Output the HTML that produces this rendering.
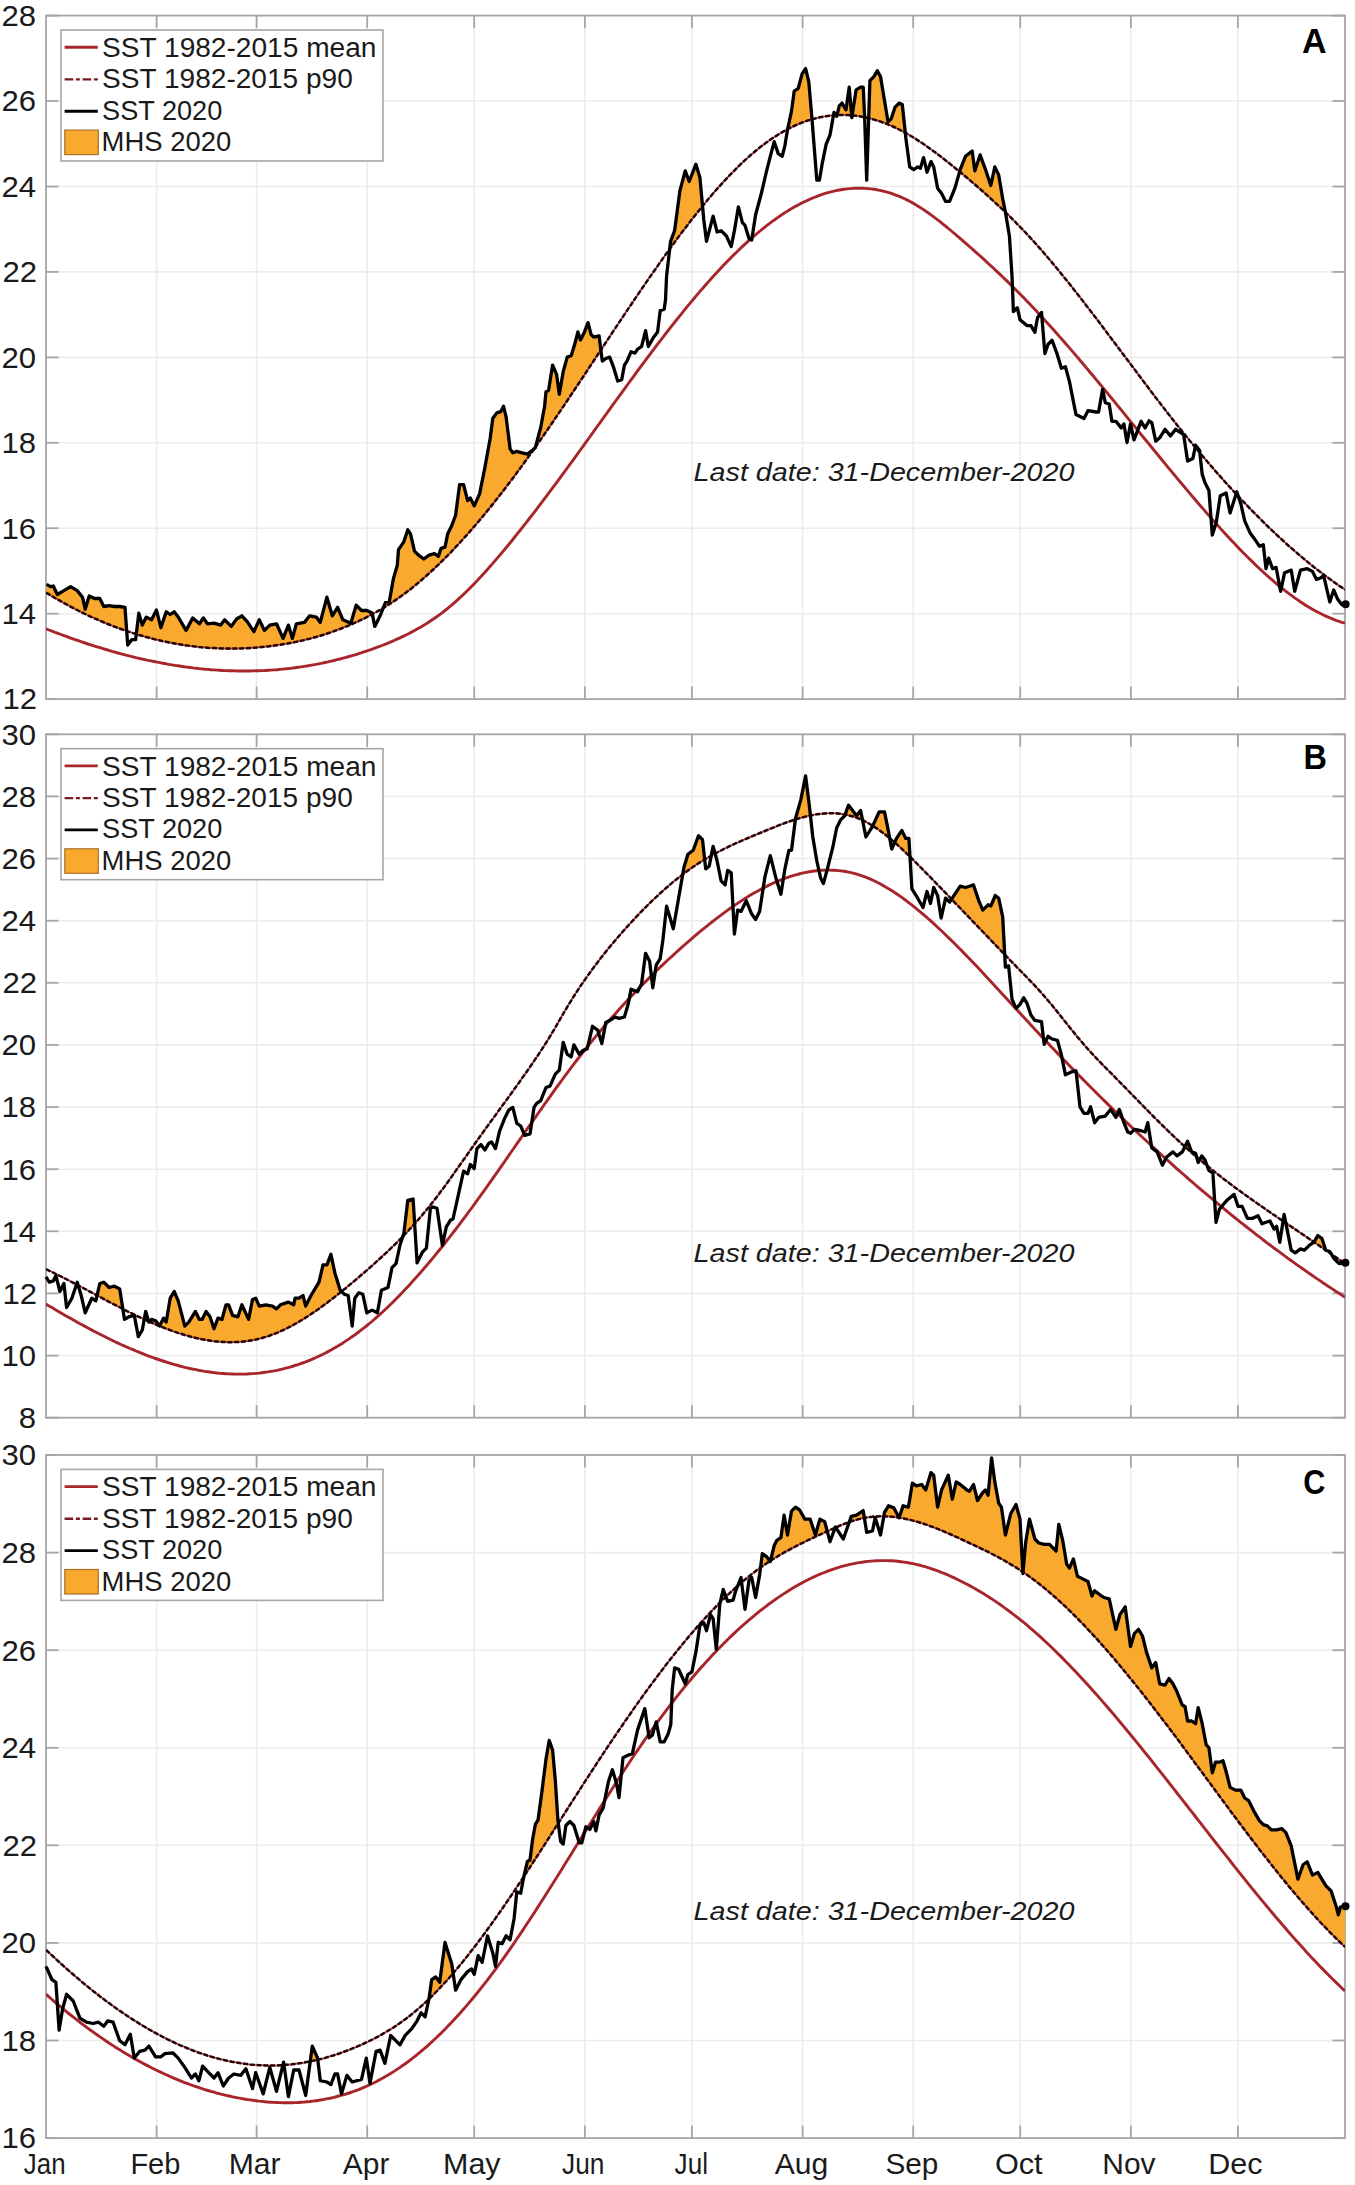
<!DOCTYPE html>
<html><head><meta charset="utf-8"><style>
html,body{margin:0;padding:0;background:#fff;}
svg{display:block;}
.grid{stroke:#ececec;stroke-width:1.6;}
.axis{fill:none;stroke:#a6a6a6;stroke-width:1.8;}
.tick{stroke:#a6a6a6;stroke-width:1.8;}
.mean{fill:none;stroke:#a8252c;stroke-width:2.9;stroke-linejoin:round;}
.p90u{fill:none;stroke:#b83038;stroke-width:1.6;}
.p90{fill:none;stroke:#200505;stroke-width:2.5;stroke-dasharray:5 1.8;}
.p90l{fill:none;stroke:#7a1a24;stroke-width:2.4;stroke-dasharray:8.6 2.7 4 2.7;}
.sst{fill:none;stroke:#000;stroke-width:3.3;stroke-linejoin:round;}
.mhs{fill:#f8a92e;stroke:none;}
.mhsbox{fill:#f8a92e;stroke:#a8702a;stroke-width:1.2;}
.leg{fill:#fff;stroke:#a6a6a6;stroke-width:1.6;}
text{font-family:"Liberation Sans",sans-serif;fill:#1a1a1a;}
.yt{font-size:29.6px;}
.mt{font-size:29.2px;}
.lt{font-size:27px;}
.pl{font-size:35px;font-weight:bold;fill:#000;}
.ld{font-size:26.3px;font-style:italic;}
</style></head>
<body><svg width="1355" height="2185" viewBox="0 0 1355 2185">
<rect width="1355" height="2185" fill="#fff"/>
<line x1="156.6" y1="15.6" x2="156.6" y2="699.1" class="grid"/>
<line x1="256.6" y1="15.6" x2="256.6" y2="699.1" class="grid"/>
<line x1="367.2" y1="15.6" x2="367.2" y2="699.1" class="grid"/>
<line x1="474.2" y1="15.6" x2="474.2" y2="699.1" class="grid"/>
<line x1="584.9" y1="15.6" x2="584.9" y2="699.1" class="grid"/>
<line x1="691.9" y1="15.6" x2="691.9" y2="699.1" class="grid"/>
<line x1="802.6" y1="15.6" x2="802.6" y2="699.1" class="grid"/>
<line x1="913.2" y1="15.6" x2="913.2" y2="699.1" class="grid"/>
<line x1="1020.2" y1="15.6" x2="1020.2" y2="699.1" class="grid"/>
<line x1="1130.9" y1="15.6" x2="1130.9" y2="699.1" class="grid"/>
<line x1="1237.9" y1="15.6" x2="1237.9" y2="699.1" class="grid"/>
<line x1="46.0" y1="613.7" x2="1345.0" y2="613.7" class="grid"/>
<line x1="46.0" y1="528.2" x2="1345.0" y2="528.2" class="grid"/>
<line x1="46.0" y1="442.8" x2="1345.0" y2="442.8" class="grid"/>
<line x1="46.0" y1="357.4" x2="1345.0" y2="357.4" class="grid"/>
<line x1="46.0" y1="271.9" x2="1345.0" y2="271.9" class="grid"/>
<line x1="46.0" y1="186.5" x2="1345.0" y2="186.5" class="grid"/>
<line x1="46.0" y1="101.0" x2="1345.0" y2="101.0" class="grid"/>
<rect x="46.0" y="15.6" width="1299.0" height="683.5" class="axis"/>
<line x1="156.6" y1="699.1" x2="156.6" y2="686.6" class="tick"/>
<line x1="156.6" y1="15.6" x2="156.6" y2="28.1" class="tick"/>
<line x1="256.6" y1="699.1" x2="256.6" y2="686.6" class="tick"/>
<line x1="256.6" y1="15.6" x2="256.6" y2="28.1" class="tick"/>
<line x1="367.2" y1="699.1" x2="367.2" y2="686.6" class="tick"/>
<line x1="367.2" y1="15.6" x2="367.2" y2="28.1" class="tick"/>
<line x1="474.2" y1="699.1" x2="474.2" y2="686.6" class="tick"/>
<line x1="474.2" y1="15.6" x2="474.2" y2="28.1" class="tick"/>
<line x1="584.9" y1="699.1" x2="584.9" y2="686.6" class="tick"/>
<line x1="584.9" y1="15.6" x2="584.9" y2="28.1" class="tick"/>
<line x1="691.9" y1="699.1" x2="691.9" y2="686.6" class="tick"/>
<line x1="691.9" y1="15.6" x2="691.9" y2="28.1" class="tick"/>
<line x1="802.6" y1="699.1" x2="802.6" y2="686.6" class="tick"/>
<line x1="802.6" y1="15.6" x2="802.6" y2="28.1" class="tick"/>
<line x1="913.2" y1="699.1" x2="913.2" y2="686.6" class="tick"/>
<line x1="913.2" y1="15.6" x2="913.2" y2="28.1" class="tick"/>
<line x1="1020.2" y1="699.1" x2="1020.2" y2="686.6" class="tick"/>
<line x1="1020.2" y1="15.6" x2="1020.2" y2="28.1" class="tick"/>
<line x1="1130.9" y1="699.1" x2="1130.9" y2="686.6" class="tick"/>
<line x1="1130.9" y1="15.6" x2="1130.9" y2="28.1" class="tick"/>
<line x1="1237.9" y1="699.1" x2="1237.9" y2="686.6" class="tick"/>
<line x1="1237.9" y1="15.6" x2="1237.9" y2="28.1" class="tick"/>
<line x1="46.0" y1="699.1" x2="58.5" y2="699.1" class="tick"/>
<line x1="1345.0" y1="699.1" x2="1332.5" y2="699.1" class="tick"/>
<text x="2.5" y="709.4" class="yt" textLength="34.6" lengthAdjust="spacingAndGlyphs">12</text>
<line x1="46.0" y1="613.7" x2="58.5" y2="613.7" class="tick"/>
<line x1="1345.0" y1="613.7" x2="1332.5" y2="613.7" class="tick"/>
<text x="1.4" y="624.0" class="yt" textLength="34.6" lengthAdjust="spacingAndGlyphs">14</text>
<line x1="46.0" y1="528.2" x2="58.5" y2="528.2" class="tick"/>
<line x1="1345.0" y1="528.2" x2="1332.5" y2="528.2" class="tick"/>
<text x="1.4" y="538.5" class="yt" textLength="34.6" lengthAdjust="spacingAndGlyphs">16</text>
<line x1="46.0" y1="442.8" x2="58.5" y2="442.8" class="tick"/>
<line x1="1345.0" y1="442.8" x2="1332.5" y2="442.8" class="tick"/>
<text x="1.4" y="453.1" class="yt" textLength="34.6" lengthAdjust="spacingAndGlyphs">18</text>
<line x1="46.0" y1="357.4" x2="58.5" y2="357.4" class="tick"/>
<line x1="1345.0" y1="357.4" x2="1332.5" y2="357.4" class="tick"/>
<text x="1.4" y="367.7" class="yt" textLength="34.6" lengthAdjust="spacingAndGlyphs">20</text>
<line x1="46.0" y1="271.9" x2="58.5" y2="271.9" class="tick"/>
<line x1="1345.0" y1="271.9" x2="1332.5" y2="271.9" class="tick"/>
<text x="2.5" y="282.2" class="yt" textLength="34.6" lengthAdjust="spacingAndGlyphs">22</text>
<line x1="46.0" y1="186.5" x2="58.5" y2="186.5" class="tick"/>
<line x1="1345.0" y1="186.5" x2="1332.5" y2="186.5" class="tick"/>
<text x="1.4" y="196.8" class="yt" textLength="34.6" lengthAdjust="spacingAndGlyphs">24</text>
<line x1="46.0" y1="101.0" x2="58.5" y2="101.0" class="tick"/>
<line x1="1345.0" y1="101.0" x2="1332.5" y2="101.0" class="tick"/>
<text x="1.4" y="111.3" class="yt" textLength="34.6" lengthAdjust="spacingAndGlyphs">26</text>
<line x1="46.0" y1="15.6" x2="58.5" y2="15.6" class="tick"/>
<line x1="1345.0" y1="15.6" x2="1332.5" y2="15.6" class="tick"/>
<text x="1.4" y="25.9" class="yt" textLength="34.6" lengthAdjust="spacingAndGlyphs">28</text>
<clipPath id="clipA"><path d="M46.0 592.6 L49.0 594.4 L52.0 596.2 L55.0 598.0 L58.0 599.7 L61.0 601.4 L64.0 603.1 L67.0 604.7 L70.0 606.3 L73.0 607.9 L76.0 609.5 L79.0 611.0 L82.0 612.5 L85.0 613.9 L88.0 615.4 L91.0 616.8 L94.0 618.1 L97.0 619.4 L100.0 620.8 L103.0 622.0 L106.0 623.3 L109.0 624.5 L112.0 625.7 L115.0 626.8 L118.0 627.9 L121.0 629.0 L124.0 630.1 L127.0 631.1 L130.0 632.1 L133.0 633.1 L136.0 634.0 L139.0 635.0 L142.0 635.8 L145.0 636.7 L148.0 637.5 L151.0 638.3 L154.0 639.1 L157.0 639.8 L160.0 640.5 L163.0 641.2 L166.0 641.8 L169.0 642.4 L172.0 643.0 L175.0 643.6 L178.0 644.1 L181.0 644.6 L184.0 645.1 L187.0 645.5 L190.0 645.9 L193.0 646.3 L196.0 646.6 L199.0 647.0 L202.0 647.3 L205.0 647.5 L208.0 647.8 L211.0 648.0 L214.0 648.1 L217.0 648.3 L220.0 648.4 L223.0 648.5 L226.0 648.6 L229.0 648.6 L232.0 648.6 L235.0 648.6 L238.0 648.5 L241.0 648.4 L244.0 648.3 L247.0 648.2 L250.0 648.0 L253.0 647.8 L256.0 647.6 L259.0 647.3 L262.0 647.0 L265.0 646.7 L268.0 646.4 L271.0 646.0 L274.0 645.6 L277.0 645.2 L280.0 644.8 L283.0 644.3 L286.0 643.8 L289.0 643.2 L292.0 642.7 L295.0 642.1 L298.0 641.4 L301.0 640.8 L304.0 640.1 L307.0 639.3 L310.0 638.6 L313.0 637.8 L316.0 637.0 L319.0 636.1 L322.0 635.2 L325.0 634.3 L328.0 633.3 L331.0 632.3 L334.0 631.2 L337.0 630.1 L340.0 629.0 L343.0 627.8 L346.0 626.6 L349.0 625.4 L352.0 624.1 L355.0 622.7 L358.0 621.4 L361.0 619.9 L364.0 618.5 L367.0 617.0 L370.0 615.4 L373.0 613.8 L376.0 612.1 L379.0 610.4 L382.0 608.7 L385.0 606.9 L388.0 605.0 L391.0 603.1 L394.0 601.1 L397.0 599.1 L400.0 597.0 L403.0 594.8 L406.0 592.6 L409.0 590.3 L412.0 587.9 L415.0 585.5 L418.0 583.0 L421.0 580.5 L424.0 577.9 L427.0 575.2 L430.0 572.5 L433.0 569.8 L436.0 566.9 L439.0 564.1 L442.0 561.1 L445.0 558.2 L448.0 555.1 L451.0 552.1 L454.0 548.9 L457.0 545.7 L460.0 542.5 L463.0 539.2 L466.0 535.9 L469.0 532.5 L472.0 529.1 L475.0 525.6 L478.0 522.1 L481.0 518.6 L484.0 515.0 L487.0 511.3 L490.0 507.6 L493.0 503.9 L496.0 500.1 L499.0 496.3 L502.0 492.5 L505.0 488.6 L508.0 484.6 L511.0 480.7 L514.0 476.7 L517.0 472.6 L520.0 468.6 L523.0 464.4 L526.0 460.3 L529.0 456.1 L532.0 451.9 L535.0 447.7 L538.0 443.4 L541.0 439.1 L544.0 434.8 L547.0 430.5 L550.0 426.1 L553.0 421.7 L556.0 417.3 L559.0 412.9 L562.0 408.4 L565.0 404.0 L568.0 399.5 L571.0 395.0 L574.0 390.5 L577.0 386.0 L580.0 381.5 L583.0 377.0 L586.0 372.5 L589.0 367.9 L592.0 363.4 L595.0 358.8 L598.0 354.3 L601.0 349.8 L604.0 345.2 L607.0 340.7 L610.0 336.2 L613.0 331.6 L616.0 327.1 L619.0 322.6 L622.0 318.1 L625.0 313.6 L628.0 309.1 L631.0 304.7 L634.0 300.2 L637.0 295.8 L640.0 291.4 L643.0 287.0 L646.0 282.6 L649.0 278.3 L652.0 274.0 L655.0 269.7 L658.0 265.4 L661.0 261.1 L664.0 256.9 L667.0 252.7 L670.0 248.6 L673.0 244.5 L676.0 240.4 L679.0 236.3 L682.0 232.3 L685.0 228.4 L688.0 224.4 L691.0 220.6 L694.0 216.7 L697.0 213.0 L700.0 209.2 L703.0 205.5 L706.0 201.9 L709.0 198.3 L712.0 194.8 L715.0 191.3 L718.0 187.9 L721.0 184.6 L724.0 181.3 L727.0 178.1 L730.0 174.9 L733.0 171.9 L736.0 168.8 L739.0 165.9 L742.0 163.0 L745.0 160.2 L748.0 157.5 L751.0 154.8 L754.0 152.3 L757.0 149.8 L760.0 147.3 L763.0 145.0 L766.0 142.8 L769.0 140.6 L772.0 138.5 L775.0 136.6 L778.0 134.7 L781.0 132.9 L784.0 131.1 L787.0 129.5 L790.0 128.0 L793.0 126.5 L796.0 125.1 L799.0 123.8 L802.0 122.6 L805.0 121.5 L808.0 120.5 L811.0 119.6 L814.0 118.7 L817.0 118.0 L820.0 117.3 L823.0 116.7 L826.0 116.2 L829.0 115.8 L832.0 115.4 L835.0 115.2 L838.0 115.0 L841.0 114.9 L844.0 114.9 L847.0 115.0 L850.0 115.2 L853.0 115.5 L856.0 115.8 L859.0 116.2 L862.0 116.7 L865.0 117.3 L868.0 118.0 L871.0 118.7 L874.0 119.6 L877.0 120.5 L880.0 121.4 L883.0 122.5 L886.0 123.6 L889.0 124.9 L892.0 126.1 L895.0 127.5 L898.0 129.0 L901.0 130.5 L904.0 132.1 L907.0 133.7 L910.0 135.5 L913.0 137.3 L916.0 139.1 L919.0 141.1 L922.0 143.0 L925.0 145.1 L928.0 147.2 L931.0 149.3 L934.0 151.5 L937.0 153.7 L940.0 156.0 L943.0 158.3 L946.0 160.7 L949.0 163.1 L952.0 165.5 L955.0 167.9 L958.0 170.4 L961.0 172.8 L964.0 175.3 L967.0 177.8 L970.0 180.4 L973.0 182.9 L976.0 185.5 L979.0 188.1 L982.0 190.7 L985.0 193.4 L988.0 196.0 L991.0 198.8 L994.0 201.5 L997.0 204.3 L1000.0 207.1 L1003.0 209.9 L1006.0 212.8 L1009.0 215.7 L1012.0 218.7 L1015.0 221.7 L1018.0 224.8 L1021.0 227.8 L1024.0 231.0 L1027.0 234.2 L1030.0 237.4 L1033.0 240.7 L1036.0 244.0 L1039.0 247.4 L1042.0 250.8 L1045.0 254.3 L1048.0 257.8 L1051.0 261.3 L1054.0 264.9 L1057.0 268.5 L1060.0 272.2 L1063.0 275.9 L1066.0 279.6 L1069.0 283.3 L1072.0 287.1 L1075.0 290.9 L1078.0 294.7 L1081.0 298.6 L1084.0 302.5 L1087.0 306.4 L1090.0 310.3 L1093.0 314.2 L1096.0 318.1 L1099.0 322.1 L1102.0 326.1 L1105.0 330.1 L1108.0 334.1 L1111.0 338.1 L1114.0 342.1 L1117.0 346.1 L1120.0 350.1 L1123.0 354.1 L1126.0 358.1 L1129.0 362.1 L1132.0 366.1 L1135.0 370.1 L1138.0 374.1 L1141.0 378.1 L1144.0 382.1 L1147.0 386.1 L1150.0 390.1 L1153.0 394.0 L1156.0 397.9 L1159.0 401.8 L1162.0 405.7 L1165.0 409.6 L1168.0 413.5 L1171.0 417.3 L1174.0 421.1 L1177.0 424.9 L1180.0 428.6 L1183.0 432.4 L1186.0 436.1 L1189.0 439.7 L1192.0 443.4 L1195.0 447.0 L1198.0 450.6 L1201.0 454.2 L1204.0 457.7 L1207.0 461.3 L1210.0 464.8 L1213.0 468.2 L1216.0 471.7 L1219.0 475.1 L1222.0 478.4 L1225.0 481.8 L1228.0 485.1 L1231.0 488.4 L1234.0 491.7 L1237.0 494.9 L1240.0 498.1 L1243.0 501.3 L1246.0 504.4 L1249.0 507.6 L1252.0 510.6 L1255.0 513.7 L1258.0 516.7 L1261.0 519.7 L1264.0 522.7 L1267.0 525.6 L1270.0 528.5 L1273.0 531.3 L1276.0 534.2 L1279.0 537.0 L1282.0 539.7 L1285.0 542.5 L1288.0 545.2 L1291.0 547.8 L1294.0 550.4 L1297.0 553.0 L1300.0 555.6 L1303.0 558.1 L1306.0 560.6 L1309.0 563.1 L1312.0 565.5 L1315.0 567.9 L1318.0 570.2 L1321.0 572.5 L1324.0 574.8 L1327.0 577.0 L1330.0 579.2 L1333.0 581.4 L1336.0 583.5 L1339.0 585.6 L1342.0 587.6 L1345.0 589.7 L1345.0 -34.4 L46.0 -34.4 Z"/></clipPath>
<clipPath id="axA"><rect x="46.0" y="15.6" width="1299.0" height="683.5"/></clipPath>
<g clip-path="url(#axA)">
<path d="M46.6 584.4 L50.6 586.6 L53.3 586.0 L57.3 594.5 L63.9 590.6 L70.6 586.6 L77.2 590.6 L82.5 597.2 L85.2 609.2 L89.2 595.9 L94.5 598.5 L99.8 598.5 L103.8 606.5 L109.1 605.7 L114.4 606.5 L119.7 606.5 L125.0 607.3 L127.7 645.0 L131.7 639.7 L135.6 639.7 L138.8 613.1 L142.3 625.1 L146.3 617.1 L151.6 619.8 L156.4 609.9 L160.9 627.7 L166.2 611.8 L170.2 614.5 L174.2 611.8 L178.2 617.1 L186.1 630.4 L192.8 617.9 L199.4 623.8 L203.4 617.9 L207.4 623.8 L214.0 623.2 L220.7 625.1 L224.6 619.8 L231.3 626.4 L236.6 619.0 L241.9 615.8 L247.2 621.6 L253.9 631.7 L259.2 619.8 L264.5 630.4 L269.8 625.1 L276.5 623.8 L283.1 638.4 L288.4 625.1 L292.4 638.4 L296.4 623.8 L304.4 622.4 L309.7 615.8 L316.3 617.1 L320.3 622.4 L326.9 597.2 L332.3 615.8 L337.6 607.3 L342.9 619.8 L350.8 623.2 L356.2 605.2 L361.5 610.5 L366.8 610.5 L372.1 613.1 L374.8 626.4 L380.1 615.8 L385.4 602.5 L389.4 601.2 L393.4 578.6 L397.3 565.3 L398.5 549.7 L403.8 541.8 L407.8 529.8 L410.5 533.8 L414.5 551.1 L418.5 555.1 L423.8 559.0 L429.1 555.1 L434.4 553.7 L438.4 556.4 L441.0 548.4 L445.0 547.1 L447.7 533.8 L451.7 525.8 L455.6 515.2 L459.6 484.6 L463.6 484.6 L467.6 500.6 L470.3 497.9 L474.2 505.9 L479.6 493.9 L484.9 467.4 L490.2 438.2 L492.8 418.2 L496.8 412.9 L500.8 411.6 L503.5 406.3 L506.1 416.9 L510.1 448.8 L512.8 452.8 L516.8 451.4 L522.1 452.8 L527.4 454.1 L532.7 450.1 L535.4 447.5 L540.7 427.5 L544.6 406.3 L546.0 391.7 L548.6 390.3 L552.6 365.1 L556.6 374.4 L559.3 394.3 L563.2 371.7 L567.2 357.1 L571.2 355.8 L575.2 342.5 L577.9 331.9 L580.5 339.9 L584.5 331.9 L588.0 322.6 L591.1 334.5 L593.8 337.2 L599.1 335.9 L600.4 346.5 L602.3 361.1 L605.8 358.5 L609.7 357.1 L613.7 367.7 L617.7 381.0 L621.7 379.7 L624.4 365.1 L627.0 361.1 L631.0 351.8 L635.0 353.1 L637.6 349.2 L641.6 346.5 L645.6 330.6 L648.3 346.5 L653.6 337.2 L657.6 331.9 L660.2 310.6 L664.2 309.3 L665.5 300.0 L666.6 275.8 L670.6 241.3 L674.6 230.7 L679.9 190.8 L685.2 170.9 L689.2 181.5 L695.9 164.2 L699.9 177.5 L703.8 220.0 L706.5 241.3 L713.1 216.1 L717.1 232.0 L721.1 230.7 L726.4 236.0 L731.2 246.6 L734.4 230.7 L738.4 206.8 L742.4 222.7 L745.0 225.4 L749.0 238.6 L751.7 240.0 L755.6 214.7 L761.0 194.8 L766.3 172.2 L770.3 156.3 L774.2 141.7 L778.2 153.6 L782.2 156.3 L784.9 145.6 L787.5 129.7 L791.5 111.1 L794.2 91.2 L798.2 88.5 L802.1 73.9 L805.6 68.6 L808.8 81.9 L812.0 119.1 L814.1 145.6 L816.8 180.2 L819.4 180.2 L822.1 164.2 L826.1 144.3 L830.0 135.0 L834.0 112.4 L836.7 116.4 L839.3 105.8 L842.0 103.1 L846.0 109.8 L849.2 87.2 L851.8 117.7 L856.1 89.9 L860.6 87.2 L863.2 87.2 L864.6 116.4 L866.7 180.2 L869.9 80.6 L873.9 76.6 L877.3 70.7 L880.5 76.6 L884.5 100.5 L888.0 121.7 L891.1 119.1 L895.1 107.1 L899.1 103.1 L902.3 104.5 L905.8 137.7 L909.7 166.9 L913.7 169.6 L917.7 166.9 L920.4 168.2 L923.6 157.6 L927.0 172.2 L931.0 161.6 L933.7 166.9 L937.6 188.2 L941.6 193.5 L945.6 201.4 L949.6 201.4 L954.9 188.2 L960.2 169.6 L965.5 156.3 L972.2 151.0 L974.8 170.9 L980.1 154.9 L985.5 169.6 L990.8 185.5 L994.8 166.9 L998.7 174.9 L1002.7 198.8 L1005.4 212.1 L1009.4 236.0 L1012.0 275.8 L1013.4 311.7 L1017.3 307.7 L1020.0 319.7 L1026.9 325.6 L1030.9 325.6 L1034.9 332.3 L1037.5 317.7 L1041.5 312.4 L1044.9 353.5 L1048.1 344.2 L1052.1 340.3 L1057.4 354.9 L1061.4 368.2 L1065.4 366.8 L1069.4 381.4 L1076.0 414.6 L1084.0 418.6 L1088.0 410.7 L1096.0 412.0 L1098.6 412.0 L1102.6 389.4 L1105.3 402.7 L1109.2 404.0 L1111.9 421.3 L1115.9 421.3 L1121.2 427.9 L1123.9 423.9 L1127.0 442.5 L1130.5 423.9 L1134.0 439.9 L1141.1 421.3 L1145.1 427.9 L1149.1 420.8 L1151.8 422.6 L1155.7 441.2 L1159.7 437.8 L1165.0 429.3 L1170.4 435.9 L1175.7 429.3 L1183.6 434.6 L1187.6 461.1 L1192.9 458.5 L1195.6 445.2 L1199.6 450.5 L1202.2 474.4 L1204.9 482.4 L1208.9 490.4 L1212.3 535.0 L1216.3 522.3 L1220.3 495.7 L1226.1 493.0 L1230.1 513.0 L1236.8 491.7 L1240.8 503.7 L1244.7 520.9 L1250.1 532.9 L1254.0 538.2 L1259.4 546.2 L1263.3 544.8 L1266.0 568.7 L1268.7 558.1 L1272.6 568.7 L1276.1 567.4 L1280.6 591.3 L1284.6 572.7 L1291.2 570.1 L1294.7 591.3 L1300.5 570.1 L1307.2 568.7 L1312.5 571.4 L1316.5 579.4 L1320.5 578.0 L1323.6 575.4 L1329.8 602.0 L1333.7 590.0 L1337.7 599.3 L1341.7 604.6 L1345.7 604.1 L1345.6 604.2 L1345.6 749.1 L46.6 749.1 Z" class="mhs" clip-path="url(#clipA)"/>
<path d="M46.0 628.8 L49.0 630.0 L52.0 631.1 L55.0 632.3 L58.0 633.4 L61.0 634.5 L64.0 635.6 L67.0 636.7 L70.0 637.8 L73.0 638.9 L76.0 639.9 L79.0 640.9 L82.0 642.0 L85.0 643.0 L88.0 644.0 L91.0 644.9 L94.0 645.9 L97.0 646.8 L100.0 647.7 L103.0 648.7 L106.0 649.5 L109.0 650.4 L112.0 651.3 L115.0 652.1 L118.0 653.0 L121.0 653.8 L124.0 654.6 L127.0 655.3 L130.0 656.1 L133.0 656.8 L136.0 657.6 L139.0 658.3 L142.0 659.0 L145.0 659.6 L148.0 660.3 L151.0 660.9 L154.0 661.5 L157.0 662.1 L160.0 662.7 L163.0 663.3 L166.0 663.8 L169.0 664.4 L172.0 664.9 L175.0 665.4 L178.0 665.8 L181.0 666.3 L184.0 666.7 L187.0 667.1 L190.0 667.5 L193.0 667.9 L196.0 668.2 L199.0 668.6 L202.0 668.9 L205.0 669.2 L208.0 669.4 L211.0 669.7 L214.0 669.9 L217.0 670.1 L220.0 670.3 L223.0 670.5 L226.0 670.6 L229.0 670.7 L232.0 670.8 L235.0 670.9 L238.0 671.0 L241.0 671.0 L244.0 671.0 L247.0 671.0 L250.0 671.0 L253.0 670.9 L256.0 670.8 L259.0 670.7 L262.0 670.6 L265.0 670.5 L268.0 670.3 L271.0 670.1 L274.0 669.9 L277.0 669.7 L280.0 669.4 L283.0 669.1 L286.0 668.8 L289.0 668.5 L292.0 668.1 L295.0 667.7 L298.0 667.3 L301.0 666.9 L304.0 666.4 L307.0 666.0 L310.0 665.4 L313.0 664.9 L316.0 664.4 L319.0 663.8 L322.0 663.2 L325.0 662.5 L328.0 661.9 L331.0 661.2 L334.0 660.5 L337.0 659.7 L340.0 659.0 L343.0 658.2 L346.0 657.4 L349.0 656.5 L352.0 655.7 L355.0 654.8 L358.0 653.8 L361.0 652.9 L364.0 651.9 L367.0 650.9 L370.0 649.9 L373.0 648.8 L376.0 647.7 L379.0 646.6 L382.0 645.5 L385.0 644.3 L388.0 643.1 L391.0 641.8 L394.0 640.5 L397.0 639.2 L400.0 637.9 L403.0 636.4 L406.0 635.0 L409.0 633.5 L412.0 631.9 L415.0 630.3 L418.0 628.6 L421.0 626.9 L424.0 625.1 L427.0 623.2 L430.0 621.3 L433.0 619.3 L436.0 617.2 L439.0 615.1 L442.0 612.9 L445.0 610.5 L448.0 608.1 L451.0 605.7 L454.0 603.1 L457.0 600.4 L460.0 597.7 L463.0 594.9 L466.0 592.0 L469.0 589.0 L472.0 586.0 L475.0 582.9 L478.0 579.8 L481.0 576.5 L484.0 573.2 L487.0 569.9 L490.0 566.5 L493.0 563.1 L496.0 559.6 L499.0 556.1 L502.0 552.6 L505.0 549.0 L508.0 545.3 L511.0 541.7 L514.0 538.0 L517.0 534.2 L520.0 530.5 L523.0 526.7 L526.0 522.9 L529.0 519.0 L532.0 515.2 L535.0 511.3 L538.0 507.3 L541.0 503.4 L544.0 499.4 L547.0 495.4 L550.0 491.4 L553.0 487.4 L556.0 483.3 L559.0 479.3 L562.0 475.2 L565.0 471.1 L568.0 467.0 L571.0 462.9 L574.0 458.8 L577.0 454.6 L580.0 450.5 L583.0 446.3 L586.0 442.2 L589.0 438.0 L592.0 433.8 L595.0 429.7 L598.0 425.5 L601.0 421.3 L604.0 417.2 L607.0 413.0 L610.0 408.8 L613.0 404.7 L616.0 400.5 L619.0 396.4 L622.0 392.3 L625.0 388.1 L628.0 384.0 L631.0 379.9 L634.0 375.8 L637.0 371.7 L640.0 367.7 L643.0 363.6 L646.0 359.6 L649.0 355.6 L652.0 351.6 L655.0 347.6 L658.0 343.7 L661.0 339.8 L664.0 335.9 L667.0 332.0 L670.0 328.2 L673.0 324.3 L676.0 320.5 L679.0 316.8 L682.0 313.1 L685.0 309.4 L688.0 305.7 L691.0 302.1 L694.0 298.5 L697.0 294.9 L700.0 291.4 L703.0 288.0 L706.0 284.5 L709.0 281.1 L712.0 277.8 L715.0 274.5 L718.0 271.2 L721.0 268.0 L724.0 264.8 L727.0 261.7 L730.0 258.7 L733.0 255.6 L736.0 252.7 L739.0 249.8 L742.0 246.9 L745.0 244.1 L748.0 241.4 L751.0 238.7 L754.0 236.1 L757.0 233.5 L760.0 231.0 L763.0 228.6 L766.0 226.2 L769.0 223.9 L772.0 221.6 L775.0 219.5 L778.0 217.4 L781.0 215.3 L784.0 213.3 L787.0 211.4 L790.0 209.6 L793.0 207.8 L796.0 206.1 L799.0 204.5 L802.0 202.9 L805.0 201.5 L808.0 200.1 L811.0 198.7 L814.0 197.5 L817.0 196.3 L820.0 195.2 L823.0 194.2 L826.0 193.2 L829.0 192.4 L832.0 191.6 L835.0 190.9 L838.0 190.2 L841.0 189.7 L844.0 189.2 L847.0 188.9 L850.0 188.6 L853.0 188.4 L856.0 188.2 L859.0 188.2 L862.0 188.2 L865.0 188.4 L868.0 188.6 L871.0 188.9 L874.0 189.3 L877.0 189.8 L880.0 190.4 L883.0 191.1 L886.0 191.9 L889.0 192.7 L892.0 193.7 L895.0 194.8 L898.0 195.9 L901.0 197.2 L904.0 198.5 L907.0 199.9 L910.0 201.5 L913.0 203.1 L916.0 204.9 L919.0 206.7 L922.0 208.6 L925.0 210.6 L928.0 212.7 L931.0 214.9 L934.0 217.1 L937.0 219.4 L940.0 221.7 L943.0 224.1 L946.0 226.5 L949.0 229.0 L952.0 231.5 L955.0 234.0 L958.0 236.6 L961.0 239.2 L964.0 241.8 L967.0 244.4 L970.0 247.0 L973.0 249.7 L976.0 252.3 L979.0 255.0 L982.0 257.7 L985.0 260.4 L988.0 263.2 L991.0 266.0 L994.0 268.7 L997.0 271.6 L1000.0 274.4 L1003.0 277.2 L1006.0 280.1 L1009.0 283.0 L1012.0 286.0 L1015.0 289.0 L1018.0 292.0 L1021.0 295.0 L1024.0 298.1 L1027.0 301.2 L1030.0 304.3 L1033.0 307.4 L1036.0 310.6 L1039.0 313.9 L1042.0 317.1 L1045.0 320.4 L1048.0 323.7 L1051.0 327.0 L1054.0 330.3 L1057.0 333.7 L1060.0 337.1 L1063.0 340.5 L1066.0 344.0 L1069.0 347.4 L1072.0 350.9 L1075.0 354.4 L1078.0 357.9 L1081.0 361.5 L1084.0 365.0 L1087.0 368.6 L1090.0 372.2 L1093.0 375.8 L1096.0 379.4 L1099.0 383.0 L1102.0 386.6 L1105.0 390.2 L1108.0 393.9 L1111.0 397.5 L1114.0 401.2 L1117.0 404.9 L1120.0 408.5 L1123.0 412.2 L1126.0 415.9 L1129.0 419.6 L1132.0 423.3 L1135.0 426.9 L1138.0 430.6 L1141.0 434.3 L1144.0 438.0 L1147.0 441.7 L1150.0 445.3 L1153.0 449.0 L1156.0 452.7 L1159.0 456.3 L1162.0 460.0 L1165.0 463.6 L1168.0 467.3 L1171.0 470.9 L1174.0 474.5 L1177.0 478.1 L1180.0 481.7 L1183.0 485.3 L1186.0 488.9 L1189.0 492.4 L1192.0 496.0 L1195.0 499.5 L1198.0 503.0 L1201.0 506.5 L1204.0 509.9 L1207.0 513.4 L1210.0 516.8 L1213.0 520.2 L1216.0 523.5 L1219.0 526.9 L1222.0 530.2 L1225.0 533.5 L1228.0 536.7 L1231.0 540.0 L1234.0 543.1 L1237.0 546.3 L1240.0 549.4 L1243.0 552.5 L1246.0 555.5 L1249.0 558.5 L1252.0 561.4 L1255.0 564.4 L1258.0 567.2 L1261.0 570.0 L1264.0 572.8 L1267.0 575.5 L1270.0 578.1 L1273.0 580.7 L1276.0 583.3 L1279.0 585.8 L1282.0 588.2 L1285.0 590.6 L1288.0 592.9 L1291.0 595.1 L1294.0 597.3 L1297.0 599.4 L1300.0 601.5 L1303.0 603.5 L1306.0 605.4 L1309.0 607.2 L1312.0 609.0 L1315.0 610.7 L1318.0 612.3 L1321.0 613.8 L1324.0 615.3 L1327.0 616.6 L1330.0 617.9 L1333.0 619.1 L1336.0 620.3 L1339.0 621.3 L1342.0 622.3 L1345.0 623.1" class="mean"/>
<path d="M46.0 592.6 L49.0 594.4 L52.0 596.2 L55.0 598.0 L58.0 599.7 L61.0 601.4 L64.0 603.1 L67.0 604.7 L70.0 606.3 L73.0 607.9 L76.0 609.5 L79.0 611.0 L82.0 612.5 L85.0 613.9 L88.0 615.4 L91.0 616.8 L94.0 618.1 L97.0 619.4 L100.0 620.8 L103.0 622.0 L106.0 623.3 L109.0 624.5 L112.0 625.7 L115.0 626.8 L118.0 627.9 L121.0 629.0 L124.0 630.1 L127.0 631.1 L130.0 632.1 L133.0 633.1 L136.0 634.0 L139.0 635.0 L142.0 635.8 L145.0 636.7 L148.0 637.5 L151.0 638.3 L154.0 639.1 L157.0 639.8 L160.0 640.5 L163.0 641.2 L166.0 641.8 L169.0 642.4 L172.0 643.0 L175.0 643.6 L178.0 644.1 L181.0 644.6 L184.0 645.1 L187.0 645.5 L190.0 645.9 L193.0 646.3 L196.0 646.6 L199.0 647.0 L202.0 647.3 L205.0 647.5 L208.0 647.8 L211.0 648.0 L214.0 648.1 L217.0 648.3 L220.0 648.4 L223.0 648.5 L226.0 648.6 L229.0 648.6 L232.0 648.6 L235.0 648.6 L238.0 648.5 L241.0 648.4 L244.0 648.3 L247.0 648.2 L250.0 648.0 L253.0 647.8 L256.0 647.6 L259.0 647.3 L262.0 647.0 L265.0 646.7 L268.0 646.4 L271.0 646.0 L274.0 645.6 L277.0 645.2 L280.0 644.8 L283.0 644.3 L286.0 643.8 L289.0 643.2 L292.0 642.7 L295.0 642.1 L298.0 641.4 L301.0 640.8 L304.0 640.1 L307.0 639.3 L310.0 638.6 L313.0 637.8 L316.0 637.0 L319.0 636.1 L322.0 635.2 L325.0 634.3 L328.0 633.3 L331.0 632.3 L334.0 631.2 L337.0 630.1 L340.0 629.0 L343.0 627.8 L346.0 626.6 L349.0 625.4 L352.0 624.1 L355.0 622.7 L358.0 621.4 L361.0 619.9 L364.0 618.5 L367.0 617.0 L370.0 615.4 L373.0 613.8 L376.0 612.1 L379.0 610.4 L382.0 608.7 L385.0 606.9 L388.0 605.0 L391.0 603.1 L394.0 601.1 L397.0 599.1 L400.0 597.0 L403.0 594.8 L406.0 592.6 L409.0 590.3 L412.0 587.9 L415.0 585.5 L418.0 583.0 L421.0 580.5 L424.0 577.9 L427.0 575.2 L430.0 572.5 L433.0 569.8 L436.0 566.9 L439.0 564.1 L442.0 561.1 L445.0 558.2 L448.0 555.1 L451.0 552.1 L454.0 548.9 L457.0 545.7 L460.0 542.5 L463.0 539.2 L466.0 535.9 L469.0 532.5 L472.0 529.1 L475.0 525.6 L478.0 522.1 L481.0 518.6 L484.0 515.0 L487.0 511.3 L490.0 507.6 L493.0 503.9 L496.0 500.1 L499.0 496.3 L502.0 492.5 L505.0 488.6 L508.0 484.6 L511.0 480.7 L514.0 476.7 L517.0 472.6 L520.0 468.6 L523.0 464.4 L526.0 460.3 L529.0 456.1 L532.0 451.9 L535.0 447.7 L538.0 443.4 L541.0 439.1 L544.0 434.8 L547.0 430.5 L550.0 426.1 L553.0 421.7 L556.0 417.3 L559.0 412.9 L562.0 408.4 L565.0 404.0 L568.0 399.5 L571.0 395.0 L574.0 390.5 L577.0 386.0 L580.0 381.5 L583.0 377.0 L586.0 372.5 L589.0 367.9 L592.0 363.4 L595.0 358.8 L598.0 354.3 L601.0 349.8 L604.0 345.2 L607.0 340.7 L610.0 336.2 L613.0 331.6 L616.0 327.1 L619.0 322.6 L622.0 318.1 L625.0 313.6 L628.0 309.1 L631.0 304.7 L634.0 300.2 L637.0 295.8 L640.0 291.4 L643.0 287.0 L646.0 282.6 L649.0 278.3 L652.0 274.0 L655.0 269.7 L658.0 265.4 L661.0 261.1 L664.0 256.9 L667.0 252.7 L670.0 248.6 L673.0 244.5 L676.0 240.4 L679.0 236.3 L682.0 232.3 L685.0 228.4 L688.0 224.4 L691.0 220.6 L694.0 216.7 L697.0 213.0 L700.0 209.2 L703.0 205.5 L706.0 201.9 L709.0 198.3 L712.0 194.8 L715.0 191.3 L718.0 187.9 L721.0 184.6 L724.0 181.3 L727.0 178.1 L730.0 174.9 L733.0 171.9 L736.0 168.8 L739.0 165.9 L742.0 163.0 L745.0 160.2 L748.0 157.5 L751.0 154.8 L754.0 152.3 L757.0 149.8 L760.0 147.3 L763.0 145.0 L766.0 142.8 L769.0 140.6 L772.0 138.5 L775.0 136.6 L778.0 134.7 L781.0 132.9 L784.0 131.1 L787.0 129.5 L790.0 128.0 L793.0 126.5 L796.0 125.1 L799.0 123.8 L802.0 122.6 L805.0 121.5 L808.0 120.5 L811.0 119.6 L814.0 118.7 L817.0 118.0 L820.0 117.3 L823.0 116.7 L826.0 116.2 L829.0 115.8 L832.0 115.4 L835.0 115.2 L838.0 115.0 L841.0 114.9 L844.0 114.9 L847.0 115.0 L850.0 115.2 L853.0 115.5 L856.0 115.8 L859.0 116.2 L862.0 116.7 L865.0 117.3 L868.0 118.0 L871.0 118.7 L874.0 119.6 L877.0 120.5 L880.0 121.4 L883.0 122.5 L886.0 123.6 L889.0 124.9 L892.0 126.1 L895.0 127.5 L898.0 129.0 L901.0 130.5 L904.0 132.1 L907.0 133.7 L910.0 135.5 L913.0 137.3 L916.0 139.1 L919.0 141.1 L922.0 143.0 L925.0 145.1 L928.0 147.2 L931.0 149.3 L934.0 151.5 L937.0 153.7 L940.0 156.0 L943.0 158.3 L946.0 160.7 L949.0 163.1 L952.0 165.5 L955.0 167.9 L958.0 170.4 L961.0 172.8 L964.0 175.3 L967.0 177.8 L970.0 180.4 L973.0 182.9 L976.0 185.5 L979.0 188.1 L982.0 190.7 L985.0 193.4 L988.0 196.0 L991.0 198.8 L994.0 201.5 L997.0 204.3 L1000.0 207.1 L1003.0 209.9 L1006.0 212.8 L1009.0 215.7 L1012.0 218.7 L1015.0 221.7 L1018.0 224.8 L1021.0 227.8 L1024.0 231.0 L1027.0 234.2 L1030.0 237.4 L1033.0 240.7 L1036.0 244.0 L1039.0 247.4 L1042.0 250.8 L1045.0 254.3 L1048.0 257.8 L1051.0 261.3 L1054.0 264.9 L1057.0 268.5 L1060.0 272.2 L1063.0 275.9 L1066.0 279.6 L1069.0 283.3 L1072.0 287.1 L1075.0 290.9 L1078.0 294.7 L1081.0 298.6 L1084.0 302.5 L1087.0 306.4 L1090.0 310.3 L1093.0 314.2 L1096.0 318.1 L1099.0 322.1 L1102.0 326.1 L1105.0 330.1 L1108.0 334.1 L1111.0 338.1 L1114.0 342.1 L1117.0 346.1 L1120.0 350.1 L1123.0 354.1 L1126.0 358.1 L1129.0 362.1 L1132.0 366.1 L1135.0 370.1 L1138.0 374.1 L1141.0 378.1 L1144.0 382.1 L1147.0 386.1 L1150.0 390.1 L1153.0 394.0 L1156.0 397.9 L1159.0 401.8 L1162.0 405.7 L1165.0 409.6 L1168.0 413.5 L1171.0 417.3 L1174.0 421.1 L1177.0 424.9 L1180.0 428.6 L1183.0 432.4 L1186.0 436.1 L1189.0 439.7 L1192.0 443.4 L1195.0 447.0 L1198.0 450.6 L1201.0 454.2 L1204.0 457.7 L1207.0 461.3 L1210.0 464.8 L1213.0 468.2 L1216.0 471.7 L1219.0 475.1 L1222.0 478.4 L1225.0 481.8 L1228.0 485.1 L1231.0 488.4 L1234.0 491.7 L1237.0 494.9 L1240.0 498.1 L1243.0 501.3 L1246.0 504.4 L1249.0 507.6 L1252.0 510.6 L1255.0 513.7 L1258.0 516.7 L1261.0 519.7 L1264.0 522.7 L1267.0 525.6 L1270.0 528.5 L1273.0 531.3 L1276.0 534.2 L1279.0 537.0 L1282.0 539.7 L1285.0 542.5 L1288.0 545.2 L1291.0 547.8 L1294.0 550.4 L1297.0 553.0 L1300.0 555.6 L1303.0 558.1 L1306.0 560.6 L1309.0 563.1 L1312.0 565.5 L1315.0 567.9 L1318.0 570.2 L1321.0 572.5 L1324.0 574.8 L1327.0 577.0 L1330.0 579.2 L1333.0 581.4 L1336.0 583.5 L1339.0 585.6 L1342.0 587.6 L1345.0 589.7" class="p90u"/>
<path d="M46.0 592.6 L49.0 594.4 L52.0 596.2 L55.0 598.0 L58.0 599.7 L61.0 601.4 L64.0 603.1 L67.0 604.7 L70.0 606.3 L73.0 607.9 L76.0 609.5 L79.0 611.0 L82.0 612.5 L85.0 613.9 L88.0 615.4 L91.0 616.8 L94.0 618.1 L97.0 619.4 L100.0 620.8 L103.0 622.0 L106.0 623.3 L109.0 624.5 L112.0 625.7 L115.0 626.8 L118.0 627.9 L121.0 629.0 L124.0 630.1 L127.0 631.1 L130.0 632.1 L133.0 633.1 L136.0 634.0 L139.0 635.0 L142.0 635.8 L145.0 636.7 L148.0 637.5 L151.0 638.3 L154.0 639.1 L157.0 639.8 L160.0 640.5 L163.0 641.2 L166.0 641.8 L169.0 642.4 L172.0 643.0 L175.0 643.6 L178.0 644.1 L181.0 644.6 L184.0 645.1 L187.0 645.5 L190.0 645.9 L193.0 646.3 L196.0 646.6 L199.0 647.0 L202.0 647.3 L205.0 647.5 L208.0 647.8 L211.0 648.0 L214.0 648.1 L217.0 648.3 L220.0 648.4 L223.0 648.5 L226.0 648.6 L229.0 648.6 L232.0 648.6 L235.0 648.6 L238.0 648.5 L241.0 648.4 L244.0 648.3 L247.0 648.2 L250.0 648.0 L253.0 647.8 L256.0 647.6 L259.0 647.3 L262.0 647.0 L265.0 646.7 L268.0 646.4 L271.0 646.0 L274.0 645.6 L277.0 645.2 L280.0 644.8 L283.0 644.3 L286.0 643.8 L289.0 643.2 L292.0 642.7 L295.0 642.1 L298.0 641.4 L301.0 640.8 L304.0 640.1 L307.0 639.3 L310.0 638.6 L313.0 637.8 L316.0 637.0 L319.0 636.1 L322.0 635.2 L325.0 634.3 L328.0 633.3 L331.0 632.3 L334.0 631.2 L337.0 630.1 L340.0 629.0 L343.0 627.8 L346.0 626.6 L349.0 625.4 L352.0 624.1 L355.0 622.7 L358.0 621.4 L361.0 619.9 L364.0 618.5 L367.0 617.0 L370.0 615.4 L373.0 613.8 L376.0 612.1 L379.0 610.4 L382.0 608.7 L385.0 606.9 L388.0 605.0 L391.0 603.1 L394.0 601.1 L397.0 599.1 L400.0 597.0 L403.0 594.8 L406.0 592.6 L409.0 590.3 L412.0 587.9 L415.0 585.5 L418.0 583.0 L421.0 580.5 L424.0 577.9 L427.0 575.2 L430.0 572.5 L433.0 569.8 L436.0 566.9 L439.0 564.1 L442.0 561.1 L445.0 558.2 L448.0 555.1 L451.0 552.1 L454.0 548.9 L457.0 545.7 L460.0 542.5 L463.0 539.2 L466.0 535.9 L469.0 532.5 L472.0 529.1 L475.0 525.6 L478.0 522.1 L481.0 518.6 L484.0 515.0 L487.0 511.3 L490.0 507.6 L493.0 503.9 L496.0 500.1 L499.0 496.3 L502.0 492.5 L505.0 488.6 L508.0 484.6 L511.0 480.7 L514.0 476.7 L517.0 472.6 L520.0 468.6 L523.0 464.4 L526.0 460.3 L529.0 456.1 L532.0 451.9 L535.0 447.7 L538.0 443.4 L541.0 439.1 L544.0 434.8 L547.0 430.5 L550.0 426.1 L553.0 421.7 L556.0 417.3 L559.0 412.9 L562.0 408.4 L565.0 404.0 L568.0 399.5 L571.0 395.0 L574.0 390.5 L577.0 386.0 L580.0 381.5 L583.0 377.0 L586.0 372.5 L589.0 367.9 L592.0 363.4 L595.0 358.8 L598.0 354.3 L601.0 349.8 L604.0 345.2 L607.0 340.7 L610.0 336.2 L613.0 331.6 L616.0 327.1 L619.0 322.6 L622.0 318.1 L625.0 313.6 L628.0 309.1 L631.0 304.7 L634.0 300.2 L637.0 295.8 L640.0 291.4 L643.0 287.0 L646.0 282.6 L649.0 278.3 L652.0 274.0 L655.0 269.7 L658.0 265.4 L661.0 261.1 L664.0 256.9 L667.0 252.7 L670.0 248.6 L673.0 244.5 L676.0 240.4 L679.0 236.3 L682.0 232.3 L685.0 228.4 L688.0 224.4 L691.0 220.6 L694.0 216.7 L697.0 213.0 L700.0 209.2 L703.0 205.5 L706.0 201.9 L709.0 198.3 L712.0 194.8 L715.0 191.3 L718.0 187.9 L721.0 184.6 L724.0 181.3 L727.0 178.1 L730.0 174.9 L733.0 171.9 L736.0 168.8 L739.0 165.9 L742.0 163.0 L745.0 160.2 L748.0 157.5 L751.0 154.8 L754.0 152.3 L757.0 149.8 L760.0 147.3 L763.0 145.0 L766.0 142.8 L769.0 140.6 L772.0 138.5 L775.0 136.6 L778.0 134.7 L781.0 132.9 L784.0 131.1 L787.0 129.5 L790.0 128.0 L793.0 126.5 L796.0 125.1 L799.0 123.8 L802.0 122.6 L805.0 121.5 L808.0 120.5 L811.0 119.6 L814.0 118.7 L817.0 118.0 L820.0 117.3 L823.0 116.7 L826.0 116.2 L829.0 115.8 L832.0 115.4 L835.0 115.2 L838.0 115.0 L841.0 114.9 L844.0 114.9 L847.0 115.0 L850.0 115.2 L853.0 115.5 L856.0 115.8 L859.0 116.2 L862.0 116.7 L865.0 117.3 L868.0 118.0 L871.0 118.7 L874.0 119.6 L877.0 120.5 L880.0 121.4 L883.0 122.5 L886.0 123.6 L889.0 124.9 L892.0 126.1 L895.0 127.5 L898.0 129.0 L901.0 130.5 L904.0 132.1 L907.0 133.7 L910.0 135.5 L913.0 137.3 L916.0 139.1 L919.0 141.1 L922.0 143.0 L925.0 145.1 L928.0 147.2 L931.0 149.3 L934.0 151.5 L937.0 153.7 L940.0 156.0 L943.0 158.3 L946.0 160.7 L949.0 163.1 L952.0 165.5 L955.0 167.9 L958.0 170.4 L961.0 172.8 L964.0 175.3 L967.0 177.8 L970.0 180.4 L973.0 182.9 L976.0 185.5 L979.0 188.1 L982.0 190.7 L985.0 193.4 L988.0 196.0 L991.0 198.8 L994.0 201.5 L997.0 204.3 L1000.0 207.1 L1003.0 209.9 L1006.0 212.8 L1009.0 215.7 L1012.0 218.7 L1015.0 221.7 L1018.0 224.8 L1021.0 227.8 L1024.0 231.0 L1027.0 234.2 L1030.0 237.4 L1033.0 240.7 L1036.0 244.0 L1039.0 247.4 L1042.0 250.8 L1045.0 254.3 L1048.0 257.8 L1051.0 261.3 L1054.0 264.9 L1057.0 268.5 L1060.0 272.2 L1063.0 275.9 L1066.0 279.6 L1069.0 283.3 L1072.0 287.1 L1075.0 290.9 L1078.0 294.7 L1081.0 298.6 L1084.0 302.5 L1087.0 306.4 L1090.0 310.3 L1093.0 314.2 L1096.0 318.1 L1099.0 322.1 L1102.0 326.1 L1105.0 330.1 L1108.0 334.1 L1111.0 338.1 L1114.0 342.1 L1117.0 346.1 L1120.0 350.1 L1123.0 354.1 L1126.0 358.1 L1129.0 362.1 L1132.0 366.1 L1135.0 370.1 L1138.0 374.1 L1141.0 378.1 L1144.0 382.1 L1147.0 386.1 L1150.0 390.1 L1153.0 394.0 L1156.0 397.9 L1159.0 401.8 L1162.0 405.7 L1165.0 409.6 L1168.0 413.5 L1171.0 417.3 L1174.0 421.1 L1177.0 424.9 L1180.0 428.6 L1183.0 432.4 L1186.0 436.1 L1189.0 439.7 L1192.0 443.4 L1195.0 447.0 L1198.0 450.6 L1201.0 454.2 L1204.0 457.7 L1207.0 461.3 L1210.0 464.8 L1213.0 468.2 L1216.0 471.7 L1219.0 475.1 L1222.0 478.4 L1225.0 481.8 L1228.0 485.1 L1231.0 488.4 L1234.0 491.7 L1237.0 494.9 L1240.0 498.1 L1243.0 501.3 L1246.0 504.4 L1249.0 507.6 L1252.0 510.6 L1255.0 513.7 L1258.0 516.7 L1261.0 519.7 L1264.0 522.7 L1267.0 525.6 L1270.0 528.5 L1273.0 531.3 L1276.0 534.2 L1279.0 537.0 L1282.0 539.7 L1285.0 542.5 L1288.0 545.2 L1291.0 547.8 L1294.0 550.4 L1297.0 553.0 L1300.0 555.6 L1303.0 558.1 L1306.0 560.6 L1309.0 563.1 L1312.0 565.5 L1315.0 567.9 L1318.0 570.2 L1321.0 572.5 L1324.0 574.8 L1327.0 577.0 L1330.0 579.2 L1333.0 581.4 L1336.0 583.5 L1339.0 585.6 L1342.0 587.6 L1345.0 589.7" class="p90"/>
</g>
<path d="M46.6 584.4 L50.6 586.6 L53.3 586.0 L57.3 594.5 L63.9 590.6 L70.6 586.6 L77.2 590.6 L82.5 597.2 L85.2 609.2 L89.2 595.9 L94.5 598.5 L99.8 598.5 L103.8 606.5 L109.1 605.7 L114.4 606.5 L119.7 606.5 L125.0 607.3 L127.7 645.0 L131.7 639.7 L135.6 639.7 L138.8 613.1 L142.3 625.1 L146.3 617.1 L151.6 619.8 L156.4 609.9 L160.9 627.7 L166.2 611.8 L170.2 614.5 L174.2 611.8 L178.2 617.1 L186.1 630.4 L192.8 617.9 L199.4 623.8 L203.4 617.9 L207.4 623.8 L214.0 623.2 L220.7 625.1 L224.6 619.8 L231.3 626.4 L236.6 619.0 L241.9 615.8 L247.2 621.6 L253.9 631.7 L259.2 619.8 L264.5 630.4 L269.8 625.1 L276.5 623.8 L283.1 638.4 L288.4 625.1 L292.4 638.4 L296.4 623.8 L304.4 622.4 L309.7 615.8 L316.3 617.1 L320.3 622.4 L326.9 597.2 L332.3 615.8 L337.6 607.3 L342.9 619.8 L350.8 623.2 L356.2 605.2 L361.5 610.5 L366.8 610.5 L372.1 613.1 L374.8 626.4 L380.1 615.8 L385.4 602.5 L389.4 601.2 L393.4 578.6 L397.3 565.3 L398.5 549.7 L403.8 541.8 L407.8 529.8 L410.5 533.8 L414.5 551.1 L418.5 555.1 L423.8 559.0 L429.1 555.1 L434.4 553.7 L438.4 556.4 L441.0 548.4 L445.0 547.1 L447.7 533.8 L451.7 525.8 L455.6 515.2 L459.6 484.6 L463.6 484.6 L467.6 500.6 L470.3 497.9 L474.2 505.9 L479.6 493.9 L484.9 467.4 L490.2 438.2 L492.8 418.2 L496.8 412.9 L500.8 411.6 L503.5 406.3 L506.1 416.9 L510.1 448.8 L512.8 452.8 L516.8 451.4 L522.1 452.8 L527.4 454.1 L532.7 450.1 L535.4 447.5 L540.7 427.5 L544.6 406.3 L546.0 391.7 L548.6 390.3 L552.6 365.1 L556.6 374.4 L559.3 394.3 L563.2 371.7 L567.2 357.1 L571.2 355.8 L575.2 342.5 L577.9 331.9 L580.5 339.9 L584.5 331.9 L588.0 322.6 L591.1 334.5 L593.8 337.2 L599.1 335.9 L600.4 346.5 L602.3 361.1 L605.8 358.5 L609.7 357.1 L613.7 367.7 L617.7 381.0 L621.7 379.7 L624.4 365.1 L627.0 361.1 L631.0 351.8 L635.0 353.1 L637.6 349.2 L641.6 346.5 L645.6 330.6 L648.3 346.5 L653.6 337.2 L657.6 331.9 L660.2 310.6 L664.2 309.3 L665.5 300.0 L666.6 275.8 L670.6 241.3 L674.6 230.7 L679.9 190.8 L685.2 170.9 L689.2 181.5 L695.9 164.2 L699.9 177.5 L703.8 220.0 L706.5 241.3 L713.1 216.1 L717.1 232.0 L721.1 230.7 L726.4 236.0 L731.2 246.6 L734.4 230.7 L738.4 206.8 L742.4 222.7 L745.0 225.4 L749.0 238.6 L751.7 240.0 L755.6 214.7 L761.0 194.8 L766.3 172.2 L770.3 156.3 L774.2 141.7 L778.2 153.6 L782.2 156.3 L784.9 145.6 L787.5 129.7 L791.5 111.1 L794.2 91.2 L798.2 88.5 L802.1 73.9 L805.6 68.6 L808.8 81.9 L812.0 119.1 L814.1 145.6 L816.8 180.2 L819.4 180.2 L822.1 164.2 L826.1 144.3 L830.0 135.0 L834.0 112.4 L836.7 116.4 L839.3 105.8 L842.0 103.1 L846.0 109.8 L849.2 87.2 L851.8 117.7 L856.1 89.9 L860.6 87.2 L863.2 87.2 L864.6 116.4 L866.7 180.2 L869.9 80.6 L873.9 76.6 L877.3 70.7 L880.5 76.6 L884.5 100.5 L888.0 121.7 L891.1 119.1 L895.1 107.1 L899.1 103.1 L902.3 104.5 L905.8 137.7 L909.7 166.9 L913.7 169.6 L917.7 166.9 L920.4 168.2 L923.6 157.6 L927.0 172.2 L931.0 161.6 L933.7 166.9 L937.6 188.2 L941.6 193.5 L945.6 201.4 L949.6 201.4 L954.9 188.2 L960.2 169.6 L965.5 156.3 L972.2 151.0 L974.8 170.9 L980.1 154.9 L985.5 169.6 L990.8 185.5 L994.8 166.9 L998.7 174.9 L1002.7 198.8 L1005.4 212.1 L1009.4 236.0 L1012.0 275.8 L1013.4 311.7 L1017.3 307.7 L1020.0 319.7 L1026.9 325.6 L1030.9 325.6 L1034.9 332.3 L1037.5 317.7 L1041.5 312.4 L1044.9 353.5 L1048.1 344.2 L1052.1 340.3 L1057.4 354.9 L1061.4 368.2 L1065.4 366.8 L1069.4 381.4 L1076.0 414.6 L1084.0 418.6 L1088.0 410.7 L1096.0 412.0 L1098.6 412.0 L1102.6 389.4 L1105.3 402.7 L1109.2 404.0 L1111.9 421.3 L1115.9 421.3 L1121.2 427.9 L1123.9 423.9 L1127.0 442.5 L1130.5 423.9 L1134.0 439.9 L1141.1 421.3 L1145.1 427.9 L1149.1 420.8 L1151.8 422.6 L1155.7 441.2 L1159.7 437.8 L1165.0 429.3 L1170.4 435.9 L1175.7 429.3 L1183.6 434.6 L1187.6 461.1 L1192.9 458.5 L1195.6 445.2 L1199.6 450.5 L1202.2 474.4 L1204.9 482.4 L1208.9 490.4 L1212.3 535.0 L1216.3 522.3 L1220.3 495.7 L1226.1 493.0 L1230.1 513.0 L1236.8 491.7 L1240.8 503.7 L1244.7 520.9 L1250.1 532.9 L1254.0 538.2 L1259.4 546.2 L1263.3 544.8 L1266.0 568.7 L1268.7 558.1 L1272.6 568.7 L1276.1 567.4 L1280.6 591.3 L1284.6 572.7 L1291.2 570.1 L1294.7 591.3 L1300.5 570.1 L1307.2 568.7 L1312.5 571.4 L1316.5 579.4 L1320.5 578.0 L1323.6 575.4 L1329.8 602.0 L1333.7 590.0 L1337.7 599.3 L1341.7 604.6 L1345.7 604.1 L1345.6 604.2" class="sst"/>
<circle cx="1345.6" cy="604.2" r="4" fill="#000"/>
<rect x="61" y="30.0" width="322" height="131" class="leg"/>
<line x1="64.6" y1="47.2" x2="97.8" y2="47.2" class="mean" style="stroke-width:2.9"/>
<line x1="64.6" y1="79.4" x2="97.8" y2="79.4" class="p90l"/>
<line x1="64.6" y1="111.2" x2="97.8" y2="111.2" class="sst" style="stroke-width:2.9"/>
<rect x="64.8" y="130.1" width="33.5" height="24.5" class="mhsbox"/>
<text x="102.1" y="56.8" class="lt" textLength="274.3" lengthAdjust="spacingAndGlyphs">SST 1982-2015 mean</text>
<text x="102.1" y="88.2" class="lt" textLength="250.7" lengthAdjust="spacingAndGlyphs">SST 1982-2015 p90</text>
<text x="102.1" y="119.7" class="lt" textLength="120.2" lengthAdjust="spacingAndGlyphs">SST 2020</text>
<text x="101.6" y="151.3" class="lt" textLength="129.6" lengthAdjust="spacingAndGlyphs">MHS 2020</text>
<text x="1301.9" y="52.8" class="pl" textLength="24.6" lengthAdjust="spacingAndGlyphs">A</text>
<text x="693.6" y="480.7" class="ld" textLength="380.9" lengthAdjust="spacingAndGlyphs">Last date: 31-December-2020</text>
<line x1="156.6" y1="734.3" x2="156.6" y2="1417.7" class="grid"/>
<line x1="256.6" y1="734.3" x2="256.6" y2="1417.7" class="grid"/>
<line x1="367.2" y1="734.3" x2="367.2" y2="1417.7" class="grid"/>
<line x1="474.2" y1="734.3" x2="474.2" y2="1417.7" class="grid"/>
<line x1="584.9" y1="734.3" x2="584.9" y2="1417.7" class="grid"/>
<line x1="691.9" y1="734.3" x2="691.9" y2="1417.7" class="grid"/>
<line x1="802.6" y1="734.3" x2="802.6" y2="1417.7" class="grid"/>
<line x1="913.2" y1="734.3" x2="913.2" y2="1417.7" class="grid"/>
<line x1="1020.2" y1="734.3" x2="1020.2" y2="1417.7" class="grid"/>
<line x1="1130.9" y1="734.3" x2="1130.9" y2="1417.7" class="grid"/>
<line x1="1237.9" y1="734.3" x2="1237.9" y2="1417.7" class="grid"/>
<line x1="46.0" y1="1355.6" x2="1345.0" y2="1355.6" class="grid"/>
<line x1="46.0" y1="1293.4" x2="1345.0" y2="1293.4" class="grid"/>
<line x1="46.0" y1="1231.3" x2="1345.0" y2="1231.3" class="grid"/>
<line x1="46.0" y1="1169.2" x2="1345.0" y2="1169.2" class="grid"/>
<line x1="46.0" y1="1107.1" x2="1345.0" y2="1107.1" class="grid"/>
<line x1="46.0" y1="1044.9" x2="1345.0" y2="1044.9" class="grid"/>
<line x1="46.0" y1="982.8" x2="1345.0" y2="982.8" class="grid"/>
<line x1="46.0" y1="920.7" x2="1345.0" y2="920.7" class="grid"/>
<line x1="46.0" y1="858.6" x2="1345.0" y2="858.6" class="grid"/>
<line x1="46.0" y1="796.4" x2="1345.0" y2="796.4" class="grid"/>
<rect x="46.0" y="734.3" width="1299.0" height="683.4" class="axis"/>
<line x1="156.6" y1="1417.7" x2="156.6" y2="1405.2" class="tick"/>
<line x1="156.6" y1="734.3" x2="156.6" y2="746.8" class="tick"/>
<line x1="256.6" y1="1417.7" x2="256.6" y2="1405.2" class="tick"/>
<line x1="256.6" y1="734.3" x2="256.6" y2="746.8" class="tick"/>
<line x1="367.2" y1="1417.7" x2="367.2" y2="1405.2" class="tick"/>
<line x1="367.2" y1="734.3" x2="367.2" y2="746.8" class="tick"/>
<line x1="474.2" y1="1417.7" x2="474.2" y2="1405.2" class="tick"/>
<line x1="474.2" y1="734.3" x2="474.2" y2="746.8" class="tick"/>
<line x1="584.9" y1="1417.7" x2="584.9" y2="1405.2" class="tick"/>
<line x1="584.9" y1="734.3" x2="584.9" y2="746.8" class="tick"/>
<line x1="691.9" y1="1417.7" x2="691.9" y2="1405.2" class="tick"/>
<line x1="691.9" y1="734.3" x2="691.9" y2="746.8" class="tick"/>
<line x1="802.6" y1="1417.7" x2="802.6" y2="1405.2" class="tick"/>
<line x1="802.6" y1="734.3" x2="802.6" y2="746.8" class="tick"/>
<line x1="913.2" y1="1417.7" x2="913.2" y2="1405.2" class="tick"/>
<line x1="913.2" y1="734.3" x2="913.2" y2="746.8" class="tick"/>
<line x1="1020.2" y1="1417.7" x2="1020.2" y2="1405.2" class="tick"/>
<line x1="1020.2" y1="734.3" x2="1020.2" y2="746.8" class="tick"/>
<line x1="1130.9" y1="1417.7" x2="1130.9" y2="1405.2" class="tick"/>
<line x1="1130.9" y1="734.3" x2="1130.9" y2="746.8" class="tick"/>
<line x1="1237.9" y1="1417.7" x2="1237.9" y2="1405.2" class="tick"/>
<line x1="1237.9" y1="734.3" x2="1237.9" y2="746.8" class="tick"/>
<line x1="46.0" y1="1417.7" x2="58.5" y2="1417.7" class="tick"/>
<line x1="1345.0" y1="1417.7" x2="1332.5" y2="1417.7" class="tick"/>
<text x="18.7" y="1428.0" class="yt" textLength="17.3" lengthAdjust="spacingAndGlyphs">8</text>
<line x1="46.0" y1="1355.6" x2="58.5" y2="1355.6" class="tick"/>
<line x1="1345.0" y1="1355.6" x2="1332.5" y2="1355.6" class="tick"/>
<text x="1.4" y="1365.9" class="yt" textLength="34.6" lengthAdjust="spacingAndGlyphs">10</text>
<line x1="46.0" y1="1293.4" x2="58.5" y2="1293.4" class="tick"/>
<line x1="1345.0" y1="1293.4" x2="1332.5" y2="1293.4" class="tick"/>
<text x="2.5" y="1303.7" class="yt" textLength="34.6" lengthAdjust="spacingAndGlyphs">12</text>
<line x1="46.0" y1="1231.3" x2="58.5" y2="1231.3" class="tick"/>
<line x1="1345.0" y1="1231.3" x2="1332.5" y2="1231.3" class="tick"/>
<text x="1.4" y="1241.6" class="yt" textLength="34.6" lengthAdjust="spacingAndGlyphs">14</text>
<line x1="46.0" y1="1169.2" x2="58.5" y2="1169.2" class="tick"/>
<line x1="1345.0" y1="1169.2" x2="1332.5" y2="1169.2" class="tick"/>
<text x="1.4" y="1179.5" class="yt" textLength="34.6" lengthAdjust="spacingAndGlyphs">16</text>
<line x1="46.0" y1="1107.1" x2="58.5" y2="1107.1" class="tick"/>
<line x1="1345.0" y1="1107.1" x2="1332.5" y2="1107.1" class="tick"/>
<text x="1.4" y="1117.4" class="yt" textLength="34.6" lengthAdjust="spacingAndGlyphs">18</text>
<line x1="46.0" y1="1044.9" x2="58.5" y2="1044.9" class="tick"/>
<line x1="1345.0" y1="1044.9" x2="1332.5" y2="1044.9" class="tick"/>
<text x="1.4" y="1055.2" class="yt" textLength="34.6" lengthAdjust="spacingAndGlyphs">20</text>
<line x1="46.0" y1="982.8" x2="58.5" y2="982.8" class="tick"/>
<line x1="1345.0" y1="982.8" x2="1332.5" y2="982.8" class="tick"/>
<text x="2.5" y="993.1" class="yt" textLength="34.6" lengthAdjust="spacingAndGlyphs">22</text>
<line x1="46.0" y1="920.7" x2="58.5" y2="920.7" class="tick"/>
<line x1="1345.0" y1="920.7" x2="1332.5" y2="920.7" class="tick"/>
<text x="1.4" y="931.0" class="yt" textLength="34.6" lengthAdjust="spacingAndGlyphs">24</text>
<line x1="46.0" y1="858.6" x2="58.5" y2="858.6" class="tick"/>
<line x1="1345.0" y1="858.6" x2="1332.5" y2="858.6" class="tick"/>
<text x="1.4" y="868.9" class="yt" textLength="34.6" lengthAdjust="spacingAndGlyphs">26</text>
<line x1="46.0" y1="796.4" x2="58.5" y2="796.4" class="tick"/>
<line x1="1345.0" y1="796.4" x2="1332.5" y2="796.4" class="tick"/>
<text x="1.4" y="806.7" class="yt" textLength="34.6" lengthAdjust="spacingAndGlyphs">28</text>
<line x1="46.0" y1="734.3" x2="58.5" y2="734.3" class="tick"/>
<line x1="1345.0" y1="734.3" x2="1332.5" y2="734.3" class="tick"/>
<text x="1.4" y="744.6" class="yt" textLength="34.6" lengthAdjust="spacingAndGlyphs">30</text>
<clipPath id="clipB"><path d="M46.0 1269.1 L49.0 1270.6 L52.0 1272.0 L55.0 1273.5 L58.0 1275.0 L61.0 1276.5 L64.0 1278.0 L67.0 1279.5 L70.0 1281.1 L73.0 1282.7 L76.0 1284.2 L79.0 1285.8 L82.0 1287.4 L85.0 1289.0 L88.0 1290.6 L91.0 1292.2 L94.0 1293.8 L97.0 1295.4 L100.0 1297.0 L103.0 1298.6 L106.0 1300.2 L109.0 1301.8 L112.0 1303.4 L115.0 1304.9 L118.0 1306.5 L121.0 1308.0 L124.0 1309.6 L127.0 1311.1 L130.0 1312.6 L133.0 1314.0 L136.0 1315.5 L139.0 1316.9 L142.0 1318.3 L145.0 1319.7 L148.0 1321.1 L151.0 1322.4 L154.0 1323.7 L157.0 1325.0 L160.0 1326.2 L163.0 1327.4 L166.0 1328.6 L169.0 1329.7 L172.0 1330.8 L175.0 1331.9 L178.0 1332.9 L181.0 1333.8 L184.0 1334.8 L187.0 1335.6 L190.0 1336.5 L193.0 1337.2 L196.0 1338.0 L199.0 1338.6 L202.0 1339.3 L205.0 1339.8 L208.0 1340.3 L211.0 1340.8 L214.0 1341.2 L217.0 1341.5 L220.0 1341.8 L223.0 1342.0 L226.0 1342.1 L229.0 1342.2 L232.0 1342.2 L235.0 1342.1 L238.0 1342.0 L241.0 1341.7 L244.0 1341.4 L247.0 1341.1 L250.0 1340.6 L253.0 1340.1 L256.0 1339.5 L259.0 1338.8 L262.0 1338.0 L265.0 1337.1 L268.0 1336.2 L271.0 1335.1 L274.0 1334.0 L277.0 1332.8 L280.0 1331.5 L283.0 1330.2 L286.0 1328.7 L289.0 1327.2 L292.0 1325.7 L295.0 1324.0 L298.0 1322.3 L301.0 1320.5 L304.0 1318.7 L307.0 1316.8 L310.0 1314.8 L313.0 1312.8 L316.0 1310.8 L319.0 1308.7 L322.0 1306.5 L325.0 1304.3 L328.0 1302.1 L331.0 1299.8 L334.0 1297.5 L337.0 1295.1 L340.0 1292.7 L343.0 1290.3 L346.0 1287.9 L349.0 1285.4 L352.0 1282.9 L355.0 1280.4 L358.0 1277.8 L361.0 1275.3 L364.0 1272.7 L367.0 1270.1 L370.0 1267.5 L373.0 1264.8 L376.0 1262.1 L379.0 1259.4 L382.0 1256.7 L385.0 1253.9 L388.0 1251.1 L391.0 1248.2 L394.0 1245.3 L397.0 1242.3 L400.0 1239.3 L403.0 1236.3 L406.0 1233.1 L409.0 1229.9 L412.0 1226.7 L415.0 1223.4 L418.0 1220.0 L421.0 1216.5 L424.0 1212.9 L427.0 1209.3 L430.0 1205.6 L433.0 1201.8 L436.0 1197.9 L439.0 1194.0 L442.0 1189.9 L445.0 1185.9 L448.0 1181.7 L451.0 1177.6 L454.0 1173.3 L457.0 1169.1 L460.0 1164.8 L463.0 1160.6 L466.0 1156.3 L469.0 1152.0 L472.0 1147.7 L475.0 1143.5 L478.0 1139.3 L481.0 1135.1 L484.0 1130.9 L487.0 1126.7 L490.0 1122.6 L493.0 1118.5 L496.0 1114.4 L499.0 1110.2 L502.0 1106.1 L505.0 1102.0 L508.0 1097.9 L511.0 1093.7 L514.0 1089.6 L517.0 1085.4 L520.0 1081.2 L523.0 1076.9 L526.0 1072.7 L529.0 1068.4 L532.0 1064.0 L535.0 1059.6 L538.0 1055.2 L541.0 1050.6 L544.0 1046.0 L547.0 1041.3 L550.0 1036.4 L553.0 1031.4 L556.0 1026.3 L559.0 1021.1 L562.0 1015.9 L565.0 1010.7 L568.0 1005.7 L571.0 1000.8 L574.0 996.0 L577.0 991.4 L580.0 986.8 L583.0 982.4 L586.0 978.1 L589.0 973.9 L592.0 969.7 L595.0 965.7 L598.0 961.7 L601.0 957.8 L604.0 954.0 L607.0 950.3 L610.0 946.6 L613.0 943.0 L616.0 939.5 L619.0 936.0 L622.0 932.5 L625.0 929.1 L628.0 925.8 L631.0 922.5 L634.0 919.3 L637.0 916.1 L640.0 912.9 L643.0 909.9 L646.0 906.8 L649.0 903.9 L652.0 900.9 L655.0 898.1 L658.0 895.3 L661.0 892.5 L664.0 889.8 L667.0 887.2 L670.0 884.6 L673.0 882.1 L676.0 879.7 L679.0 877.3 L682.0 875.0 L685.0 872.7 L688.0 870.5 L691.0 868.4 L694.0 866.3 L697.0 864.3 L700.0 862.4 L703.0 860.5 L706.0 858.7 L709.0 857.0 L712.0 855.3 L715.0 853.6 L718.0 852.0 L721.0 850.5 L724.0 848.9 L727.0 847.5 L730.0 846.0 L733.0 844.6 L736.0 843.2 L739.0 841.9 L742.0 840.6 L745.0 839.3 L748.0 838.0 L751.0 836.7 L754.0 835.5 L757.0 834.2 L760.0 833.0 L763.0 831.8 L766.0 830.5 L769.0 829.3 L772.0 828.1 L775.0 826.9 L778.0 825.7 L781.0 824.5 L784.0 823.4 L787.0 822.3 L790.0 821.3 L793.0 820.3 L796.0 819.3 L799.0 818.4 L802.0 817.5 L805.0 816.8 L808.0 816.0 L811.0 815.4 L814.0 814.8 L817.0 814.3 L820.0 813.9 L823.0 813.6 L826.0 813.4 L829.0 813.3 L832.0 813.2 L835.0 813.3 L838.0 813.6 L841.0 813.9 L844.0 814.4 L847.0 814.9 L850.0 815.7 L853.0 816.5 L856.0 817.5 L859.0 818.7 L862.0 820.0 L865.0 821.4 L868.0 823.0 L871.0 824.8 L874.0 826.6 L877.0 828.6 L880.0 830.7 L883.0 832.9 L886.0 835.2 L889.0 837.7 L892.0 840.2 L895.0 842.8 L898.0 845.4 L901.0 848.2 L904.0 851.0 L907.0 853.8 L910.0 856.7 L913.0 859.7 L916.0 862.7 L919.0 865.7 L922.0 868.7 L925.0 871.8 L928.0 874.8 L931.0 877.9 L934.0 881.0 L937.0 884.1 L940.0 887.2 L943.0 890.3 L946.0 893.4 L949.0 896.5 L952.0 899.7 L955.0 902.8 L958.0 905.9 L961.0 909.0 L964.0 912.2 L967.0 915.3 L970.0 918.4 L973.0 921.6 L976.0 924.7 L979.0 927.8 L982.0 930.9 L985.0 934.1 L988.0 937.2 L991.0 940.3 L994.0 943.4 L997.0 946.6 L1000.0 949.7 L1003.0 952.8 L1006.0 955.9 L1009.0 959.0 L1012.0 962.1 L1015.0 965.2 L1018.0 968.3 L1021.0 971.3 L1024.0 974.4 L1027.0 977.5 L1030.0 980.6 L1033.0 983.7 L1036.0 986.9 L1039.0 990.2 L1042.0 993.5 L1045.0 997.0 L1048.0 1000.5 L1051.0 1004.1 L1054.0 1007.7 L1057.0 1011.4 L1060.0 1015.2 L1063.0 1018.9 L1066.0 1022.7 L1069.0 1026.5 L1072.0 1030.2 L1075.0 1033.9 L1078.0 1037.6 L1081.0 1041.1 L1084.0 1044.6 L1087.0 1048.1 L1090.0 1051.4 L1093.0 1054.6 L1096.0 1057.8 L1099.0 1061.0 L1102.0 1064.1 L1105.0 1067.1 L1108.0 1070.2 L1111.0 1073.2 L1114.0 1076.2 L1117.0 1079.3 L1120.0 1082.3 L1123.0 1085.4 L1126.0 1088.4 L1129.0 1091.5 L1132.0 1094.6 L1135.0 1097.7 L1138.0 1100.7 L1141.0 1103.8 L1144.0 1106.9 L1147.0 1109.9 L1150.0 1113.0 L1153.0 1116.0 L1156.0 1119.0 L1159.0 1122.0 L1162.0 1125.0 L1165.0 1127.9 L1168.0 1130.8 L1171.0 1133.7 L1174.0 1136.6 L1177.0 1139.4 L1180.0 1142.2 L1183.0 1145.0 L1186.0 1147.7 L1189.0 1150.3 L1192.0 1153.0 L1195.0 1155.6 L1198.0 1158.2 L1201.0 1160.7 L1204.0 1163.2 L1207.0 1165.7 L1210.0 1168.1 L1213.0 1170.5 L1216.0 1172.9 L1219.0 1175.3 L1222.0 1177.6 L1225.0 1179.9 L1228.0 1182.2 L1231.0 1184.4 L1234.0 1186.7 L1237.0 1188.9 L1240.0 1191.1 L1243.0 1193.3 L1246.0 1195.4 L1249.0 1197.6 L1252.0 1199.7 L1255.0 1201.8 L1258.0 1203.9 L1261.0 1206.0 L1264.0 1208.1 L1267.0 1210.2 L1270.0 1212.2 L1273.0 1214.3 L1276.0 1216.3 L1279.0 1218.4 L1282.0 1220.4 L1285.0 1222.4 L1288.0 1224.5 L1291.0 1226.5 L1294.0 1228.5 L1297.0 1230.5 L1300.0 1232.6 L1303.0 1234.6 L1306.0 1236.6 L1309.0 1238.7 L1312.0 1240.7 L1315.0 1242.7 L1318.0 1244.8 L1321.0 1246.9 L1324.0 1248.9 L1327.0 1251.0 L1330.0 1253.1 L1333.0 1255.2 L1336.0 1257.3 L1339.0 1259.5 L1342.0 1261.6 L1345.0 1263.8 L1345.0 684.3 L46.0 684.3 Z"/></clipPath>
<clipPath id="axB"><rect x="46.0" y="734.3" width="1299.0" height="683.4"/></clipPath>
<g clip-path="url(#axB)">
<path d="M46.0 1276.9 L49.3 1282.2 L53.3 1280.9 L55.9 1275.6 L59.9 1291.5 L63.9 1283.5 L66.6 1307.5 L71.9 1298.2 L77.2 1282.2 L81.2 1295.5 L85.2 1312.8 L91.8 1298.2 L95.8 1300.8 L99.8 1283.5 L103.8 1282.2 L109.1 1287.5 L114.4 1286.2 L119.7 1288.9 L124.5 1319.4 L129.0 1316.8 L134.3 1315.4 L138.3 1336.7 L142.3 1330.0 L145.7 1311.4 L148.9 1322.1 L151.6 1319.4 L155.6 1320.7 L159.6 1326.1 L163.5 1318.1 L166.2 1322.1 L170.2 1298.2 L174.2 1291.5 L178.2 1300.8 L184.8 1326.1 L188.8 1322.1 L195.4 1311.4 L199.4 1319.4 L202.1 1319.4 L206.1 1311.4 L210.0 1316.8 L214.0 1328.7 L218.0 1318.1 L222.0 1319.4 L226.0 1304.8 L228.6 1304.8 L232.6 1315.4 L237.9 1316.8 L241.9 1304.8 L248.6 1319.4 L252.5 1299.5 L255.7 1298.2 L259.2 1306.1 L265.8 1304.8 L272.5 1306.1 L276.5 1308.8 L280.4 1304.8 L288.4 1302.1 L293.7 1304.8 L295.1 1298.2 L299.0 1298.2 L303.0 1295.5 L305.7 1306.1 L311.0 1295.5 L319.0 1282.2 L323.0 1264.9 L326.9 1264.9 L330.9 1254.3 L334.9 1272.9 L340.2 1290.2 L344.2 1294.2 L348.2 1295.5 L352.2 1326.1 L354.8 1298.2 L358.8 1292.8 L362.8 1294.2 L366.8 1312.8 L372.1 1310.1 L377.4 1312.8 L381.4 1290.2 L388.0 1287.5 L392.0 1267.6 L396.0 1263.6 L400.0 1245.0 L403.8 1233.6 L407.8 1200.4 L413.1 1199.0 L417.1 1262.8 L422.4 1252.2 L426.4 1248.2 L430.4 1208.3 L433.1 1207.0 L437.0 1208.3 L442.4 1245.5 L446.3 1226.9 L450.3 1220.3 L453.0 1219.0 L458.3 1195.1 L463.6 1171.1 L467.6 1173.8 L470.3 1164.5 L474.2 1168.5 L476.9 1148.6 L480.9 1144.6 L484.9 1149.9 L488.9 1143.2 L491.5 1141.9 L495.5 1148.6 L499.5 1131.3 L504.8 1118.0 L508.8 1110.0 L512.8 1107.4 L516.8 1123.3 L520.7 1126.0 L524.7 1135.3 L530.0 1133.9 L534.0 1107.4 L536.7 1103.4 L540.7 1100.7 L546.0 1087.5 L550.0 1086.1 L555.3 1074.2 L559.3 1070.2 L563.2 1042.3 L567.2 1054.2 L571.2 1056.9 L573.9 1044.9 L579.2 1054.2 L583.2 1050.3 L587.2 1048.9 L592.5 1026.3 L597.8 1030.3 L601.8 1043.6 L605.8 1022.4 L611.1 1019.7 L615.1 1017.0 L619.0 1018.4 L624.4 1017.0 L628.3 1003.8 L631.0 989.2 L637.6 991.8 L641.6 983.8 L645.6 953.3 L649.6 961.3 L652.8 987.8 L656.2 965.2 L660.2 958.6 L662.9 940.0 L666.6 906.1 L673.3 928.7 L678.6 898.2 L683.9 867.6 L687.9 854.3 L693.2 850.3 L698.5 835.7 L702.5 839.7 L705.7 868.9 L709.2 866.3 L713.1 846.3 L717.1 861.0 L721.1 880.9 L725.1 884.9 L727.7 870.3 L731.2 872.9 L734.4 934.0 L737.6 910.1 L741.0 911.4 L746.3 900.8 L751.7 914.1 L755.6 919.4 L759.6 911.4 L764.9 876.9 L770.3 855.6 L775.6 876.9 L780.9 894.2 L784.9 868.9 L788.9 850.3 L791.5 850.3 L795.5 818.5 L800.8 799.9 L805.6 775.9 L809.3 805.2 L812.8 837.0 L816.8 861.0 L820.7 878.2 L823.4 883.5 L827.4 868.9 L832.7 847.7 L836.7 827.7 L840.7 819.8 L844.6 815.8 L848.6 805.2 L852.6 810.5 L856.6 815.8 L860.6 810.5 L865.9 837.0 L872.5 826.4 L879.2 811.8 L884.5 811.8 L888.0 829.1 L891.7 849.0 L896.5 838.4 L901.8 830.4 L905.8 838.4 L908.9 838.4 L911.9 888.9 L917.7 898.2 L923.0 907.5 L927.0 891.5 L930.5 903.5 L933.7 887.5 L937.6 895.5 L941.1 918.1 L945.6 898.2 L949.6 902.1 L954.9 894.2 L960.2 886.2 L965.5 887.5 L969.5 886.2 L973.5 884.9 L978.8 900.8 L982.8 910.1 L988.1 904.8 L990.8 906.1 L995.3 895.5 L998.7 898.2 L1002.7 916.8 L1005.4 967.2 L1008.6 965.9 L1012.0 999.1 L1016.0 1008.4 L1020.0 1004.4 L1023.7 997.8 L1026.9 1003.1 L1030.9 1015.1 L1034.9 1020.4 L1041.5 1021.7 L1044.2 1044.3 L1048.1 1036.3 L1052.1 1039.0 L1057.4 1040.3 L1061.4 1054.9 L1065.4 1074.9 L1070.7 1072.2 L1076.0 1070.9 L1080.0 1106.8 L1084.0 1113.4 L1088.0 1113.4 L1090.6 1106.8 L1094.6 1122.7 L1098.6 1117.4 L1105.3 1116.1 L1110.6 1109.4 L1115.9 1117.4 L1119.3 1109.4 L1123.9 1122.7 L1127.8 1132.0 L1130.5 1133.3 L1134.5 1129.3 L1141.1 1130.7 L1145.1 1132.0 L1147.8 1122.7 L1151.8 1147.9 L1157.1 1151.9 L1162.4 1165.2 L1166.4 1157.2 L1173.0 1151.9 L1177.0 1155.9 L1182.3 1151.9 L1187.6 1141.3 L1191.6 1151.9 L1195.6 1153.2 L1198.2 1162.5 L1201.7 1155.9 L1204.9 1159.9 L1208.9 1170.5 L1212.9 1173.2 L1216.0 1222.3 L1219.5 1209.0 L1227.5 1199.7 L1234.1 1194.4 L1238.1 1206.4 L1242.1 1206.4 L1247.4 1218.3 L1252.7 1218.3 L1258.0 1215.7 L1262.0 1223.7 L1266.0 1222.3 L1270.0 1221.0 L1274.0 1229.0 L1276.6 1226.3 L1279.8 1242.3 L1284.1 1214.4 L1287.3 1230.3 L1291.2 1250.2 L1295.2 1252.9 L1300.5 1248.9 L1304.5 1250.2 L1309.8 1244.9 L1313.8 1242.3 L1317.8 1235.6 L1321.8 1238.3 L1325.8 1250.2 L1329.8 1251.5 L1333.7 1258.2 L1339.1 1263.5 L1343.0 1263.0 L1345.7 1263.0 L1345.4 1262.8 L1345.4 1467.7 L46.0 1467.7 Z" class="mhs" clip-path="url(#clipB)"/>
<path d="M46.0 1304.1 L49.0 1305.9 L52.0 1307.6 L55.0 1309.4 L58.0 1311.2 L61.0 1312.9 L64.0 1314.7 L67.0 1316.4 L70.0 1318.1 L73.0 1319.8 L76.0 1321.5 L79.0 1323.2 L82.0 1324.8 L85.0 1326.4 L88.0 1328.0 L91.0 1329.6 L94.0 1331.2 L97.0 1332.8 L100.0 1334.3 L103.0 1335.8 L106.0 1337.3 L109.0 1338.8 L112.0 1340.2 L115.0 1341.7 L118.0 1343.1 L121.0 1344.5 L124.0 1345.8 L127.0 1347.2 L130.0 1348.5 L133.0 1349.7 L136.0 1351.0 L139.0 1352.2 L142.0 1353.4 L145.0 1354.6 L148.0 1355.8 L151.0 1356.9 L154.0 1358.0 L157.0 1359.0 L160.0 1360.0 L163.0 1361.0 L166.0 1362.0 L169.0 1362.9 L172.0 1363.8 L175.0 1364.7 L178.0 1365.5 L181.0 1366.3 L184.0 1367.1 L187.0 1367.8 L190.0 1368.5 L193.0 1369.1 L196.0 1369.7 L199.0 1370.3 L202.0 1370.9 L205.0 1371.4 L208.0 1371.8 L211.0 1372.2 L214.0 1372.6 L217.0 1373.0 L220.0 1373.3 L223.0 1373.5 L226.0 1373.7 L229.0 1373.9 L232.0 1374.0 L235.0 1374.1 L238.0 1374.1 L241.0 1374.1 L244.0 1374.1 L247.0 1374.0 L250.0 1373.8 L253.0 1373.6 L256.0 1373.4 L259.0 1373.1 L262.0 1372.7 L265.0 1372.3 L268.0 1371.9 L271.0 1371.4 L274.0 1370.9 L277.0 1370.3 L280.0 1369.6 L283.0 1368.9 L286.0 1368.1 L289.0 1367.3 L292.0 1366.5 L295.0 1365.5 L298.0 1364.6 L301.0 1363.5 L304.0 1362.5 L307.0 1361.3 L310.0 1360.1 L313.0 1358.8 L316.0 1357.5 L319.0 1356.1 L322.0 1354.7 L325.0 1353.2 L328.0 1351.6 L331.0 1350.0 L334.0 1348.3 L337.0 1346.6 L340.0 1344.7 L343.0 1342.9 L346.0 1340.9 L349.0 1338.9 L352.0 1336.8 L355.0 1334.7 L358.0 1332.5 L361.0 1330.2 L364.0 1327.9 L367.0 1325.5 L370.0 1323.0 L373.0 1320.5 L376.0 1317.9 L379.0 1315.2 L382.0 1312.5 L385.0 1309.7 L388.0 1306.9 L391.0 1304.0 L394.0 1301.0 L397.0 1298.0 L400.0 1294.9 L403.0 1291.8 L406.0 1288.6 L409.0 1285.4 L412.0 1282.1 L415.0 1278.8 L418.0 1275.4 L421.0 1272.0 L424.0 1268.5 L427.0 1265.0 L430.0 1261.5 L433.0 1257.9 L436.0 1254.2 L439.0 1250.5 L442.0 1246.8 L445.0 1243.0 L448.0 1239.2 L451.0 1235.4 L454.0 1231.5 L457.0 1227.6 L460.0 1223.6 L463.0 1219.6 L466.0 1215.6 L469.0 1211.5 L472.0 1207.5 L475.0 1203.3 L478.0 1199.2 L481.0 1195.0 L484.0 1190.8 L487.0 1186.6 L490.0 1182.4 L493.0 1178.1 L496.0 1173.9 L499.0 1169.6 L502.0 1165.3 L505.0 1161.0 L508.0 1156.7 L511.0 1152.3 L514.0 1148.0 L517.0 1143.7 L520.0 1139.4 L523.0 1135.0 L526.0 1130.7 L529.0 1126.4 L532.0 1122.1 L535.0 1117.8 L538.0 1113.5 L541.0 1109.3 L544.0 1105.0 L547.0 1100.8 L550.0 1096.6 L553.0 1092.4 L556.0 1088.2 L559.0 1084.1 L562.0 1080.0 L565.0 1075.9 L568.0 1071.9 L571.0 1067.9 L574.0 1063.9 L577.0 1060.0 L580.0 1056.1 L583.0 1052.3 L586.0 1048.5 L589.0 1044.7 L592.0 1041.0 L595.0 1037.4 L598.0 1033.7 L601.0 1030.2 L604.0 1026.6 L607.0 1023.1 L610.0 1019.7 L613.0 1016.2 L616.0 1012.9 L619.0 1009.5 L622.0 1006.2 L625.0 1003.0 L628.0 999.7 L631.0 996.5 L634.0 993.4 L637.0 990.2 L640.0 987.1 L643.0 984.1 L646.0 981.1 L649.0 978.1 L652.0 975.1 L655.0 972.2 L658.0 969.3 L661.0 966.4 L664.0 963.6 L667.0 960.8 L670.0 958.0 L673.0 955.3 L676.0 952.5 L679.0 949.8 L682.0 947.2 L685.0 944.5 L688.0 941.9 L691.0 939.3 L694.0 936.7 L697.0 934.2 L700.0 931.7 L703.0 929.2 L706.0 926.8 L709.0 924.4 L712.0 922.0 L715.0 919.6 L718.0 917.3 L721.0 915.1 L724.0 912.9 L727.0 910.7 L730.0 908.5 L733.0 906.4 L736.0 904.4 L739.0 902.4 L742.0 900.4 L745.0 898.5 L748.0 896.6 L751.0 894.8 L754.0 893.1 L757.0 891.4 L760.0 889.7 L763.0 888.1 L766.0 886.6 L769.0 885.1 L772.0 883.7 L775.0 882.4 L778.0 881.1 L781.0 879.9 L784.0 878.7 L787.0 877.6 L790.0 876.6 L793.0 875.6 L796.0 874.8 L799.0 874.0 L802.0 873.2 L805.0 872.6 L808.0 872.0 L811.0 871.5 L814.0 871.0 L817.0 870.7 L820.0 870.4 L823.0 870.2 L826.0 870.1 L829.0 870.1 L832.0 870.2 L835.0 870.3 L838.0 870.6 L841.0 870.9 L844.0 871.3 L847.0 871.8 L850.0 872.4 L853.0 873.1 L856.0 873.9 L859.0 874.8 L862.0 875.8 L865.0 876.9 L868.0 878.1 L871.0 879.4 L874.0 880.8 L877.0 882.3 L880.0 883.8 L883.0 885.4 L886.0 887.2 L889.0 888.9 L892.0 890.8 L895.0 892.8 L898.0 894.8 L901.0 896.9 L904.0 899.0 L907.0 901.3 L910.0 903.6 L913.0 905.9 L916.0 908.3 L919.0 910.8 L922.0 913.3 L925.0 915.9 L928.0 918.5 L931.0 921.2 L934.0 923.9 L937.0 926.7 L940.0 929.5 L943.0 932.3 L946.0 935.2 L949.0 938.1 L952.0 941.0 L955.0 944.0 L958.0 947.0 L961.0 950.1 L964.0 953.1 L967.0 956.2 L970.0 959.3 L973.0 962.5 L976.0 965.6 L979.0 968.8 L982.0 972.0 L985.0 975.2 L988.0 978.4 L991.0 981.7 L994.0 984.9 L997.0 988.2 L1000.0 991.4 L1003.0 994.7 L1006.0 998.0 L1009.0 1001.2 L1012.0 1004.5 L1015.0 1007.8 L1018.0 1011.0 L1021.0 1014.3 L1024.0 1017.6 L1027.0 1020.8 L1030.0 1024.1 L1033.0 1027.3 L1036.0 1030.5 L1039.0 1033.7 L1042.0 1036.9 L1045.0 1040.1 L1048.0 1043.3 L1051.0 1046.4 L1054.0 1049.6 L1057.0 1052.7 L1060.0 1055.9 L1063.0 1059.0 L1066.0 1062.1 L1069.0 1065.2 L1072.0 1068.3 L1075.0 1071.3 L1078.0 1074.4 L1081.0 1077.4 L1084.0 1080.5 L1087.0 1083.5 L1090.0 1086.5 L1093.0 1089.5 L1096.0 1092.5 L1099.0 1095.5 L1102.0 1098.5 L1105.0 1101.4 L1108.0 1104.4 L1111.0 1107.3 L1114.0 1110.2 L1117.0 1113.1 L1120.0 1116.0 L1123.0 1118.9 L1126.0 1121.8 L1129.0 1124.6 L1132.0 1127.5 L1135.0 1130.3 L1138.0 1133.1 L1141.0 1136.0 L1144.0 1138.8 L1147.0 1141.5 L1150.0 1144.3 L1153.0 1147.1 L1156.0 1149.8 L1159.0 1152.6 L1162.0 1155.3 L1165.0 1158.0 L1168.0 1160.7 L1171.0 1163.4 L1174.0 1166.1 L1177.0 1168.8 L1180.0 1171.4 L1183.0 1174.0 L1186.0 1176.7 L1189.0 1179.3 L1192.0 1181.9 L1195.0 1184.5 L1198.0 1187.1 L1201.0 1189.6 L1204.0 1192.2 L1207.0 1194.7 L1210.0 1197.2 L1213.0 1199.7 L1216.0 1202.2 L1219.0 1204.7 L1222.0 1207.2 L1225.0 1209.7 L1228.0 1212.1 L1231.0 1214.6 L1234.0 1217.0 L1237.0 1219.4 L1240.0 1221.8 L1243.0 1224.2 L1246.0 1226.5 L1249.0 1228.9 L1252.0 1231.2 L1255.0 1233.6 L1258.0 1235.9 L1261.0 1238.2 L1264.0 1240.5 L1267.0 1242.8 L1270.0 1245.0 L1273.0 1247.3 L1276.0 1249.5 L1279.0 1251.7 L1282.0 1253.9 L1285.0 1256.1 L1288.0 1258.3 L1291.0 1260.5 L1294.0 1262.6 L1297.0 1264.8 L1300.0 1266.9 L1303.0 1269.0 L1306.0 1271.1 L1309.0 1273.2 L1312.0 1275.3 L1315.0 1277.4 L1318.0 1279.4 L1321.0 1281.4 L1324.0 1283.5 L1327.0 1285.5 L1330.0 1287.4 L1333.0 1289.4 L1336.0 1291.4 L1339.0 1293.3 L1342.0 1295.3 L1345.0 1297.2" class="mean"/>
<path d="M46.0 1269.1 L49.0 1270.6 L52.0 1272.0 L55.0 1273.5 L58.0 1275.0 L61.0 1276.5 L64.0 1278.0 L67.0 1279.5 L70.0 1281.1 L73.0 1282.7 L76.0 1284.2 L79.0 1285.8 L82.0 1287.4 L85.0 1289.0 L88.0 1290.6 L91.0 1292.2 L94.0 1293.8 L97.0 1295.4 L100.0 1297.0 L103.0 1298.6 L106.0 1300.2 L109.0 1301.8 L112.0 1303.4 L115.0 1304.9 L118.0 1306.5 L121.0 1308.0 L124.0 1309.6 L127.0 1311.1 L130.0 1312.6 L133.0 1314.0 L136.0 1315.5 L139.0 1316.9 L142.0 1318.3 L145.0 1319.7 L148.0 1321.1 L151.0 1322.4 L154.0 1323.7 L157.0 1325.0 L160.0 1326.2 L163.0 1327.4 L166.0 1328.6 L169.0 1329.7 L172.0 1330.8 L175.0 1331.9 L178.0 1332.9 L181.0 1333.8 L184.0 1334.8 L187.0 1335.6 L190.0 1336.5 L193.0 1337.2 L196.0 1338.0 L199.0 1338.6 L202.0 1339.3 L205.0 1339.8 L208.0 1340.3 L211.0 1340.8 L214.0 1341.2 L217.0 1341.5 L220.0 1341.8 L223.0 1342.0 L226.0 1342.1 L229.0 1342.2 L232.0 1342.2 L235.0 1342.1 L238.0 1342.0 L241.0 1341.7 L244.0 1341.4 L247.0 1341.1 L250.0 1340.6 L253.0 1340.1 L256.0 1339.5 L259.0 1338.8 L262.0 1338.0 L265.0 1337.1 L268.0 1336.2 L271.0 1335.1 L274.0 1334.0 L277.0 1332.8 L280.0 1331.5 L283.0 1330.2 L286.0 1328.7 L289.0 1327.2 L292.0 1325.7 L295.0 1324.0 L298.0 1322.3 L301.0 1320.5 L304.0 1318.7 L307.0 1316.8 L310.0 1314.8 L313.0 1312.8 L316.0 1310.8 L319.0 1308.7 L322.0 1306.5 L325.0 1304.3 L328.0 1302.1 L331.0 1299.8 L334.0 1297.5 L337.0 1295.1 L340.0 1292.7 L343.0 1290.3 L346.0 1287.9 L349.0 1285.4 L352.0 1282.9 L355.0 1280.4 L358.0 1277.8 L361.0 1275.3 L364.0 1272.7 L367.0 1270.1 L370.0 1267.5 L373.0 1264.8 L376.0 1262.1 L379.0 1259.4 L382.0 1256.7 L385.0 1253.9 L388.0 1251.1 L391.0 1248.2 L394.0 1245.3 L397.0 1242.3 L400.0 1239.3 L403.0 1236.3 L406.0 1233.1 L409.0 1229.9 L412.0 1226.7 L415.0 1223.4 L418.0 1220.0 L421.0 1216.5 L424.0 1212.9 L427.0 1209.3 L430.0 1205.6 L433.0 1201.8 L436.0 1197.9 L439.0 1194.0 L442.0 1189.9 L445.0 1185.9 L448.0 1181.7 L451.0 1177.6 L454.0 1173.3 L457.0 1169.1 L460.0 1164.8 L463.0 1160.6 L466.0 1156.3 L469.0 1152.0 L472.0 1147.7 L475.0 1143.5 L478.0 1139.3 L481.0 1135.1 L484.0 1130.9 L487.0 1126.7 L490.0 1122.6 L493.0 1118.5 L496.0 1114.4 L499.0 1110.2 L502.0 1106.1 L505.0 1102.0 L508.0 1097.9 L511.0 1093.7 L514.0 1089.6 L517.0 1085.4 L520.0 1081.2 L523.0 1076.9 L526.0 1072.7 L529.0 1068.4 L532.0 1064.0 L535.0 1059.6 L538.0 1055.2 L541.0 1050.6 L544.0 1046.0 L547.0 1041.3 L550.0 1036.4 L553.0 1031.4 L556.0 1026.3 L559.0 1021.1 L562.0 1015.9 L565.0 1010.7 L568.0 1005.7 L571.0 1000.8 L574.0 996.0 L577.0 991.4 L580.0 986.8 L583.0 982.4 L586.0 978.1 L589.0 973.9 L592.0 969.7 L595.0 965.7 L598.0 961.7 L601.0 957.8 L604.0 954.0 L607.0 950.3 L610.0 946.6 L613.0 943.0 L616.0 939.5 L619.0 936.0 L622.0 932.5 L625.0 929.1 L628.0 925.8 L631.0 922.5 L634.0 919.3 L637.0 916.1 L640.0 912.9 L643.0 909.9 L646.0 906.8 L649.0 903.9 L652.0 900.9 L655.0 898.1 L658.0 895.3 L661.0 892.5 L664.0 889.8 L667.0 887.2 L670.0 884.6 L673.0 882.1 L676.0 879.7 L679.0 877.3 L682.0 875.0 L685.0 872.7 L688.0 870.5 L691.0 868.4 L694.0 866.3 L697.0 864.3 L700.0 862.4 L703.0 860.5 L706.0 858.7 L709.0 857.0 L712.0 855.3 L715.0 853.6 L718.0 852.0 L721.0 850.5 L724.0 848.9 L727.0 847.5 L730.0 846.0 L733.0 844.6 L736.0 843.2 L739.0 841.9 L742.0 840.6 L745.0 839.3 L748.0 838.0 L751.0 836.7 L754.0 835.5 L757.0 834.2 L760.0 833.0 L763.0 831.8 L766.0 830.5 L769.0 829.3 L772.0 828.1 L775.0 826.9 L778.0 825.7 L781.0 824.5 L784.0 823.4 L787.0 822.3 L790.0 821.3 L793.0 820.3 L796.0 819.3 L799.0 818.4 L802.0 817.5 L805.0 816.8 L808.0 816.0 L811.0 815.4 L814.0 814.8 L817.0 814.3 L820.0 813.9 L823.0 813.6 L826.0 813.4 L829.0 813.3 L832.0 813.2 L835.0 813.3 L838.0 813.6 L841.0 813.9 L844.0 814.4 L847.0 814.9 L850.0 815.7 L853.0 816.5 L856.0 817.5 L859.0 818.7 L862.0 820.0 L865.0 821.4 L868.0 823.0 L871.0 824.8 L874.0 826.6 L877.0 828.6 L880.0 830.7 L883.0 832.9 L886.0 835.2 L889.0 837.7 L892.0 840.2 L895.0 842.8 L898.0 845.4 L901.0 848.2 L904.0 851.0 L907.0 853.8 L910.0 856.7 L913.0 859.7 L916.0 862.7 L919.0 865.7 L922.0 868.7 L925.0 871.8 L928.0 874.8 L931.0 877.9 L934.0 881.0 L937.0 884.1 L940.0 887.2 L943.0 890.3 L946.0 893.4 L949.0 896.5 L952.0 899.7 L955.0 902.8 L958.0 905.9 L961.0 909.0 L964.0 912.2 L967.0 915.3 L970.0 918.4 L973.0 921.6 L976.0 924.7 L979.0 927.8 L982.0 930.9 L985.0 934.1 L988.0 937.2 L991.0 940.3 L994.0 943.4 L997.0 946.6 L1000.0 949.7 L1003.0 952.8 L1006.0 955.9 L1009.0 959.0 L1012.0 962.1 L1015.0 965.2 L1018.0 968.3 L1021.0 971.3 L1024.0 974.4 L1027.0 977.5 L1030.0 980.6 L1033.0 983.7 L1036.0 986.9 L1039.0 990.2 L1042.0 993.5 L1045.0 997.0 L1048.0 1000.5 L1051.0 1004.1 L1054.0 1007.7 L1057.0 1011.4 L1060.0 1015.2 L1063.0 1018.9 L1066.0 1022.7 L1069.0 1026.5 L1072.0 1030.2 L1075.0 1033.9 L1078.0 1037.6 L1081.0 1041.1 L1084.0 1044.6 L1087.0 1048.1 L1090.0 1051.4 L1093.0 1054.6 L1096.0 1057.8 L1099.0 1061.0 L1102.0 1064.1 L1105.0 1067.1 L1108.0 1070.2 L1111.0 1073.2 L1114.0 1076.2 L1117.0 1079.3 L1120.0 1082.3 L1123.0 1085.4 L1126.0 1088.4 L1129.0 1091.5 L1132.0 1094.6 L1135.0 1097.7 L1138.0 1100.7 L1141.0 1103.8 L1144.0 1106.9 L1147.0 1109.9 L1150.0 1113.0 L1153.0 1116.0 L1156.0 1119.0 L1159.0 1122.0 L1162.0 1125.0 L1165.0 1127.9 L1168.0 1130.8 L1171.0 1133.7 L1174.0 1136.6 L1177.0 1139.4 L1180.0 1142.2 L1183.0 1145.0 L1186.0 1147.7 L1189.0 1150.3 L1192.0 1153.0 L1195.0 1155.6 L1198.0 1158.2 L1201.0 1160.7 L1204.0 1163.2 L1207.0 1165.7 L1210.0 1168.1 L1213.0 1170.5 L1216.0 1172.9 L1219.0 1175.3 L1222.0 1177.6 L1225.0 1179.9 L1228.0 1182.2 L1231.0 1184.4 L1234.0 1186.7 L1237.0 1188.9 L1240.0 1191.1 L1243.0 1193.3 L1246.0 1195.4 L1249.0 1197.6 L1252.0 1199.7 L1255.0 1201.8 L1258.0 1203.9 L1261.0 1206.0 L1264.0 1208.1 L1267.0 1210.2 L1270.0 1212.2 L1273.0 1214.3 L1276.0 1216.3 L1279.0 1218.4 L1282.0 1220.4 L1285.0 1222.4 L1288.0 1224.5 L1291.0 1226.5 L1294.0 1228.5 L1297.0 1230.5 L1300.0 1232.6 L1303.0 1234.6 L1306.0 1236.6 L1309.0 1238.7 L1312.0 1240.7 L1315.0 1242.7 L1318.0 1244.8 L1321.0 1246.9 L1324.0 1248.9 L1327.0 1251.0 L1330.0 1253.1 L1333.0 1255.2 L1336.0 1257.3 L1339.0 1259.5 L1342.0 1261.6 L1345.0 1263.8" class="p90u"/>
<path d="M46.0 1269.1 L49.0 1270.6 L52.0 1272.0 L55.0 1273.5 L58.0 1275.0 L61.0 1276.5 L64.0 1278.0 L67.0 1279.5 L70.0 1281.1 L73.0 1282.7 L76.0 1284.2 L79.0 1285.8 L82.0 1287.4 L85.0 1289.0 L88.0 1290.6 L91.0 1292.2 L94.0 1293.8 L97.0 1295.4 L100.0 1297.0 L103.0 1298.6 L106.0 1300.2 L109.0 1301.8 L112.0 1303.4 L115.0 1304.9 L118.0 1306.5 L121.0 1308.0 L124.0 1309.6 L127.0 1311.1 L130.0 1312.6 L133.0 1314.0 L136.0 1315.5 L139.0 1316.9 L142.0 1318.3 L145.0 1319.7 L148.0 1321.1 L151.0 1322.4 L154.0 1323.7 L157.0 1325.0 L160.0 1326.2 L163.0 1327.4 L166.0 1328.6 L169.0 1329.7 L172.0 1330.8 L175.0 1331.9 L178.0 1332.9 L181.0 1333.8 L184.0 1334.8 L187.0 1335.6 L190.0 1336.5 L193.0 1337.2 L196.0 1338.0 L199.0 1338.6 L202.0 1339.3 L205.0 1339.8 L208.0 1340.3 L211.0 1340.8 L214.0 1341.2 L217.0 1341.5 L220.0 1341.8 L223.0 1342.0 L226.0 1342.1 L229.0 1342.2 L232.0 1342.2 L235.0 1342.1 L238.0 1342.0 L241.0 1341.7 L244.0 1341.4 L247.0 1341.1 L250.0 1340.6 L253.0 1340.1 L256.0 1339.5 L259.0 1338.8 L262.0 1338.0 L265.0 1337.1 L268.0 1336.2 L271.0 1335.1 L274.0 1334.0 L277.0 1332.8 L280.0 1331.5 L283.0 1330.2 L286.0 1328.7 L289.0 1327.2 L292.0 1325.7 L295.0 1324.0 L298.0 1322.3 L301.0 1320.5 L304.0 1318.7 L307.0 1316.8 L310.0 1314.8 L313.0 1312.8 L316.0 1310.8 L319.0 1308.7 L322.0 1306.5 L325.0 1304.3 L328.0 1302.1 L331.0 1299.8 L334.0 1297.5 L337.0 1295.1 L340.0 1292.7 L343.0 1290.3 L346.0 1287.9 L349.0 1285.4 L352.0 1282.9 L355.0 1280.4 L358.0 1277.8 L361.0 1275.3 L364.0 1272.7 L367.0 1270.1 L370.0 1267.5 L373.0 1264.8 L376.0 1262.1 L379.0 1259.4 L382.0 1256.7 L385.0 1253.9 L388.0 1251.1 L391.0 1248.2 L394.0 1245.3 L397.0 1242.3 L400.0 1239.3 L403.0 1236.3 L406.0 1233.1 L409.0 1229.9 L412.0 1226.7 L415.0 1223.4 L418.0 1220.0 L421.0 1216.5 L424.0 1212.9 L427.0 1209.3 L430.0 1205.6 L433.0 1201.8 L436.0 1197.9 L439.0 1194.0 L442.0 1189.9 L445.0 1185.9 L448.0 1181.7 L451.0 1177.6 L454.0 1173.3 L457.0 1169.1 L460.0 1164.8 L463.0 1160.6 L466.0 1156.3 L469.0 1152.0 L472.0 1147.7 L475.0 1143.5 L478.0 1139.3 L481.0 1135.1 L484.0 1130.9 L487.0 1126.7 L490.0 1122.6 L493.0 1118.5 L496.0 1114.4 L499.0 1110.2 L502.0 1106.1 L505.0 1102.0 L508.0 1097.9 L511.0 1093.7 L514.0 1089.6 L517.0 1085.4 L520.0 1081.2 L523.0 1076.9 L526.0 1072.7 L529.0 1068.4 L532.0 1064.0 L535.0 1059.6 L538.0 1055.2 L541.0 1050.6 L544.0 1046.0 L547.0 1041.3 L550.0 1036.4 L553.0 1031.4 L556.0 1026.3 L559.0 1021.1 L562.0 1015.9 L565.0 1010.7 L568.0 1005.7 L571.0 1000.8 L574.0 996.0 L577.0 991.4 L580.0 986.8 L583.0 982.4 L586.0 978.1 L589.0 973.9 L592.0 969.7 L595.0 965.7 L598.0 961.7 L601.0 957.8 L604.0 954.0 L607.0 950.3 L610.0 946.6 L613.0 943.0 L616.0 939.5 L619.0 936.0 L622.0 932.5 L625.0 929.1 L628.0 925.8 L631.0 922.5 L634.0 919.3 L637.0 916.1 L640.0 912.9 L643.0 909.9 L646.0 906.8 L649.0 903.9 L652.0 900.9 L655.0 898.1 L658.0 895.3 L661.0 892.5 L664.0 889.8 L667.0 887.2 L670.0 884.6 L673.0 882.1 L676.0 879.7 L679.0 877.3 L682.0 875.0 L685.0 872.7 L688.0 870.5 L691.0 868.4 L694.0 866.3 L697.0 864.3 L700.0 862.4 L703.0 860.5 L706.0 858.7 L709.0 857.0 L712.0 855.3 L715.0 853.6 L718.0 852.0 L721.0 850.5 L724.0 848.9 L727.0 847.5 L730.0 846.0 L733.0 844.6 L736.0 843.2 L739.0 841.9 L742.0 840.6 L745.0 839.3 L748.0 838.0 L751.0 836.7 L754.0 835.5 L757.0 834.2 L760.0 833.0 L763.0 831.8 L766.0 830.5 L769.0 829.3 L772.0 828.1 L775.0 826.9 L778.0 825.7 L781.0 824.5 L784.0 823.4 L787.0 822.3 L790.0 821.3 L793.0 820.3 L796.0 819.3 L799.0 818.4 L802.0 817.5 L805.0 816.8 L808.0 816.0 L811.0 815.4 L814.0 814.8 L817.0 814.3 L820.0 813.9 L823.0 813.6 L826.0 813.4 L829.0 813.3 L832.0 813.2 L835.0 813.3 L838.0 813.6 L841.0 813.9 L844.0 814.4 L847.0 814.9 L850.0 815.7 L853.0 816.5 L856.0 817.5 L859.0 818.7 L862.0 820.0 L865.0 821.4 L868.0 823.0 L871.0 824.8 L874.0 826.6 L877.0 828.6 L880.0 830.7 L883.0 832.9 L886.0 835.2 L889.0 837.7 L892.0 840.2 L895.0 842.8 L898.0 845.4 L901.0 848.2 L904.0 851.0 L907.0 853.8 L910.0 856.7 L913.0 859.7 L916.0 862.7 L919.0 865.7 L922.0 868.7 L925.0 871.8 L928.0 874.8 L931.0 877.9 L934.0 881.0 L937.0 884.1 L940.0 887.2 L943.0 890.3 L946.0 893.4 L949.0 896.5 L952.0 899.7 L955.0 902.8 L958.0 905.9 L961.0 909.0 L964.0 912.2 L967.0 915.3 L970.0 918.4 L973.0 921.6 L976.0 924.7 L979.0 927.8 L982.0 930.9 L985.0 934.1 L988.0 937.2 L991.0 940.3 L994.0 943.4 L997.0 946.6 L1000.0 949.7 L1003.0 952.8 L1006.0 955.9 L1009.0 959.0 L1012.0 962.1 L1015.0 965.2 L1018.0 968.3 L1021.0 971.3 L1024.0 974.4 L1027.0 977.5 L1030.0 980.6 L1033.0 983.7 L1036.0 986.9 L1039.0 990.2 L1042.0 993.5 L1045.0 997.0 L1048.0 1000.5 L1051.0 1004.1 L1054.0 1007.7 L1057.0 1011.4 L1060.0 1015.2 L1063.0 1018.9 L1066.0 1022.7 L1069.0 1026.5 L1072.0 1030.2 L1075.0 1033.9 L1078.0 1037.6 L1081.0 1041.1 L1084.0 1044.6 L1087.0 1048.1 L1090.0 1051.4 L1093.0 1054.6 L1096.0 1057.8 L1099.0 1061.0 L1102.0 1064.1 L1105.0 1067.1 L1108.0 1070.2 L1111.0 1073.2 L1114.0 1076.2 L1117.0 1079.3 L1120.0 1082.3 L1123.0 1085.4 L1126.0 1088.4 L1129.0 1091.5 L1132.0 1094.6 L1135.0 1097.7 L1138.0 1100.7 L1141.0 1103.8 L1144.0 1106.9 L1147.0 1109.9 L1150.0 1113.0 L1153.0 1116.0 L1156.0 1119.0 L1159.0 1122.0 L1162.0 1125.0 L1165.0 1127.9 L1168.0 1130.8 L1171.0 1133.7 L1174.0 1136.6 L1177.0 1139.4 L1180.0 1142.2 L1183.0 1145.0 L1186.0 1147.7 L1189.0 1150.3 L1192.0 1153.0 L1195.0 1155.6 L1198.0 1158.2 L1201.0 1160.7 L1204.0 1163.2 L1207.0 1165.7 L1210.0 1168.1 L1213.0 1170.5 L1216.0 1172.9 L1219.0 1175.3 L1222.0 1177.6 L1225.0 1179.9 L1228.0 1182.2 L1231.0 1184.4 L1234.0 1186.7 L1237.0 1188.9 L1240.0 1191.1 L1243.0 1193.3 L1246.0 1195.4 L1249.0 1197.6 L1252.0 1199.7 L1255.0 1201.8 L1258.0 1203.9 L1261.0 1206.0 L1264.0 1208.1 L1267.0 1210.2 L1270.0 1212.2 L1273.0 1214.3 L1276.0 1216.3 L1279.0 1218.4 L1282.0 1220.4 L1285.0 1222.4 L1288.0 1224.5 L1291.0 1226.5 L1294.0 1228.5 L1297.0 1230.5 L1300.0 1232.6 L1303.0 1234.6 L1306.0 1236.6 L1309.0 1238.7 L1312.0 1240.7 L1315.0 1242.7 L1318.0 1244.8 L1321.0 1246.9 L1324.0 1248.9 L1327.0 1251.0 L1330.0 1253.1 L1333.0 1255.2 L1336.0 1257.3 L1339.0 1259.5 L1342.0 1261.6 L1345.0 1263.8" class="p90"/>
</g>
<path d="M46.0 1276.9 L49.3 1282.2 L53.3 1280.9 L55.9 1275.6 L59.9 1291.5 L63.9 1283.5 L66.6 1307.5 L71.9 1298.2 L77.2 1282.2 L81.2 1295.5 L85.2 1312.8 L91.8 1298.2 L95.8 1300.8 L99.8 1283.5 L103.8 1282.2 L109.1 1287.5 L114.4 1286.2 L119.7 1288.9 L124.5 1319.4 L129.0 1316.8 L134.3 1315.4 L138.3 1336.7 L142.3 1330.0 L145.7 1311.4 L148.9 1322.1 L151.6 1319.4 L155.6 1320.7 L159.6 1326.1 L163.5 1318.1 L166.2 1322.1 L170.2 1298.2 L174.2 1291.5 L178.2 1300.8 L184.8 1326.1 L188.8 1322.1 L195.4 1311.4 L199.4 1319.4 L202.1 1319.4 L206.1 1311.4 L210.0 1316.8 L214.0 1328.7 L218.0 1318.1 L222.0 1319.4 L226.0 1304.8 L228.6 1304.8 L232.6 1315.4 L237.9 1316.8 L241.9 1304.8 L248.6 1319.4 L252.5 1299.5 L255.7 1298.2 L259.2 1306.1 L265.8 1304.8 L272.5 1306.1 L276.5 1308.8 L280.4 1304.8 L288.4 1302.1 L293.7 1304.8 L295.1 1298.2 L299.0 1298.2 L303.0 1295.5 L305.7 1306.1 L311.0 1295.5 L319.0 1282.2 L323.0 1264.9 L326.9 1264.9 L330.9 1254.3 L334.9 1272.9 L340.2 1290.2 L344.2 1294.2 L348.2 1295.5 L352.2 1326.1 L354.8 1298.2 L358.8 1292.8 L362.8 1294.2 L366.8 1312.8 L372.1 1310.1 L377.4 1312.8 L381.4 1290.2 L388.0 1287.5 L392.0 1267.6 L396.0 1263.6 L400.0 1245.0 L403.8 1233.6 L407.8 1200.4 L413.1 1199.0 L417.1 1262.8 L422.4 1252.2 L426.4 1248.2 L430.4 1208.3 L433.1 1207.0 L437.0 1208.3 L442.4 1245.5 L446.3 1226.9 L450.3 1220.3 L453.0 1219.0 L458.3 1195.1 L463.6 1171.1 L467.6 1173.8 L470.3 1164.5 L474.2 1168.5 L476.9 1148.6 L480.9 1144.6 L484.9 1149.9 L488.9 1143.2 L491.5 1141.9 L495.5 1148.6 L499.5 1131.3 L504.8 1118.0 L508.8 1110.0 L512.8 1107.4 L516.8 1123.3 L520.7 1126.0 L524.7 1135.3 L530.0 1133.9 L534.0 1107.4 L536.7 1103.4 L540.7 1100.7 L546.0 1087.5 L550.0 1086.1 L555.3 1074.2 L559.3 1070.2 L563.2 1042.3 L567.2 1054.2 L571.2 1056.9 L573.9 1044.9 L579.2 1054.2 L583.2 1050.3 L587.2 1048.9 L592.5 1026.3 L597.8 1030.3 L601.8 1043.6 L605.8 1022.4 L611.1 1019.7 L615.1 1017.0 L619.0 1018.4 L624.4 1017.0 L628.3 1003.8 L631.0 989.2 L637.6 991.8 L641.6 983.8 L645.6 953.3 L649.6 961.3 L652.8 987.8 L656.2 965.2 L660.2 958.6 L662.9 940.0 L666.6 906.1 L673.3 928.7 L678.6 898.2 L683.9 867.6 L687.9 854.3 L693.2 850.3 L698.5 835.7 L702.5 839.7 L705.7 868.9 L709.2 866.3 L713.1 846.3 L717.1 861.0 L721.1 880.9 L725.1 884.9 L727.7 870.3 L731.2 872.9 L734.4 934.0 L737.6 910.1 L741.0 911.4 L746.3 900.8 L751.7 914.1 L755.6 919.4 L759.6 911.4 L764.9 876.9 L770.3 855.6 L775.6 876.9 L780.9 894.2 L784.9 868.9 L788.9 850.3 L791.5 850.3 L795.5 818.5 L800.8 799.9 L805.6 775.9 L809.3 805.2 L812.8 837.0 L816.8 861.0 L820.7 878.2 L823.4 883.5 L827.4 868.9 L832.7 847.7 L836.7 827.7 L840.7 819.8 L844.6 815.8 L848.6 805.2 L852.6 810.5 L856.6 815.8 L860.6 810.5 L865.9 837.0 L872.5 826.4 L879.2 811.8 L884.5 811.8 L888.0 829.1 L891.7 849.0 L896.5 838.4 L901.8 830.4 L905.8 838.4 L908.9 838.4 L911.9 888.9 L917.7 898.2 L923.0 907.5 L927.0 891.5 L930.5 903.5 L933.7 887.5 L937.6 895.5 L941.1 918.1 L945.6 898.2 L949.6 902.1 L954.9 894.2 L960.2 886.2 L965.5 887.5 L969.5 886.2 L973.5 884.9 L978.8 900.8 L982.8 910.1 L988.1 904.8 L990.8 906.1 L995.3 895.5 L998.7 898.2 L1002.7 916.8 L1005.4 967.2 L1008.6 965.9 L1012.0 999.1 L1016.0 1008.4 L1020.0 1004.4 L1023.7 997.8 L1026.9 1003.1 L1030.9 1015.1 L1034.9 1020.4 L1041.5 1021.7 L1044.2 1044.3 L1048.1 1036.3 L1052.1 1039.0 L1057.4 1040.3 L1061.4 1054.9 L1065.4 1074.9 L1070.7 1072.2 L1076.0 1070.9 L1080.0 1106.8 L1084.0 1113.4 L1088.0 1113.4 L1090.6 1106.8 L1094.6 1122.7 L1098.6 1117.4 L1105.3 1116.1 L1110.6 1109.4 L1115.9 1117.4 L1119.3 1109.4 L1123.9 1122.7 L1127.8 1132.0 L1130.5 1133.3 L1134.5 1129.3 L1141.1 1130.7 L1145.1 1132.0 L1147.8 1122.7 L1151.8 1147.9 L1157.1 1151.9 L1162.4 1165.2 L1166.4 1157.2 L1173.0 1151.9 L1177.0 1155.9 L1182.3 1151.9 L1187.6 1141.3 L1191.6 1151.9 L1195.6 1153.2 L1198.2 1162.5 L1201.7 1155.9 L1204.9 1159.9 L1208.9 1170.5 L1212.9 1173.2 L1216.0 1222.3 L1219.5 1209.0 L1227.5 1199.7 L1234.1 1194.4 L1238.1 1206.4 L1242.1 1206.4 L1247.4 1218.3 L1252.7 1218.3 L1258.0 1215.7 L1262.0 1223.7 L1266.0 1222.3 L1270.0 1221.0 L1274.0 1229.0 L1276.6 1226.3 L1279.8 1242.3 L1284.1 1214.4 L1287.3 1230.3 L1291.2 1250.2 L1295.2 1252.9 L1300.5 1248.9 L1304.5 1250.2 L1309.8 1244.9 L1313.8 1242.3 L1317.8 1235.6 L1321.8 1238.3 L1325.8 1250.2 L1329.8 1251.5 L1333.7 1258.2 L1339.1 1263.5 L1343.0 1263.0 L1345.7 1263.0 L1345.4 1262.8" class="sst"/>
<circle cx="1345.4" cy="1262.8" r="4" fill="#000"/>
<rect x="61" y="748.7" width="322" height="131" class="leg"/>
<line x1="64.6" y1="765.9" x2="97.8" y2="765.9" class="mean" style="stroke-width:2.9"/>
<line x1="64.6" y1="798.1" x2="97.8" y2="798.1" class="p90l"/>
<line x1="64.6" y1="829.9" x2="97.8" y2="829.9" class="sst" style="stroke-width:2.9"/>
<rect x="64.8" y="848.8" width="33.5" height="24.5" class="mhsbox"/>
<text x="102.1" y="775.5" class="lt" textLength="274.3" lengthAdjust="spacingAndGlyphs">SST 1982-2015 mean</text>
<text x="102.1" y="806.9" class="lt" textLength="250.7" lengthAdjust="spacingAndGlyphs">SST 1982-2015 p90</text>
<text x="102.1" y="838.4" class="lt" textLength="120.2" lengthAdjust="spacingAndGlyphs">SST 2020</text>
<text x="101.6" y="870.0" class="lt" textLength="129.6" lengthAdjust="spacingAndGlyphs">MHS 2020</text>
<text x="1303.6" y="768.7" class="pl" textLength="23.4" lengthAdjust="spacingAndGlyphs">B</text>
<text x="693.6" y="1261.8" class="ld" textLength="380.9" lengthAdjust="spacingAndGlyphs">Last date: 31-December-2020</text>
<line x1="156.6" y1="1455.0" x2="156.6" y2="2138.1" class="grid"/>
<line x1="256.6" y1="1455.0" x2="256.6" y2="2138.1" class="grid"/>
<line x1="367.2" y1="1455.0" x2="367.2" y2="2138.1" class="grid"/>
<line x1="474.2" y1="1455.0" x2="474.2" y2="2138.1" class="grid"/>
<line x1="584.9" y1="1455.0" x2="584.9" y2="2138.1" class="grid"/>
<line x1="691.9" y1="1455.0" x2="691.9" y2="2138.1" class="grid"/>
<line x1="802.6" y1="1455.0" x2="802.6" y2="2138.1" class="grid"/>
<line x1="913.2" y1="1455.0" x2="913.2" y2="2138.1" class="grid"/>
<line x1="1020.2" y1="1455.0" x2="1020.2" y2="2138.1" class="grid"/>
<line x1="1130.9" y1="1455.0" x2="1130.9" y2="2138.1" class="grid"/>
<line x1="1237.9" y1="1455.0" x2="1237.9" y2="2138.1" class="grid"/>
<line x1="46.0" y1="2040.5" x2="1345.0" y2="2040.5" class="grid"/>
<line x1="46.0" y1="1942.9" x2="1345.0" y2="1942.9" class="grid"/>
<line x1="46.0" y1="1845.3" x2="1345.0" y2="1845.3" class="grid"/>
<line x1="46.0" y1="1747.8" x2="1345.0" y2="1747.8" class="grid"/>
<line x1="46.0" y1="1650.2" x2="1345.0" y2="1650.2" class="grid"/>
<line x1="46.0" y1="1552.6" x2="1345.0" y2="1552.6" class="grid"/>
<rect x="46.0" y="1455.0" width="1299.0" height="683.1" class="axis"/>
<line x1="156.6" y1="2138.1" x2="156.6" y2="2125.6" class="tick"/>
<line x1="156.6" y1="1455.0" x2="156.6" y2="1467.5" class="tick"/>
<line x1="256.6" y1="2138.1" x2="256.6" y2="2125.6" class="tick"/>
<line x1="256.6" y1="1455.0" x2="256.6" y2="1467.5" class="tick"/>
<line x1="367.2" y1="2138.1" x2="367.2" y2="2125.6" class="tick"/>
<line x1="367.2" y1="1455.0" x2="367.2" y2="1467.5" class="tick"/>
<line x1="474.2" y1="2138.1" x2="474.2" y2="2125.6" class="tick"/>
<line x1="474.2" y1="1455.0" x2="474.2" y2="1467.5" class="tick"/>
<line x1="584.9" y1="2138.1" x2="584.9" y2="2125.6" class="tick"/>
<line x1="584.9" y1="1455.0" x2="584.9" y2="1467.5" class="tick"/>
<line x1="691.9" y1="2138.1" x2="691.9" y2="2125.6" class="tick"/>
<line x1="691.9" y1="1455.0" x2="691.9" y2="1467.5" class="tick"/>
<line x1="802.6" y1="2138.1" x2="802.6" y2="2125.6" class="tick"/>
<line x1="802.6" y1="1455.0" x2="802.6" y2="1467.5" class="tick"/>
<line x1="913.2" y1="2138.1" x2="913.2" y2="2125.6" class="tick"/>
<line x1="913.2" y1="1455.0" x2="913.2" y2="1467.5" class="tick"/>
<line x1="1020.2" y1="2138.1" x2="1020.2" y2="2125.6" class="tick"/>
<line x1="1020.2" y1="1455.0" x2="1020.2" y2="1467.5" class="tick"/>
<line x1="1130.9" y1="2138.1" x2="1130.9" y2="2125.6" class="tick"/>
<line x1="1130.9" y1="1455.0" x2="1130.9" y2="1467.5" class="tick"/>
<line x1="1237.9" y1="2138.1" x2="1237.9" y2="2125.6" class="tick"/>
<line x1="1237.9" y1="1455.0" x2="1237.9" y2="1467.5" class="tick"/>
<line x1="46.0" y1="2138.1" x2="58.5" y2="2138.1" class="tick"/>
<line x1="1345.0" y1="2138.1" x2="1332.5" y2="2138.1" class="tick"/>
<text x="1.4" y="2148.4" class="yt" textLength="34.6" lengthAdjust="spacingAndGlyphs">16</text>
<line x1="46.0" y1="2040.5" x2="58.5" y2="2040.5" class="tick"/>
<line x1="1345.0" y1="2040.5" x2="1332.5" y2="2040.5" class="tick"/>
<text x="1.4" y="2050.8" class="yt" textLength="34.6" lengthAdjust="spacingAndGlyphs">18</text>
<line x1="46.0" y1="1942.9" x2="58.5" y2="1942.9" class="tick"/>
<line x1="1345.0" y1="1942.9" x2="1332.5" y2="1942.9" class="tick"/>
<text x="1.4" y="1953.2" class="yt" textLength="34.6" lengthAdjust="spacingAndGlyphs">20</text>
<line x1="46.0" y1="1845.3" x2="58.5" y2="1845.3" class="tick"/>
<line x1="1345.0" y1="1845.3" x2="1332.5" y2="1845.3" class="tick"/>
<text x="2.5" y="1855.6" class="yt" textLength="34.6" lengthAdjust="spacingAndGlyphs">22</text>
<line x1="46.0" y1="1747.8" x2="58.5" y2="1747.8" class="tick"/>
<line x1="1345.0" y1="1747.8" x2="1332.5" y2="1747.8" class="tick"/>
<text x="1.4" y="1758.1" class="yt" textLength="34.6" lengthAdjust="spacingAndGlyphs">24</text>
<line x1="46.0" y1="1650.2" x2="58.5" y2="1650.2" class="tick"/>
<line x1="1345.0" y1="1650.2" x2="1332.5" y2="1650.2" class="tick"/>
<text x="1.4" y="1660.5" class="yt" textLength="34.6" lengthAdjust="spacingAndGlyphs">26</text>
<line x1="46.0" y1="1552.6" x2="58.5" y2="1552.6" class="tick"/>
<line x1="1345.0" y1="1552.6" x2="1332.5" y2="1552.6" class="tick"/>
<text x="1.4" y="1562.9" class="yt" textLength="34.6" lengthAdjust="spacingAndGlyphs">28</text>
<line x1="46.0" y1="1455.0" x2="58.5" y2="1455.0" class="tick"/>
<line x1="1345.0" y1="1455.0" x2="1332.5" y2="1455.0" class="tick"/>
<text x="1.4" y="1465.3" class="yt" textLength="34.6" lengthAdjust="spacingAndGlyphs">30</text>
<clipPath id="clipC"><path d="M46.0 1949.8 L49.0 1952.6 L52.0 1955.4 L55.0 1958.2 L58.0 1961.0 L61.0 1963.7 L64.0 1966.4 L67.0 1969.1 L70.0 1971.7 L73.0 1974.3 L76.0 1976.9 L79.0 1979.4 L82.0 1982.0 L85.0 1984.4 L88.0 1986.9 L91.0 1989.3 L94.0 1991.7 L97.0 1994.0 L100.0 1996.4 L103.0 1998.6 L106.0 2000.9 L109.0 2003.1 L112.0 2005.3 L115.0 2007.4 L118.0 2009.6 L121.0 2011.6 L124.0 2013.7 L127.0 2015.7 L130.0 2017.7 L133.0 2019.6 L136.0 2021.5 L139.0 2023.4 L142.0 2025.2 L145.0 2027.0 L148.0 2028.8 L151.0 2030.5 L154.0 2032.2 L157.0 2033.8 L160.0 2035.4 L163.0 2037.0 L166.0 2038.5 L169.0 2040.0 L172.0 2041.4 L175.0 2042.9 L178.0 2044.2 L181.0 2045.6 L184.0 2046.8 L187.0 2048.1 L190.0 2049.3 L193.0 2050.5 L196.0 2051.6 L199.0 2052.7 L202.0 2053.7 L205.0 2054.7 L208.0 2055.7 L211.0 2056.6 L214.0 2057.5 L217.0 2058.3 L220.0 2059.1 L223.0 2059.8 L226.0 2060.5 L229.0 2061.2 L232.0 2061.8 L235.0 2062.3 L238.0 2062.8 L241.0 2063.3 L244.0 2063.7 L247.0 2064.1 L250.0 2064.5 L253.0 2064.7 L256.0 2065.0 L259.0 2065.2 L262.0 2065.3 L265.0 2065.4 L268.0 2065.5 L271.0 2065.5 L274.0 2065.5 L277.0 2065.4 L280.0 2065.2 L283.0 2065.1 L286.0 2064.8 L289.0 2064.6 L292.0 2064.3 L295.0 2063.9 L298.0 2063.5 L301.0 2063.1 L304.0 2062.6 L307.0 2062.0 L310.0 2061.4 L313.0 2060.8 L316.0 2060.1 L319.0 2059.4 L322.0 2058.7 L325.0 2057.9 L328.0 2057.0 L331.0 2056.1 L334.0 2055.2 L337.0 2054.2 L340.0 2053.2 L343.0 2052.1 L346.0 2051.0 L349.0 2049.9 L352.0 2048.7 L355.0 2047.5 L358.0 2046.2 L361.0 2044.9 L364.0 2043.5 L367.0 2042.1 L370.0 2040.7 L373.0 2039.2 L376.0 2037.6 L379.0 2036.0 L382.0 2034.3 L385.0 2032.6 L388.0 2030.8 L391.0 2029.0 L394.0 2027.1 L397.0 2025.1 L400.0 2023.0 L403.0 2020.9 L406.0 2018.7 L409.0 2016.4 L412.0 2014.0 L415.0 2011.6 L418.0 2009.0 L421.0 2006.4 L424.0 2003.7 L427.0 2000.9 L430.0 1998.0 L433.0 1995.1 L436.0 1992.0 L439.0 1988.9 L442.0 1985.7 L445.0 1982.5 L448.0 1979.2 L451.0 1975.8 L454.0 1972.3 L457.0 1968.7 L460.0 1965.1 L463.0 1961.5 L466.0 1957.7 L469.0 1954.0 L472.0 1950.1 L475.0 1946.2 L478.0 1942.3 L481.0 1938.3 L484.0 1934.2 L487.0 1930.1 L490.0 1926.0 L493.0 1921.8 L496.0 1917.6 L499.0 1913.3 L502.0 1909.0 L505.0 1904.6 L508.0 1900.2 L511.0 1895.8 L514.0 1891.4 L517.0 1886.9 L520.0 1882.4 L523.0 1877.9 L526.0 1873.3 L529.0 1868.7 L532.0 1864.1 L535.0 1859.5 L538.0 1854.9 L541.0 1850.2 L544.0 1845.6 L547.0 1840.9 L550.0 1836.2 L553.0 1831.5 L556.0 1826.8 L559.0 1822.1 L562.0 1817.4 L565.0 1812.7 L568.0 1808.0 L571.0 1803.3 L574.0 1798.6 L577.0 1794.0 L580.0 1789.3 L583.0 1784.6 L586.0 1780.0 L589.0 1775.3 L592.0 1770.7 L595.0 1766.1 L598.0 1761.5 L601.0 1757.0 L604.0 1752.4 L607.0 1747.9 L610.0 1743.4 L613.0 1738.9 L616.0 1734.5 L619.0 1730.1 L622.0 1725.7 L625.0 1721.3 L628.0 1717.0 L631.0 1712.7 L634.0 1708.4 L637.0 1704.1 L640.0 1699.9 L643.0 1695.7 L646.0 1691.6 L649.0 1687.5 L652.0 1683.4 L655.0 1679.4 L658.0 1675.4 L661.0 1671.4 L664.0 1667.5 L667.0 1663.6 L670.0 1659.7 L673.0 1655.9 L676.0 1652.2 L679.0 1648.5 L682.0 1644.8 L685.0 1641.2 L688.0 1637.6 L691.0 1634.0 L694.0 1630.6 L697.0 1627.1 L700.0 1623.7 L703.0 1620.4 L706.0 1617.1 L709.0 1613.9 L712.0 1610.7 L715.0 1607.6 L718.0 1604.5 L721.0 1601.5 L724.0 1598.6 L727.0 1595.7 L730.0 1592.8 L733.0 1590.1 L736.0 1587.3 L739.0 1584.7 L742.0 1582.1 L745.0 1579.6 L748.0 1577.1 L751.0 1574.7 L754.0 1572.4 L757.0 1570.1 L760.0 1567.9 L763.0 1565.8 L766.0 1563.7 L769.0 1561.7 L772.0 1559.8 L775.0 1557.9 L778.0 1556.1 L781.0 1554.3 L784.0 1552.6 L787.0 1551.0 L790.0 1549.3 L793.0 1547.7 L796.0 1546.2 L799.0 1544.6 L802.0 1543.2 L805.0 1541.7 L808.0 1540.2 L811.0 1538.8 L814.0 1537.4 L817.0 1536.0 L820.0 1534.6 L823.0 1533.2 L826.0 1531.8 L829.0 1530.5 L832.0 1529.1 L835.0 1527.8 L838.0 1526.5 L841.0 1525.2 L844.0 1524.0 L847.0 1522.9 L850.0 1521.8 L853.0 1520.8 L856.0 1519.9 L859.0 1519.1 L862.0 1518.4 L865.0 1517.8 L868.0 1517.3 L871.0 1516.9 L874.0 1516.6 L877.0 1516.4 L880.0 1516.3 L883.0 1516.3 L886.0 1516.4 L889.0 1516.5 L892.0 1516.8 L895.0 1517.1 L898.0 1517.5 L901.0 1518.0 L904.0 1518.5 L907.0 1519.2 L910.0 1519.9 L913.0 1520.6 L916.0 1521.4 L919.0 1522.3 L922.0 1523.3 L925.0 1524.2 L928.0 1525.3 L931.0 1526.4 L934.0 1527.5 L937.0 1528.7 L940.0 1529.9 L943.0 1531.1 L946.0 1532.4 L949.0 1533.7 L952.0 1535.0 L955.0 1536.4 L958.0 1537.7 L961.0 1539.1 L964.0 1540.5 L967.0 1541.9 L970.0 1543.3 L973.0 1544.7 L976.0 1546.1 L979.0 1547.5 L982.0 1549.0 L985.0 1550.4 L988.0 1551.9 L991.0 1553.4 L994.0 1555.0 L997.0 1556.6 L1000.0 1558.2 L1003.0 1559.8 L1006.0 1561.5 L1009.0 1563.3 L1012.0 1565.1 L1015.0 1566.9 L1018.0 1568.8 L1021.0 1570.8 L1024.0 1572.8 L1027.0 1574.8 L1030.0 1577.0 L1033.0 1579.2 L1036.0 1581.4 L1039.0 1583.8 L1042.0 1586.1 L1045.0 1588.6 L1048.0 1591.1 L1051.0 1593.6 L1054.0 1596.3 L1057.0 1598.9 L1060.0 1601.6 L1063.0 1604.4 L1066.0 1607.2 L1069.0 1610.1 L1072.0 1613.0 L1075.0 1616.0 L1078.0 1619.0 L1081.0 1622.1 L1084.0 1625.2 L1087.0 1628.4 L1090.0 1631.6 L1093.0 1634.8 L1096.0 1638.1 L1099.0 1641.4 L1102.0 1644.8 L1105.0 1648.2 L1108.0 1651.6 L1111.0 1655.1 L1114.0 1658.6 L1117.0 1662.2 L1120.0 1665.7 L1123.0 1669.4 L1126.0 1673.0 L1129.0 1676.7 L1132.0 1680.4 L1135.0 1684.1 L1138.0 1687.8 L1141.0 1691.6 L1144.0 1695.4 L1147.0 1699.3 L1150.0 1703.1 L1153.0 1707.0 L1156.0 1710.9 L1159.0 1714.8 L1162.0 1718.7 L1165.0 1722.7 L1168.0 1726.6 L1171.0 1730.6 L1174.0 1734.6 L1177.0 1738.6 L1180.0 1742.6 L1183.0 1746.7 L1186.0 1750.7 L1189.0 1754.7 L1192.0 1758.8 L1195.0 1762.9 L1198.0 1766.9 L1201.0 1771.0 L1204.0 1775.1 L1207.0 1779.2 L1210.0 1783.2 L1213.0 1787.3 L1216.0 1791.4 L1219.0 1795.5 L1222.0 1799.5 L1225.0 1803.6 L1228.0 1807.6 L1231.0 1811.7 L1234.0 1815.7 L1237.0 1819.7 L1240.0 1823.8 L1243.0 1827.8 L1246.0 1831.7 L1249.0 1835.7 L1252.0 1839.7 L1255.0 1843.6 L1258.0 1847.5 L1261.0 1851.4 L1264.0 1855.3 L1267.0 1859.1 L1270.0 1862.9 L1273.0 1866.7 L1276.0 1870.5 L1279.0 1874.2 L1282.0 1878.0 L1285.0 1881.6 L1288.0 1885.3 L1291.0 1888.9 L1294.0 1892.5 L1297.0 1896.0 L1300.0 1899.5 L1303.0 1903.0 L1306.0 1906.4 L1309.0 1909.8 L1312.0 1913.2 L1315.0 1916.5 L1318.0 1919.7 L1321.0 1923.0 L1324.0 1926.1 L1327.0 1929.2 L1330.0 1932.3 L1333.0 1935.3 L1336.0 1938.3 L1339.0 1941.2 L1342.0 1944.1 L1345.0 1946.9 L1345.0 1405.0 L46.0 1405.0 Z"/></clipPath>
<clipPath id="axC"><rect x="46.0" y="1455.0" width="1299.0" height="683.1"/></clipPath>
<g clip-path="url(#axC)">
<path d="M46.0 1966.4 L52.0 1979.7 L55.9 1982.4 L59.1 2030.2 L62.6 2008.9 L66.6 1994.3 L73.2 2001.0 L79.9 2018.2 L86.5 2022.2 L93.1 2023.5 L98.5 2022.2 L103.8 2026.2 L107.7 2020.9 L113.1 2022.2 L119.7 2040.8 L125.0 2044.8 L130.3 2034.2 L134.3 2058.1 L139.6 2051.4 L144.9 2050.1 L148.9 2046.1 L155.6 2056.8 L160.9 2056.8 L164.9 2053.6 L172.8 2052.8 L178.2 2058.1 L184.8 2067.4 L191.4 2078.0 L195.4 2074.0 L198.9 2080.7 L202.6 2066.1 L208.7 2072.7 L214.0 2078.0 L218.0 2072.7 L223.3 2086.0 L228.6 2078.0 L233.9 2074.0 L240.6 2075.4 L245.9 2068.7 L252.5 2088.6 L255.7 2072.7 L263.2 2093.9 L269.8 2067.4 L276.5 2091.3 L283.6 2062.1 L288.4 2096.6 L293.7 2070.0 L299.0 2070.0 L305.7 2095.3 L312.3 2046.1 L317.6 2058.1 L320.3 2080.7 L326.9 2082.0 L330.9 2084.6 L334.9 2074.0 L337.6 2074.0 L341.5 2093.9 L346.9 2075.4 L352.2 2082.0 L361.5 2079.3 L366.3 2058.1 L370.0 2083.3 L376.1 2051.4 L380.1 2050.1 L384.9 2063.4 L390.7 2035.5 L396.0 2040.8 L400.0 2044.8 L405.2 2035.4 L411.8 2028.7 L417.1 2020.8 L421.1 2012.8 L425.1 2016.8 L429.1 1998.2 L431.7 1979.6 L435.7 1976.9 L439.7 1982.3 L445.0 1942.4 L451.7 1963.7 L455.6 1990.2 L461.0 1979.6 L467.6 1971.6 L471.6 1969.0 L474.2 1974.3 L478.2 1955.7 L482.2 1962.3 L487.5 1935.8 L492.8 1953.0 L495.5 1966.3 L498.2 1942.4 L502.1 1943.7 L506.1 1935.8 L510.1 1939.7 L514.1 1918.5 L516.8 1891.9 L520.7 1893.2 L523.4 1878.6 L527.4 1861.4 L530.0 1860.0 L532.7 1838.8 L535.4 1824.2 L538.0 1820.2 L542.0 1791.0 L546.0 1759.1 L549.2 1740.5 L552.6 1749.8 L555.3 1780.3 L557.9 1820.2 L560.6 1841.4 L563.2 1844.1 L565.9 1825.5 L569.9 1821.5 L573.9 1825.5 L579.2 1842.8 L581.8 1842.8 L585.8 1826.8 L589.8 1829.5 L593.8 1821.5 L595.9 1830.8 L599.1 1814.9 L603.1 1808.2 L608.4 1781.7 L612.4 1769.7 L616.4 1783.0 L619.0 1797.6 L623.0 1757.7 L628.3 1755.1 L632.3 1753.8 L637.6 1729.9 L644.8 1708.6 L649.1 1737.8 L652.3 1735.2 L656.2 1721.9 L660.2 1741.8 L664.2 1741.8 L668.2 1733.8 L670.8 1724.5 L672.2 1690.0 L674.6 1667.9 L678.6 1669.2 L685.2 1683.8 L687.9 1674.5 L691.9 1671.8 L695.9 1651.9 L699.9 1625.4 L703.8 1622.7 L706.5 1630.7 L710.5 1614.7 L713.1 1618.7 L716.3 1649.3 L719.8 1604.1 L723.2 1589.5 L727.7 1601.4 L733.1 1600.1 L735.7 1590.8 L741.0 1577.5 L745.0 1609.4 L749.0 1580.2 L751.7 1577.5 L755.6 1597.5 L759.6 1574.9 L762.3 1553.6 L766.3 1556.3 L770.3 1561.6 L774.2 1545.6 L776.9 1540.3 L780.9 1537.7 L784.1 1515.1 L787.5 1535.0 L791.5 1511.1 L795.5 1507.1 L799.5 1509.8 L804.8 1519.1 L810.1 1519.1 L815.4 1535.0 L819.9 1519.1 L824.7 1521.7 L830.0 1541.7 L835.4 1527.0 L843.3 1539.0 L851.3 1516.4 L856.6 1515.1 L863.2 1510.6 L866.7 1532.4 L872.5 1531.0 L875.2 1517.7 L880.5 1535.0 L884.5 1512.4 L888.5 1505.8 L893.8 1507.9 L899.1 1517.7 L903.1 1505.8 L908.4 1507.1 L912.4 1483.2 L916.4 1485.9 L921.7 1484.5 L925.7 1489.9 L931.0 1472.6 L933.7 1475.2 L937.6 1507.1 L941.6 1489.9 L948.3 1475.2 L952.3 1499.2 L956.2 1481.9 L960.2 1484.5 L966.9 1489.9 L969.5 1491.2 L973.5 1484.5 L977.5 1500.5 L982.8 1492.5 L985.5 1489.9 L988.1 1495.2 L991.6 1458.0 L994.8 1481.9 L998.7 1503.1 L1001.4 1507.1 L1005.4 1535.0 L1010.7 1513.8 L1016.0 1504.5 L1020.0 1519.1 L1022.9 1573.5 L1025.6 1543.0 L1029.5 1519.1 L1034.9 1539.0 L1038.8 1543.0 L1044.2 1544.3 L1049.5 1544.3 L1056.1 1551.0 L1058.8 1524.4 L1062.7 1540.3 L1066.7 1564.2 L1069.4 1568.2 L1073.4 1558.9 L1077.4 1576.2 L1082.7 1578.9 L1088.0 1581.5 L1092.0 1596.1 L1094.6 1590.8 L1099.9 1594.8 L1103.9 1597.5 L1109.2 1598.8 L1115.9 1629.3 L1119.9 1614.7 L1125.2 1606.8 L1130.5 1646.6 L1134.5 1633.3 L1138.5 1629.3 L1142.5 1636.0 L1146.4 1651.9 L1151.8 1667.9 L1155.7 1662.5 L1159.7 1683.8 L1165.0 1685.1 L1169.0 1678.5 L1173.0 1683.8 L1177.0 1691.8 L1182.3 1705.1 L1185.0 1706.4 L1187.6 1721.0 L1191.6 1721.0 L1195.6 1723.7 L1198.2 1707.7 L1202.2 1723.7 L1206.2 1744.9 L1208.9 1747.6 L1212.3 1772.8 L1215.5 1762.2 L1219.5 1762.2 L1223.0 1760.8 L1226.1 1771.5 L1230.1 1787.4 L1235.4 1790.1 L1240.8 1790.1 L1244.7 1798.0 L1248.7 1800.7 L1254.0 1811.3 L1259.4 1820.6 L1263.3 1824.6 L1267.3 1825.9 L1271.3 1829.9 L1276.6 1829.9 L1281.9 1828.6 L1285.9 1832.6 L1291.2 1845.9 L1297.9 1879.1 L1303.2 1864.5 L1307.2 1861.8 L1312.5 1875.1 L1317.8 1872.4 L1321.8 1879.1 L1325.8 1885.7 L1331.1 1891.0 L1336.4 1907.0 L1338.3 1914.9 L1340.4 1907.0 L1345.2 1905.6 L1345.5 1906.2 L1345.5 2188.1 L46.0 2188.1 Z" class="mhs" clip-path="url(#clipC)"/>
<path d="M46.0 1994.2 L49.0 1996.9 L52.0 1999.5 L55.0 2002.1 L58.0 2004.6 L61.0 2007.1 L64.0 2009.6 L67.0 2012.1 L70.0 2014.5 L73.0 2016.9 L76.0 2019.2 L79.0 2021.5 L82.0 2023.8 L85.0 2026.1 L88.0 2028.3 L91.0 2030.5 L94.0 2032.7 L97.0 2034.8 L100.0 2036.9 L103.0 2038.9 L106.0 2041.0 L109.0 2043.0 L112.0 2044.9 L115.0 2046.9 L118.0 2048.8 L121.0 2050.6 L124.0 2052.5 L127.0 2054.3 L130.0 2056.0 L133.0 2057.8 L136.0 2059.5 L139.0 2061.1 L142.0 2062.8 L145.0 2064.4 L148.0 2065.9 L151.0 2067.5 L154.0 2069.0 L157.0 2070.5 L160.0 2071.9 L163.0 2073.3 L166.0 2074.7 L169.0 2076.0 L172.0 2077.3 L175.0 2078.6 L178.0 2079.9 L181.0 2081.1 L184.0 2082.3 L187.0 2083.4 L190.0 2084.5 L193.0 2085.6 L196.0 2086.6 L199.0 2087.7 L202.0 2088.6 L205.0 2089.6 L208.0 2090.5 L211.0 2091.4 L214.0 2092.2 L217.0 2093.1 L220.0 2093.9 L223.0 2094.6 L226.0 2095.3 L229.0 2096.0 L232.0 2096.7 L235.0 2097.3 L238.0 2097.9 L241.0 2098.4 L244.0 2099.0 L247.0 2099.5 L250.0 2099.9 L253.0 2100.3 L256.0 2100.7 L259.0 2101.1 L262.0 2101.4 L265.0 2101.7 L268.0 2102.0 L271.0 2102.2 L274.0 2102.4 L277.0 2102.5 L280.0 2102.6 L283.0 2102.7 L286.0 2102.7 L289.0 2102.7 L292.0 2102.7 L295.0 2102.6 L298.0 2102.5 L301.0 2102.3 L304.0 2102.1 L307.0 2101.8 L310.0 2101.5 L313.0 2101.1 L316.0 2100.7 L319.0 2100.3 L322.0 2099.8 L325.0 2099.2 L328.0 2098.6 L331.0 2098.0 L334.0 2097.3 L337.0 2096.5 L340.0 2095.7 L343.0 2094.9 L346.0 2094.0 L349.0 2093.0 L352.0 2092.0 L355.0 2090.9 L358.0 2089.8 L361.0 2088.6 L364.0 2087.3 L367.0 2086.0 L370.0 2084.6 L373.0 2083.2 L376.0 2081.7 L379.0 2080.1 L382.0 2078.5 L385.0 2076.8 L388.0 2075.1 L391.0 2073.3 L394.0 2071.4 L397.0 2069.4 L400.0 2067.4 L403.0 2065.3 L406.0 2063.2 L409.0 2061.0 L412.0 2058.7 L415.0 2056.3 L418.0 2053.9 L421.0 2051.4 L424.0 2048.9 L427.0 2046.3 L430.0 2043.6 L433.0 2040.8 L436.0 2038.0 L439.0 2035.1 L442.0 2032.2 L445.0 2029.2 L448.0 2026.1 L451.0 2023.0 L454.0 2019.8 L457.0 2016.5 L460.0 2013.2 L463.0 2009.8 L466.0 2006.4 L469.0 2002.9 L472.0 1999.3 L475.0 1995.7 L478.0 1992.0 L481.0 1988.2 L484.0 1984.4 L487.0 1980.6 L490.0 1976.6 L493.0 1972.7 L496.0 1968.6 L499.0 1964.5 L502.0 1960.3 L505.0 1956.1 L508.0 1951.9 L511.0 1947.6 L514.0 1943.2 L517.0 1938.8 L520.0 1934.4 L523.0 1929.9 L526.0 1925.3 L529.0 1920.8 L532.0 1916.2 L535.0 1911.6 L538.0 1906.9 L541.0 1902.2 L544.0 1897.5 L547.0 1892.8 L550.0 1888.0 L553.0 1883.3 L556.0 1878.5 L559.0 1873.7 L562.0 1868.9 L565.0 1864.1 L568.0 1859.2 L571.0 1854.4 L574.0 1849.6 L577.0 1844.8 L580.0 1839.9 L583.0 1835.1 L586.0 1830.3 L589.0 1825.5 L592.0 1820.7 L595.0 1815.9 L598.0 1811.1 L601.0 1806.3 L604.0 1801.6 L607.0 1796.9 L610.0 1792.2 L613.0 1787.5 L616.0 1782.8 L619.0 1778.2 L622.0 1773.6 L625.0 1769.0 L628.0 1764.5 L631.0 1760.0 L634.0 1755.5 L637.0 1751.1 L640.0 1746.7 L643.0 1742.4 L646.0 1738.1 L649.0 1733.8 L652.0 1729.6 L655.0 1725.4 L658.0 1721.3 L661.0 1717.3 L664.0 1713.3 L667.0 1709.3 L670.0 1705.4 L673.0 1701.5 L676.0 1697.7 L679.0 1693.9 L682.0 1690.2 L685.0 1686.5 L688.0 1682.9 L691.0 1679.3 L694.0 1675.8 L697.0 1672.3 L700.0 1668.8 L703.0 1665.5 L706.0 1662.1 L709.0 1658.9 L712.0 1655.6 L715.0 1652.4 L718.0 1649.3 L721.0 1646.2 L724.0 1643.2 L727.0 1640.2 L730.0 1637.3 L733.0 1634.4 L736.0 1631.6 L739.0 1628.8 L742.0 1626.1 L745.0 1623.5 L748.0 1620.8 L751.0 1618.3 L754.0 1615.8 L757.0 1613.3 L760.0 1610.9 L763.0 1608.6 L766.0 1606.3 L769.0 1604.0 L772.0 1601.8 L775.0 1599.7 L778.0 1597.6 L781.0 1595.6 L784.0 1593.6 L787.0 1591.7 L790.0 1589.8 L793.0 1588.0 L796.0 1586.2 L799.0 1584.5 L802.0 1582.9 L805.0 1581.3 L808.0 1579.8 L811.0 1578.3 L814.0 1576.9 L817.0 1575.5 L820.0 1574.2 L823.0 1573.0 L826.0 1571.8 L829.0 1570.7 L832.0 1569.6 L835.0 1568.6 L838.0 1567.6 L841.0 1566.7 L844.0 1565.9 L847.0 1565.1 L850.0 1564.4 L853.0 1563.8 L856.0 1563.2 L859.0 1562.6 L862.0 1562.2 L865.0 1561.8 L868.0 1561.4 L871.0 1561.1 L874.0 1560.9 L877.0 1560.7 L880.0 1560.6 L883.0 1560.6 L886.0 1560.6 L889.0 1560.7 L892.0 1560.8 L895.0 1561.0 L898.0 1561.3 L901.0 1561.7 L904.0 1562.1 L907.0 1562.5 L910.0 1563.1 L913.0 1563.7 L916.0 1564.3 L919.0 1565.0 L922.0 1565.8 L925.0 1566.7 L928.0 1567.6 L931.0 1568.6 L934.0 1569.6 L937.0 1570.7 L940.0 1571.8 L943.0 1573.0 L946.0 1574.2 L949.0 1575.5 L952.0 1576.9 L955.0 1578.2 L958.0 1579.7 L961.0 1581.2 L964.0 1582.7 L967.0 1584.3 L970.0 1585.9 L973.0 1587.5 L976.0 1589.2 L979.0 1591.0 L982.0 1592.8 L985.0 1594.6 L988.0 1596.5 L991.0 1598.4 L994.0 1600.4 L997.0 1602.4 L1000.0 1604.5 L1003.0 1606.6 L1006.0 1608.8 L1009.0 1611.0 L1012.0 1613.3 L1015.0 1615.6 L1018.0 1617.9 L1021.0 1620.3 L1024.0 1622.7 L1027.0 1625.2 L1030.0 1627.8 L1033.0 1630.4 L1036.0 1633.0 L1039.0 1635.7 L1042.0 1638.4 L1045.0 1641.2 L1048.0 1644.0 L1051.0 1646.8 L1054.0 1649.7 L1057.0 1652.7 L1060.0 1655.6 L1063.0 1658.6 L1066.0 1661.7 L1069.0 1664.8 L1072.0 1667.9 L1075.0 1671.0 L1078.0 1674.2 L1081.0 1677.5 L1084.0 1680.7 L1087.0 1684.0 L1090.0 1687.3 L1093.0 1690.7 L1096.0 1694.0 L1099.0 1697.4 L1102.0 1700.9 L1105.0 1704.3 L1108.0 1707.8 L1111.0 1711.3 L1114.0 1714.8 L1117.0 1718.4 L1120.0 1722.0 L1123.0 1725.6 L1126.0 1729.2 L1129.0 1732.8 L1132.0 1736.5 L1135.0 1740.1 L1138.0 1743.8 L1141.0 1747.5 L1144.0 1751.3 L1147.0 1755.0 L1150.0 1758.7 L1153.0 1762.5 L1156.0 1766.3 L1159.0 1770.1 L1162.0 1773.9 L1165.0 1777.7 L1168.0 1781.5 L1171.0 1785.3 L1174.0 1789.1 L1177.0 1793.0 L1180.0 1796.8 L1183.0 1800.6 L1186.0 1804.5 L1189.0 1808.3 L1192.0 1812.2 L1195.0 1816.0 L1198.0 1819.9 L1201.0 1823.7 L1204.0 1827.6 L1207.0 1831.4 L1210.0 1835.3 L1213.0 1839.1 L1216.0 1843.0 L1219.0 1846.8 L1222.0 1850.6 L1225.0 1854.4 L1228.0 1858.2 L1231.0 1862.0 L1234.0 1865.8 L1237.0 1869.6 L1240.0 1873.4 L1243.0 1877.1 L1246.0 1880.8 L1249.0 1884.6 L1252.0 1888.3 L1255.0 1892.0 L1258.0 1895.6 L1261.0 1899.3 L1264.0 1902.9 L1267.0 1906.5 L1270.0 1910.1 L1273.0 1913.7 L1276.0 1917.3 L1279.0 1920.8 L1282.0 1924.3 L1285.0 1927.8 L1288.0 1931.3 L1291.0 1934.7 L1294.0 1938.1 L1297.0 1941.5 L1300.0 1944.8 L1303.0 1948.1 L1306.0 1951.4 L1309.0 1954.7 L1312.0 1957.9 L1315.0 1961.1 L1318.0 1964.2 L1321.0 1967.4 L1324.0 1970.4 L1327.0 1973.5 L1330.0 1976.5 L1333.0 1979.5 L1336.0 1982.4 L1339.0 1985.3 L1342.0 1988.2 L1345.0 1991.0" class="mean"/>
<path d="M46.0 1949.8 L49.0 1952.6 L52.0 1955.4 L55.0 1958.2 L58.0 1961.0 L61.0 1963.7 L64.0 1966.4 L67.0 1969.1 L70.0 1971.7 L73.0 1974.3 L76.0 1976.9 L79.0 1979.4 L82.0 1982.0 L85.0 1984.4 L88.0 1986.9 L91.0 1989.3 L94.0 1991.7 L97.0 1994.0 L100.0 1996.4 L103.0 1998.6 L106.0 2000.9 L109.0 2003.1 L112.0 2005.3 L115.0 2007.4 L118.0 2009.6 L121.0 2011.6 L124.0 2013.7 L127.0 2015.7 L130.0 2017.7 L133.0 2019.6 L136.0 2021.5 L139.0 2023.4 L142.0 2025.2 L145.0 2027.0 L148.0 2028.8 L151.0 2030.5 L154.0 2032.2 L157.0 2033.8 L160.0 2035.4 L163.0 2037.0 L166.0 2038.5 L169.0 2040.0 L172.0 2041.4 L175.0 2042.9 L178.0 2044.2 L181.0 2045.6 L184.0 2046.8 L187.0 2048.1 L190.0 2049.3 L193.0 2050.5 L196.0 2051.6 L199.0 2052.7 L202.0 2053.7 L205.0 2054.7 L208.0 2055.7 L211.0 2056.6 L214.0 2057.5 L217.0 2058.3 L220.0 2059.1 L223.0 2059.8 L226.0 2060.5 L229.0 2061.2 L232.0 2061.8 L235.0 2062.3 L238.0 2062.8 L241.0 2063.3 L244.0 2063.7 L247.0 2064.1 L250.0 2064.5 L253.0 2064.7 L256.0 2065.0 L259.0 2065.2 L262.0 2065.3 L265.0 2065.4 L268.0 2065.5 L271.0 2065.5 L274.0 2065.5 L277.0 2065.4 L280.0 2065.2 L283.0 2065.1 L286.0 2064.8 L289.0 2064.6 L292.0 2064.3 L295.0 2063.9 L298.0 2063.5 L301.0 2063.1 L304.0 2062.6 L307.0 2062.0 L310.0 2061.4 L313.0 2060.8 L316.0 2060.1 L319.0 2059.4 L322.0 2058.7 L325.0 2057.9 L328.0 2057.0 L331.0 2056.1 L334.0 2055.2 L337.0 2054.2 L340.0 2053.2 L343.0 2052.1 L346.0 2051.0 L349.0 2049.9 L352.0 2048.7 L355.0 2047.5 L358.0 2046.2 L361.0 2044.9 L364.0 2043.5 L367.0 2042.1 L370.0 2040.7 L373.0 2039.2 L376.0 2037.6 L379.0 2036.0 L382.0 2034.3 L385.0 2032.6 L388.0 2030.8 L391.0 2029.0 L394.0 2027.1 L397.0 2025.1 L400.0 2023.0 L403.0 2020.9 L406.0 2018.7 L409.0 2016.4 L412.0 2014.0 L415.0 2011.6 L418.0 2009.0 L421.0 2006.4 L424.0 2003.7 L427.0 2000.9 L430.0 1998.0 L433.0 1995.1 L436.0 1992.0 L439.0 1988.9 L442.0 1985.7 L445.0 1982.5 L448.0 1979.2 L451.0 1975.8 L454.0 1972.3 L457.0 1968.7 L460.0 1965.1 L463.0 1961.5 L466.0 1957.7 L469.0 1954.0 L472.0 1950.1 L475.0 1946.2 L478.0 1942.3 L481.0 1938.3 L484.0 1934.2 L487.0 1930.1 L490.0 1926.0 L493.0 1921.8 L496.0 1917.6 L499.0 1913.3 L502.0 1909.0 L505.0 1904.6 L508.0 1900.2 L511.0 1895.8 L514.0 1891.4 L517.0 1886.9 L520.0 1882.4 L523.0 1877.9 L526.0 1873.3 L529.0 1868.7 L532.0 1864.1 L535.0 1859.5 L538.0 1854.9 L541.0 1850.2 L544.0 1845.6 L547.0 1840.9 L550.0 1836.2 L553.0 1831.5 L556.0 1826.8 L559.0 1822.1 L562.0 1817.4 L565.0 1812.7 L568.0 1808.0 L571.0 1803.3 L574.0 1798.6 L577.0 1794.0 L580.0 1789.3 L583.0 1784.6 L586.0 1780.0 L589.0 1775.3 L592.0 1770.7 L595.0 1766.1 L598.0 1761.5 L601.0 1757.0 L604.0 1752.4 L607.0 1747.9 L610.0 1743.4 L613.0 1738.9 L616.0 1734.5 L619.0 1730.1 L622.0 1725.7 L625.0 1721.3 L628.0 1717.0 L631.0 1712.7 L634.0 1708.4 L637.0 1704.1 L640.0 1699.9 L643.0 1695.7 L646.0 1691.6 L649.0 1687.5 L652.0 1683.4 L655.0 1679.4 L658.0 1675.4 L661.0 1671.4 L664.0 1667.5 L667.0 1663.6 L670.0 1659.7 L673.0 1655.9 L676.0 1652.2 L679.0 1648.5 L682.0 1644.8 L685.0 1641.2 L688.0 1637.6 L691.0 1634.0 L694.0 1630.6 L697.0 1627.1 L700.0 1623.7 L703.0 1620.4 L706.0 1617.1 L709.0 1613.9 L712.0 1610.7 L715.0 1607.6 L718.0 1604.5 L721.0 1601.5 L724.0 1598.6 L727.0 1595.7 L730.0 1592.8 L733.0 1590.1 L736.0 1587.3 L739.0 1584.7 L742.0 1582.1 L745.0 1579.6 L748.0 1577.1 L751.0 1574.7 L754.0 1572.4 L757.0 1570.1 L760.0 1567.9 L763.0 1565.8 L766.0 1563.7 L769.0 1561.7 L772.0 1559.8 L775.0 1557.9 L778.0 1556.1 L781.0 1554.3 L784.0 1552.6 L787.0 1551.0 L790.0 1549.3 L793.0 1547.7 L796.0 1546.2 L799.0 1544.6 L802.0 1543.2 L805.0 1541.7 L808.0 1540.2 L811.0 1538.8 L814.0 1537.4 L817.0 1536.0 L820.0 1534.6 L823.0 1533.2 L826.0 1531.8 L829.0 1530.5 L832.0 1529.1 L835.0 1527.8 L838.0 1526.5 L841.0 1525.2 L844.0 1524.0 L847.0 1522.9 L850.0 1521.8 L853.0 1520.8 L856.0 1519.9 L859.0 1519.1 L862.0 1518.4 L865.0 1517.8 L868.0 1517.3 L871.0 1516.9 L874.0 1516.6 L877.0 1516.4 L880.0 1516.3 L883.0 1516.3 L886.0 1516.4 L889.0 1516.5 L892.0 1516.8 L895.0 1517.1 L898.0 1517.5 L901.0 1518.0 L904.0 1518.5 L907.0 1519.2 L910.0 1519.9 L913.0 1520.6 L916.0 1521.4 L919.0 1522.3 L922.0 1523.3 L925.0 1524.2 L928.0 1525.3 L931.0 1526.4 L934.0 1527.5 L937.0 1528.7 L940.0 1529.9 L943.0 1531.1 L946.0 1532.4 L949.0 1533.7 L952.0 1535.0 L955.0 1536.4 L958.0 1537.7 L961.0 1539.1 L964.0 1540.5 L967.0 1541.9 L970.0 1543.3 L973.0 1544.7 L976.0 1546.1 L979.0 1547.5 L982.0 1549.0 L985.0 1550.4 L988.0 1551.9 L991.0 1553.4 L994.0 1555.0 L997.0 1556.6 L1000.0 1558.2 L1003.0 1559.8 L1006.0 1561.5 L1009.0 1563.3 L1012.0 1565.1 L1015.0 1566.9 L1018.0 1568.8 L1021.0 1570.8 L1024.0 1572.8 L1027.0 1574.8 L1030.0 1577.0 L1033.0 1579.2 L1036.0 1581.4 L1039.0 1583.8 L1042.0 1586.1 L1045.0 1588.6 L1048.0 1591.1 L1051.0 1593.6 L1054.0 1596.3 L1057.0 1598.9 L1060.0 1601.6 L1063.0 1604.4 L1066.0 1607.2 L1069.0 1610.1 L1072.0 1613.0 L1075.0 1616.0 L1078.0 1619.0 L1081.0 1622.1 L1084.0 1625.2 L1087.0 1628.4 L1090.0 1631.6 L1093.0 1634.8 L1096.0 1638.1 L1099.0 1641.4 L1102.0 1644.8 L1105.0 1648.2 L1108.0 1651.6 L1111.0 1655.1 L1114.0 1658.6 L1117.0 1662.2 L1120.0 1665.7 L1123.0 1669.4 L1126.0 1673.0 L1129.0 1676.7 L1132.0 1680.4 L1135.0 1684.1 L1138.0 1687.8 L1141.0 1691.6 L1144.0 1695.4 L1147.0 1699.3 L1150.0 1703.1 L1153.0 1707.0 L1156.0 1710.9 L1159.0 1714.8 L1162.0 1718.7 L1165.0 1722.7 L1168.0 1726.6 L1171.0 1730.6 L1174.0 1734.6 L1177.0 1738.6 L1180.0 1742.6 L1183.0 1746.7 L1186.0 1750.7 L1189.0 1754.7 L1192.0 1758.8 L1195.0 1762.9 L1198.0 1766.9 L1201.0 1771.0 L1204.0 1775.1 L1207.0 1779.2 L1210.0 1783.2 L1213.0 1787.3 L1216.0 1791.4 L1219.0 1795.5 L1222.0 1799.5 L1225.0 1803.6 L1228.0 1807.6 L1231.0 1811.7 L1234.0 1815.7 L1237.0 1819.7 L1240.0 1823.8 L1243.0 1827.8 L1246.0 1831.7 L1249.0 1835.7 L1252.0 1839.7 L1255.0 1843.6 L1258.0 1847.5 L1261.0 1851.4 L1264.0 1855.3 L1267.0 1859.1 L1270.0 1862.9 L1273.0 1866.7 L1276.0 1870.5 L1279.0 1874.2 L1282.0 1878.0 L1285.0 1881.6 L1288.0 1885.3 L1291.0 1888.9 L1294.0 1892.5 L1297.0 1896.0 L1300.0 1899.5 L1303.0 1903.0 L1306.0 1906.4 L1309.0 1909.8 L1312.0 1913.2 L1315.0 1916.5 L1318.0 1919.7 L1321.0 1923.0 L1324.0 1926.1 L1327.0 1929.2 L1330.0 1932.3 L1333.0 1935.3 L1336.0 1938.3 L1339.0 1941.2 L1342.0 1944.1 L1345.0 1946.9" class="p90u"/>
<path d="M46.0 1949.8 L49.0 1952.6 L52.0 1955.4 L55.0 1958.2 L58.0 1961.0 L61.0 1963.7 L64.0 1966.4 L67.0 1969.1 L70.0 1971.7 L73.0 1974.3 L76.0 1976.9 L79.0 1979.4 L82.0 1982.0 L85.0 1984.4 L88.0 1986.9 L91.0 1989.3 L94.0 1991.7 L97.0 1994.0 L100.0 1996.4 L103.0 1998.6 L106.0 2000.9 L109.0 2003.1 L112.0 2005.3 L115.0 2007.4 L118.0 2009.6 L121.0 2011.6 L124.0 2013.7 L127.0 2015.7 L130.0 2017.7 L133.0 2019.6 L136.0 2021.5 L139.0 2023.4 L142.0 2025.2 L145.0 2027.0 L148.0 2028.8 L151.0 2030.5 L154.0 2032.2 L157.0 2033.8 L160.0 2035.4 L163.0 2037.0 L166.0 2038.5 L169.0 2040.0 L172.0 2041.4 L175.0 2042.9 L178.0 2044.2 L181.0 2045.6 L184.0 2046.8 L187.0 2048.1 L190.0 2049.3 L193.0 2050.5 L196.0 2051.6 L199.0 2052.7 L202.0 2053.7 L205.0 2054.7 L208.0 2055.7 L211.0 2056.6 L214.0 2057.5 L217.0 2058.3 L220.0 2059.1 L223.0 2059.8 L226.0 2060.5 L229.0 2061.2 L232.0 2061.8 L235.0 2062.3 L238.0 2062.8 L241.0 2063.3 L244.0 2063.7 L247.0 2064.1 L250.0 2064.5 L253.0 2064.7 L256.0 2065.0 L259.0 2065.2 L262.0 2065.3 L265.0 2065.4 L268.0 2065.5 L271.0 2065.5 L274.0 2065.5 L277.0 2065.4 L280.0 2065.2 L283.0 2065.1 L286.0 2064.8 L289.0 2064.6 L292.0 2064.3 L295.0 2063.9 L298.0 2063.5 L301.0 2063.1 L304.0 2062.6 L307.0 2062.0 L310.0 2061.4 L313.0 2060.8 L316.0 2060.1 L319.0 2059.4 L322.0 2058.7 L325.0 2057.9 L328.0 2057.0 L331.0 2056.1 L334.0 2055.2 L337.0 2054.2 L340.0 2053.2 L343.0 2052.1 L346.0 2051.0 L349.0 2049.9 L352.0 2048.7 L355.0 2047.5 L358.0 2046.2 L361.0 2044.9 L364.0 2043.5 L367.0 2042.1 L370.0 2040.7 L373.0 2039.2 L376.0 2037.6 L379.0 2036.0 L382.0 2034.3 L385.0 2032.6 L388.0 2030.8 L391.0 2029.0 L394.0 2027.1 L397.0 2025.1 L400.0 2023.0 L403.0 2020.9 L406.0 2018.7 L409.0 2016.4 L412.0 2014.0 L415.0 2011.6 L418.0 2009.0 L421.0 2006.4 L424.0 2003.7 L427.0 2000.9 L430.0 1998.0 L433.0 1995.1 L436.0 1992.0 L439.0 1988.9 L442.0 1985.7 L445.0 1982.5 L448.0 1979.2 L451.0 1975.8 L454.0 1972.3 L457.0 1968.7 L460.0 1965.1 L463.0 1961.5 L466.0 1957.7 L469.0 1954.0 L472.0 1950.1 L475.0 1946.2 L478.0 1942.3 L481.0 1938.3 L484.0 1934.2 L487.0 1930.1 L490.0 1926.0 L493.0 1921.8 L496.0 1917.6 L499.0 1913.3 L502.0 1909.0 L505.0 1904.6 L508.0 1900.2 L511.0 1895.8 L514.0 1891.4 L517.0 1886.9 L520.0 1882.4 L523.0 1877.9 L526.0 1873.3 L529.0 1868.7 L532.0 1864.1 L535.0 1859.5 L538.0 1854.9 L541.0 1850.2 L544.0 1845.6 L547.0 1840.9 L550.0 1836.2 L553.0 1831.5 L556.0 1826.8 L559.0 1822.1 L562.0 1817.4 L565.0 1812.7 L568.0 1808.0 L571.0 1803.3 L574.0 1798.6 L577.0 1794.0 L580.0 1789.3 L583.0 1784.6 L586.0 1780.0 L589.0 1775.3 L592.0 1770.7 L595.0 1766.1 L598.0 1761.5 L601.0 1757.0 L604.0 1752.4 L607.0 1747.9 L610.0 1743.4 L613.0 1738.9 L616.0 1734.5 L619.0 1730.1 L622.0 1725.7 L625.0 1721.3 L628.0 1717.0 L631.0 1712.7 L634.0 1708.4 L637.0 1704.1 L640.0 1699.9 L643.0 1695.7 L646.0 1691.6 L649.0 1687.5 L652.0 1683.4 L655.0 1679.4 L658.0 1675.4 L661.0 1671.4 L664.0 1667.5 L667.0 1663.6 L670.0 1659.7 L673.0 1655.9 L676.0 1652.2 L679.0 1648.5 L682.0 1644.8 L685.0 1641.2 L688.0 1637.6 L691.0 1634.0 L694.0 1630.6 L697.0 1627.1 L700.0 1623.7 L703.0 1620.4 L706.0 1617.1 L709.0 1613.9 L712.0 1610.7 L715.0 1607.6 L718.0 1604.5 L721.0 1601.5 L724.0 1598.6 L727.0 1595.7 L730.0 1592.8 L733.0 1590.1 L736.0 1587.3 L739.0 1584.7 L742.0 1582.1 L745.0 1579.6 L748.0 1577.1 L751.0 1574.7 L754.0 1572.4 L757.0 1570.1 L760.0 1567.9 L763.0 1565.8 L766.0 1563.7 L769.0 1561.7 L772.0 1559.8 L775.0 1557.9 L778.0 1556.1 L781.0 1554.3 L784.0 1552.6 L787.0 1551.0 L790.0 1549.3 L793.0 1547.7 L796.0 1546.2 L799.0 1544.6 L802.0 1543.2 L805.0 1541.7 L808.0 1540.2 L811.0 1538.8 L814.0 1537.4 L817.0 1536.0 L820.0 1534.6 L823.0 1533.2 L826.0 1531.8 L829.0 1530.5 L832.0 1529.1 L835.0 1527.8 L838.0 1526.5 L841.0 1525.2 L844.0 1524.0 L847.0 1522.9 L850.0 1521.8 L853.0 1520.8 L856.0 1519.9 L859.0 1519.1 L862.0 1518.4 L865.0 1517.8 L868.0 1517.3 L871.0 1516.9 L874.0 1516.6 L877.0 1516.4 L880.0 1516.3 L883.0 1516.3 L886.0 1516.4 L889.0 1516.5 L892.0 1516.8 L895.0 1517.1 L898.0 1517.5 L901.0 1518.0 L904.0 1518.5 L907.0 1519.2 L910.0 1519.9 L913.0 1520.6 L916.0 1521.4 L919.0 1522.3 L922.0 1523.3 L925.0 1524.2 L928.0 1525.3 L931.0 1526.4 L934.0 1527.5 L937.0 1528.7 L940.0 1529.9 L943.0 1531.1 L946.0 1532.4 L949.0 1533.7 L952.0 1535.0 L955.0 1536.4 L958.0 1537.7 L961.0 1539.1 L964.0 1540.5 L967.0 1541.9 L970.0 1543.3 L973.0 1544.7 L976.0 1546.1 L979.0 1547.5 L982.0 1549.0 L985.0 1550.4 L988.0 1551.9 L991.0 1553.4 L994.0 1555.0 L997.0 1556.6 L1000.0 1558.2 L1003.0 1559.8 L1006.0 1561.5 L1009.0 1563.3 L1012.0 1565.1 L1015.0 1566.9 L1018.0 1568.8 L1021.0 1570.8 L1024.0 1572.8 L1027.0 1574.8 L1030.0 1577.0 L1033.0 1579.2 L1036.0 1581.4 L1039.0 1583.8 L1042.0 1586.1 L1045.0 1588.6 L1048.0 1591.1 L1051.0 1593.6 L1054.0 1596.3 L1057.0 1598.9 L1060.0 1601.6 L1063.0 1604.4 L1066.0 1607.2 L1069.0 1610.1 L1072.0 1613.0 L1075.0 1616.0 L1078.0 1619.0 L1081.0 1622.1 L1084.0 1625.2 L1087.0 1628.4 L1090.0 1631.6 L1093.0 1634.8 L1096.0 1638.1 L1099.0 1641.4 L1102.0 1644.8 L1105.0 1648.2 L1108.0 1651.6 L1111.0 1655.1 L1114.0 1658.6 L1117.0 1662.2 L1120.0 1665.7 L1123.0 1669.4 L1126.0 1673.0 L1129.0 1676.7 L1132.0 1680.4 L1135.0 1684.1 L1138.0 1687.8 L1141.0 1691.6 L1144.0 1695.4 L1147.0 1699.3 L1150.0 1703.1 L1153.0 1707.0 L1156.0 1710.9 L1159.0 1714.8 L1162.0 1718.7 L1165.0 1722.7 L1168.0 1726.6 L1171.0 1730.6 L1174.0 1734.6 L1177.0 1738.6 L1180.0 1742.6 L1183.0 1746.7 L1186.0 1750.7 L1189.0 1754.7 L1192.0 1758.8 L1195.0 1762.9 L1198.0 1766.9 L1201.0 1771.0 L1204.0 1775.1 L1207.0 1779.2 L1210.0 1783.2 L1213.0 1787.3 L1216.0 1791.4 L1219.0 1795.5 L1222.0 1799.5 L1225.0 1803.6 L1228.0 1807.6 L1231.0 1811.7 L1234.0 1815.7 L1237.0 1819.7 L1240.0 1823.8 L1243.0 1827.8 L1246.0 1831.7 L1249.0 1835.7 L1252.0 1839.7 L1255.0 1843.6 L1258.0 1847.5 L1261.0 1851.4 L1264.0 1855.3 L1267.0 1859.1 L1270.0 1862.9 L1273.0 1866.7 L1276.0 1870.5 L1279.0 1874.2 L1282.0 1878.0 L1285.0 1881.6 L1288.0 1885.3 L1291.0 1888.9 L1294.0 1892.5 L1297.0 1896.0 L1300.0 1899.5 L1303.0 1903.0 L1306.0 1906.4 L1309.0 1909.8 L1312.0 1913.2 L1315.0 1916.5 L1318.0 1919.7 L1321.0 1923.0 L1324.0 1926.1 L1327.0 1929.2 L1330.0 1932.3 L1333.0 1935.3 L1336.0 1938.3 L1339.0 1941.2 L1342.0 1944.1 L1345.0 1946.9" class="p90"/>
</g>
<path d="M46.0 1966.4 L52.0 1979.7 L55.9 1982.4 L59.1 2030.2 L62.6 2008.9 L66.6 1994.3 L73.2 2001.0 L79.9 2018.2 L86.5 2022.2 L93.1 2023.5 L98.5 2022.2 L103.8 2026.2 L107.7 2020.9 L113.1 2022.2 L119.7 2040.8 L125.0 2044.8 L130.3 2034.2 L134.3 2058.1 L139.6 2051.4 L144.9 2050.1 L148.9 2046.1 L155.6 2056.8 L160.9 2056.8 L164.9 2053.6 L172.8 2052.8 L178.2 2058.1 L184.8 2067.4 L191.4 2078.0 L195.4 2074.0 L198.9 2080.7 L202.6 2066.1 L208.7 2072.7 L214.0 2078.0 L218.0 2072.7 L223.3 2086.0 L228.6 2078.0 L233.9 2074.0 L240.6 2075.4 L245.9 2068.7 L252.5 2088.6 L255.7 2072.7 L263.2 2093.9 L269.8 2067.4 L276.5 2091.3 L283.6 2062.1 L288.4 2096.6 L293.7 2070.0 L299.0 2070.0 L305.7 2095.3 L312.3 2046.1 L317.6 2058.1 L320.3 2080.7 L326.9 2082.0 L330.9 2084.6 L334.9 2074.0 L337.6 2074.0 L341.5 2093.9 L346.9 2075.4 L352.2 2082.0 L361.5 2079.3 L366.3 2058.1 L370.0 2083.3 L376.1 2051.4 L380.1 2050.1 L384.9 2063.4 L390.7 2035.5 L396.0 2040.8 L400.0 2044.8 L405.2 2035.4 L411.8 2028.7 L417.1 2020.8 L421.1 2012.8 L425.1 2016.8 L429.1 1998.2 L431.7 1979.6 L435.7 1976.9 L439.7 1982.3 L445.0 1942.4 L451.7 1963.7 L455.6 1990.2 L461.0 1979.6 L467.6 1971.6 L471.6 1969.0 L474.2 1974.3 L478.2 1955.7 L482.2 1962.3 L487.5 1935.8 L492.8 1953.0 L495.5 1966.3 L498.2 1942.4 L502.1 1943.7 L506.1 1935.8 L510.1 1939.7 L514.1 1918.5 L516.8 1891.9 L520.7 1893.2 L523.4 1878.6 L527.4 1861.4 L530.0 1860.0 L532.7 1838.8 L535.4 1824.2 L538.0 1820.2 L542.0 1791.0 L546.0 1759.1 L549.2 1740.5 L552.6 1749.8 L555.3 1780.3 L557.9 1820.2 L560.6 1841.4 L563.2 1844.1 L565.9 1825.5 L569.9 1821.5 L573.9 1825.5 L579.2 1842.8 L581.8 1842.8 L585.8 1826.8 L589.8 1829.5 L593.8 1821.5 L595.9 1830.8 L599.1 1814.9 L603.1 1808.2 L608.4 1781.7 L612.4 1769.7 L616.4 1783.0 L619.0 1797.6 L623.0 1757.7 L628.3 1755.1 L632.3 1753.8 L637.6 1729.9 L644.8 1708.6 L649.1 1737.8 L652.3 1735.2 L656.2 1721.9 L660.2 1741.8 L664.2 1741.8 L668.2 1733.8 L670.8 1724.5 L672.2 1690.0 L674.6 1667.9 L678.6 1669.2 L685.2 1683.8 L687.9 1674.5 L691.9 1671.8 L695.9 1651.9 L699.9 1625.4 L703.8 1622.7 L706.5 1630.7 L710.5 1614.7 L713.1 1618.7 L716.3 1649.3 L719.8 1604.1 L723.2 1589.5 L727.7 1601.4 L733.1 1600.1 L735.7 1590.8 L741.0 1577.5 L745.0 1609.4 L749.0 1580.2 L751.7 1577.5 L755.6 1597.5 L759.6 1574.9 L762.3 1553.6 L766.3 1556.3 L770.3 1561.6 L774.2 1545.6 L776.9 1540.3 L780.9 1537.7 L784.1 1515.1 L787.5 1535.0 L791.5 1511.1 L795.5 1507.1 L799.5 1509.8 L804.8 1519.1 L810.1 1519.1 L815.4 1535.0 L819.9 1519.1 L824.7 1521.7 L830.0 1541.7 L835.4 1527.0 L843.3 1539.0 L851.3 1516.4 L856.6 1515.1 L863.2 1510.6 L866.7 1532.4 L872.5 1531.0 L875.2 1517.7 L880.5 1535.0 L884.5 1512.4 L888.5 1505.8 L893.8 1507.9 L899.1 1517.7 L903.1 1505.8 L908.4 1507.1 L912.4 1483.2 L916.4 1485.9 L921.7 1484.5 L925.7 1489.9 L931.0 1472.6 L933.7 1475.2 L937.6 1507.1 L941.6 1489.9 L948.3 1475.2 L952.3 1499.2 L956.2 1481.9 L960.2 1484.5 L966.9 1489.9 L969.5 1491.2 L973.5 1484.5 L977.5 1500.5 L982.8 1492.5 L985.5 1489.9 L988.1 1495.2 L991.6 1458.0 L994.8 1481.9 L998.7 1503.1 L1001.4 1507.1 L1005.4 1535.0 L1010.7 1513.8 L1016.0 1504.5 L1020.0 1519.1 L1022.9 1573.5 L1025.6 1543.0 L1029.5 1519.1 L1034.9 1539.0 L1038.8 1543.0 L1044.2 1544.3 L1049.5 1544.3 L1056.1 1551.0 L1058.8 1524.4 L1062.7 1540.3 L1066.7 1564.2 L1069.4 1568.2 L1073.4 1558.9 L1077.4 1576.2 L1082.7 1578.9 L1088.0 1581.5 L1092.0 1596.1 L1094.6 1590.8 L1099.9 1594.8 L1103.9 1597.5 L1109.2 1598.8 L1115.9 1629.3 L1119.9 1614.7 L1125.2 1606.8 L1130.5 1646.6 L1134.5 1633.3 L1138.5 1629.3 L1142.5 1636.0 L1146.4 1651.9 L1151.8 1667.9 L1155.7 1662.5 L1159.7 1683.8 L1165.0 1685.1 L1169.0 1678.5 L1173.0 1683.8 L1177.0 1691.8 L1182.3 1705.1 L1185.0 1706.4 L1187.6 1721.0 L1191.6 1721.0 L1195.6 1723.7 L1198.2 1707.7 L1202.2 1723.7 L1206.2 1744.9 L1208.9 1747.6 L1212.3 1772.8 L1215.5 1762.2 L1219.5 1762.2 L1223.0 1760.8 L1226.1 1771.5 L1230.1 1787.4 L1235.4 1790.1 L1240.8 1790.1 L1244.7 1798.0 L1248.7 1800.7 L1254.0 1811.3 L1259.4 1820.6 L1263.3 1824.6 L1267.3 1825.9 L1271.3 1829.9 L1276.6 1829.9 L1281.9 1828.6 L1285.9 1832.6 L1291.2 1845.9 L1297.9 1879.1 L1303.2 1864.5 L1307.2 1861.8 L1312.5 1875.1 L1317.8 1872.4 L1321.8 1879.1 L1325.8 1885.7 L1331.1 1891.0 L1336.4 1907.0 L1338.3 1914.9 L1340.4 1907.0 L1345.2 1905.6 L1345.5 1906.2" class="sst"/>
<circle cx="1345.5" cy="1906.2" r="4" fill="#000"/>
<rect x="61" y="1469.4" width="322" height="131" class="leg"/>
<line x1="64.6" y1="1486.6" x2="97.8" y2="1486.6" class="mean" style="stroke-width:2.9"/>
<line x1="64.6" y1="1518.8" x2="97.8" y2="1518.8" class="p90l"/>
<line x1="64.6" y1="1550.6" x2="97.8" y2="1550.6" class="sst" style="stroke-width:2.9"/>
<rect x="64.8" y="1569.5" width="33.5" height="24.5" class="mhsbox"/>
<text x="102.1" y="1496.2" class="lt" textLength="274.3" lengthAdjust="spacingAndGlyphs">SST 1982-2015 mean</text>
<text x="102.1" y="1527.6" class="lt" textLength="250.7" lengthAdjust="spacingAndGlyphs">SST 1982-2015 p90</text>
<text x="102.1" y="1559.1" class="lt" textLength="120.2" lengthAdjust="spacingAndGlyphs">SST 2020</text>
<text x="101.6" y="1590.7" class="lt" textLength="129.6" lengthAdjust="spacingAndGlyphs">MHS 2020</text>
<text x="1303.2" y="1493.8" class="pl" textLength="22.1" lengthAdjust="spacingAndGlyphs">C</text>
<text x="693.6" y="1919.8" class="ld" textLength="380.9" lengthAdjust="spacingAndGlyphs">Last date: 31-December-2020</text>
<text x="23.8" y="2173.6" class="mt" textLength="41.8" lengthAdjust="spacingAndGlyphs">Jan</text>
<text x="130.4" y="2173.6" class="mt" textLength="50.0" lengthAdjust="spacingAndGlyphs">Feb</text>
<text x="228.7" y="2173.6" class="mt" textLength="52.0" lengthAdjust="spacingAndGlyphs">Mar</text>
<text x="342.8" y="2173.6" class="mt" textLength="46.6" lengthAdjust="spacingAndGlyphs">Apr</text>
<text x="443.1" y="2173.6" class="mt" textLength="57.5" lengthAdjust="spacingAndGlyphs">May</text>
<text x="562.0" y="2173.6" class="mt" textLength="42.4" lengthAdjust="spacingAndGlyphs">Jun</text>
<text x="674.6" y="2173.6" class="mt" textLength="33.4" lengthAdjust="spacingAndGlyphs">Jul</text>
<text x="774.8" y="2173.6" class="mt" textLength="53.5" lengthAdjust="spacingAndGlyphs">Aug</text>
<text x="885.4" y="2173.6" class="mt" textLength="52.9" lengthAdjust="spacingAndGlyphs">Sep</text>
<text x="994.9" y="2173.6" class="mt" textLength="47.7" lengthAdjust="spacingAndGlyphs">Oct</text>
<text x="1102.3" y="2173.6" class="mt" textLength="53.2" lengthAdjust="spacingAndGlyphs">Nov</text>
<text x="1208.2" y="2173.6" class="mt" textLength="54.3" lengthAdjust="spacingAndGlyphs">Dec</text>
</svg></body></html>
